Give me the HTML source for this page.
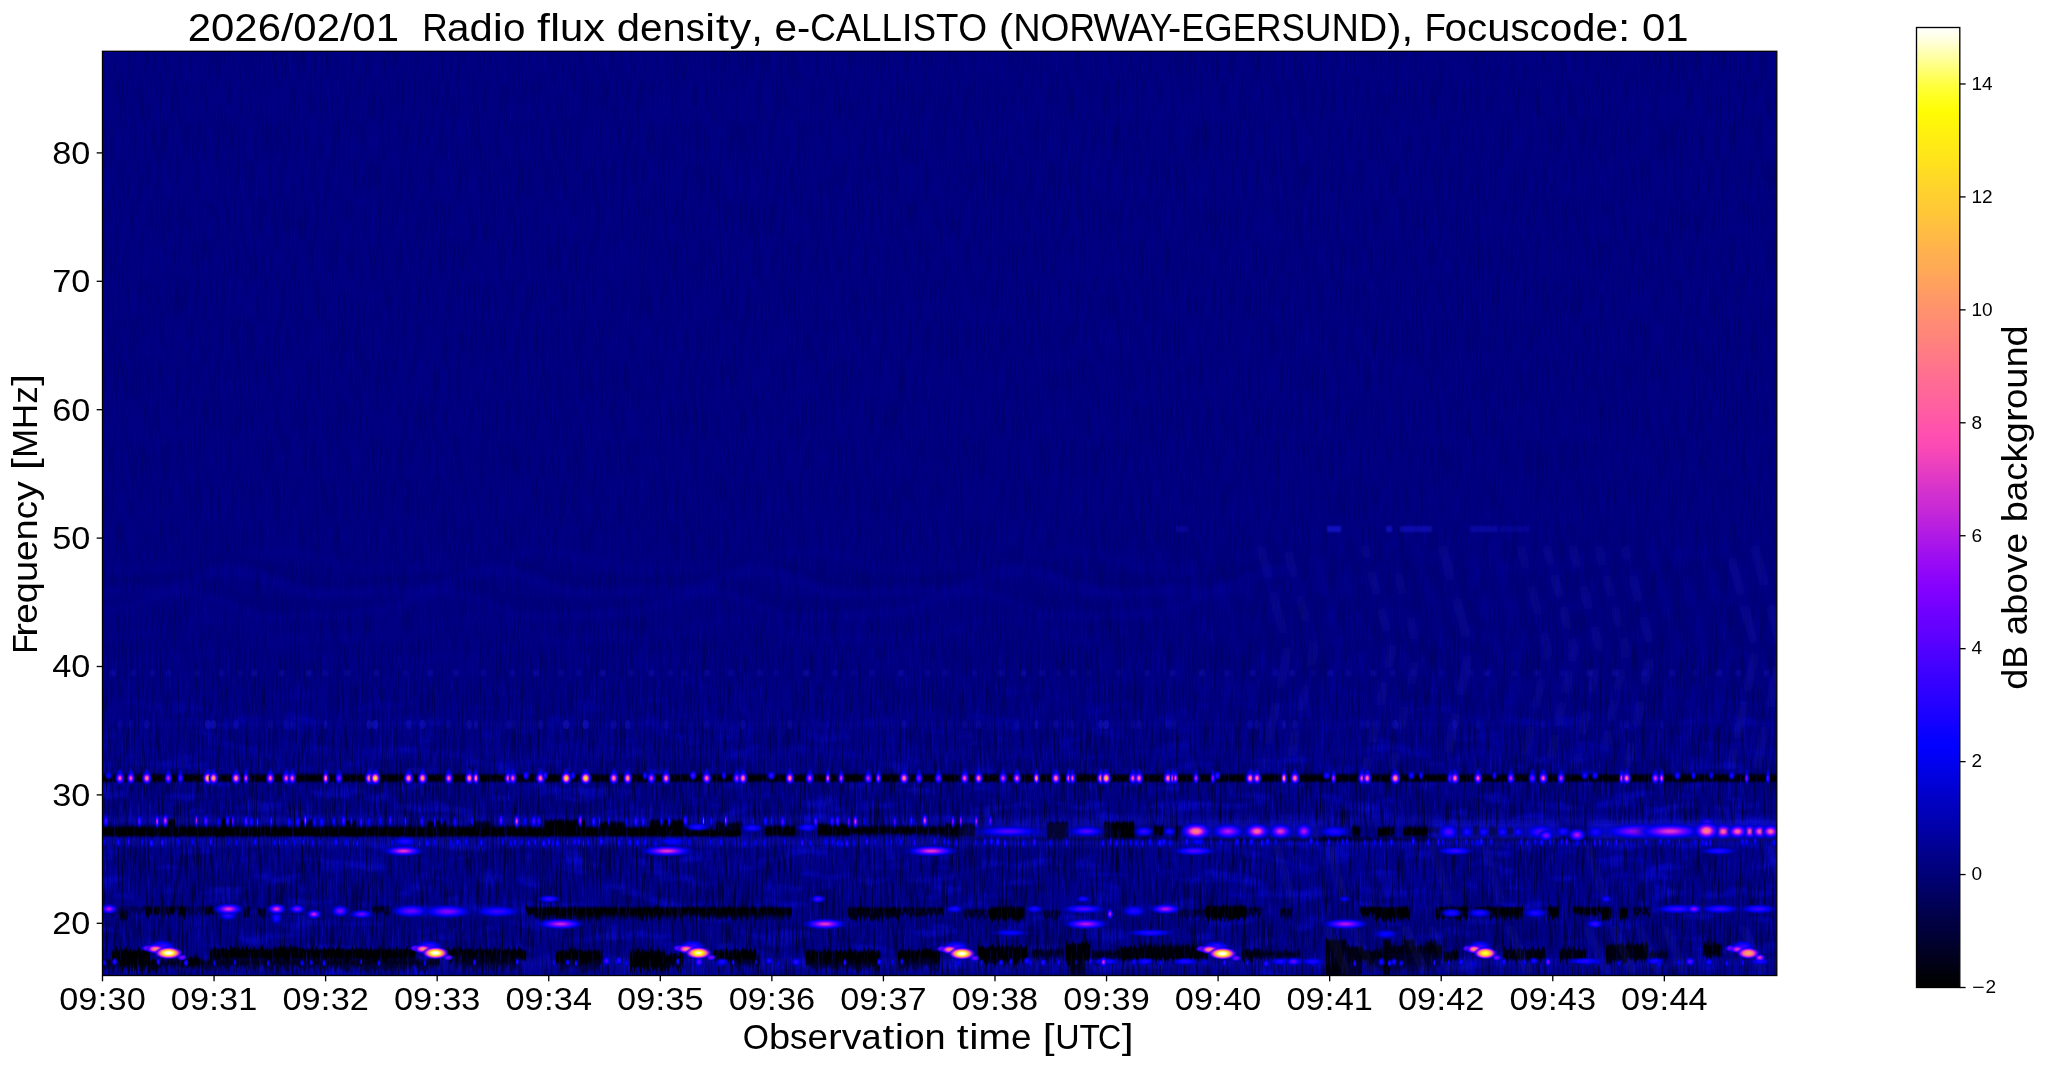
<!DOCTYPE html>
<html><head><meta charset="utf-8"><title>Radio flux density</title>
<style>html,body{margin:0;padding:0;background:#fff;overflow:hidden}svg{display:block}text{font-family:"Liberation Sans",sans-serif;fill:#000}</style>
</head><body>
<svg width="2047" height="1067" viewBox="0 0 2047 1067">
<rect x="0" y="0" width="2047" height="1067" fill="#fff"/>
<defs>
<clipPath id="pc"><rect x="102.50" y="51.30" width="1674.30" height="924.20"/></clipPath>
<linearGradient id="cb" x1="0" y1="1" x2="0" y2="0">
<stop offset="0.0000" stop-color="#000000"/>
<stop offset="0.0147" stop-color="#00000c"/>
<stop offset="0.0294" stop-color="#00001c"/>
<stop offset="0.0441" stop-color="#00002c"/>
<stop offset="0.0588" stop-color="#00003c"/>
<stop offset="0.0735" stop-color="#000048"/>
<stop offset="0.0882" stop-color="#000058"/>
<stop offset="0.1029" stop-color="#000068"/>
<stop offset="0.1176" stop-color="#000078"/>
<stop offset="0.1324" stop-color="#000084"/>
<stop offset="0.1471" stop-color="#000094"/>
<stop offset="0.1618" stop-color="#0000a4"/>
<stop offset="0.1765" stop-color="#0000b4"/>
<stop offset="0.1912" stop-color="#0000c0"/>
<stop offset="0.2059" stop-color="#0000d0"/>
<stop offset="0.2206" stop-color="#0000e0"/>
<stop offset="0.2353" stop-color="#0000f0"/>
<stop offset="0.2500" stop-color="#0100ff"/>
<stop offset="0.2647" stop-color="#0a00ff"/>
<stop offset="0.2794" stop-color="#1700ff"/>
<stop offset="0.2941" stop-color="#2300ff"/>
<stop offset="0.3088" stop-color="#3000ff"/>
<stop offset="0.3235" stop-color="#3900ff"/>
<stop offset="0.3382" stop-color="#4600ff"/>
<stop offset="0.3529" stop-color="#5200ff"/>
<stop offset="0.3676" stop-color="#5f00ff"/>
<stop offset="0.3824" stop-color="#6800ff"/>
<stop offset="0.3971" stop-color="#7400ff"/>
<stop offset="0.4118" stop-color="#8100ff"/>
<stop offset="0.4265" stop-color="#8d04fb"/>
<stop offset="0.4412" stop-color="#970af5"/>
<stop offset="0.4559" stop-color="#a312ed"/>
<stop offset="0.4706" stop-color="#b01ae5"/>
<stop offset="0.4853" stop-color="#bc22dd"/>
<stop offset="0.5000" stop-color="#c92ad5"/>
<stop offset="0.5147" stop-color="#d230cf"/>
<stop offset="0.5294" stop-color="#df38c7"/>
<stop offset="0.5441" stop-color="#eb40bf"/>
<stop offset="0.5588" stop-color="#f848b7"/>
<stop offset="0.5735" stop-color="#ff4eb1"/>
<stop offset="0.5882" stop-color="#ff56a9"/>
<stop offset="0.6029" stop-color="#ff5ea1"/>
<stop offset="0.6176" stop-color="#ff6699"/>
<stop offset="0.6324" stop-color="#ff6c93"/>
<stop offset="0.6471" stop-color="#ff748b"/>
<stop offset="0.6618" stop-color="#ff7c83"/>
<stop offset="0.6765" stop-color="#ff847b"/>
<stop offset="0.6912" stop-color="#ff8a75"/>
<stop offset="0.7059" stop-color="#ff926d"/>
<stop offset="0.7206" stop-color="#ff9a65"/>
<stop offset="0.7353" stop-color="#ffa25d"/>
<stop offset="0.7500" stop-color="#ffaa55"/>
<stop offset="0.7647" stop-color="#ffb04f"/>
<stop offset="0.7794" stop-color="#ffb847"/>
<stop offset="0.7941" stop-color="#ffc03f"/>
<stop offset="0.8088" stop-color="#ffc837"/>
<stop offset="0.8235" stop-color="#ffce31"/>
<stop offset="0.8382" stop-color="#ffd629"/>
<stop offset="0.8529" stop-color="#ffde21"/>
<stop offset="0.8676" stop-color="#ffe619"/>
<stop offset="0.8824" stop-color="#ffec13"/>
<stop offset="0.8971" stop-color="#fff40b"/>
<stop offset="0.9118" stop-color="#fffc03"/>
<stop offset="0.9265" stop-color="#ffff1e"/>
<stop offset="0.9412" stop-color="#ffff43"/>
<stop offset="0.9559" stop-color="#ffff75"/>
<stop offset="0.9706" stop-color="#ffffa7"/>
<stop offset="0.9853" stop-color="#ffffda"/>
<stop offset="1.0000" stop-color="#ffffff"/>
</linearGradient>
<radialGradient id="g4">
<stop offset="0.00" stop-color="#0000f0" stop-opacity="1.00"/>
<stop offset="0.10" stop-color="#0000ec" stop-opacity="1.00"/>
<stop offset="0.20" stop-color="#0000dc" stop-opacity="0.94"/>
<stop offset="0.30" stop-color="#0000cc" stop-opacity="0.68"/>
<stop offset="0.40" stop-color="#0000bc" stop-opacity="0.42"/>
<stop offset="0.50" stop-color="#0000ac" stop-opacity="0.21"/>
<stop offset="0.60" stop-color="#0000a4" stop-opacity="0.06"/>
<stop offset="0.70" stop-color="#00009c" stop-opacity="0.00"/>
<stop offset="0.80" stop-color="#000098" stop-opacity="0.00"/>
<stop offset="0.90" stop-color="#000098" stop-opacity="0.00"/>
<stop offset="1.00" stop-color="#000098" stop-opacity="0.00"/>
</radialGradient>
<radialGradient id="g5">
<stop offset="0.00" stop-color="#0a00ff" stop-opacity="1.00"/>
<stop offset="0.10" stop-color="#0700ff" stop-opacity="1.00"/>
<stop offset="0.20" stop-color="#0000f4" stop-opacity="1.00"/>
<stop offset="0.30" stop-color="#0000e0" stop-opacity="0.96"/>
<stop offset="0.40" stop-color="#0000c8" stop-opacity="0.61"/>
<stop offset="0.50" stop-color="#0000b4" stop-opacity="0.32"/>
<stop offset="0.60" stop-color="#0000a8" stop-opacity="0.12"/>
<stop offset="0.70" stop-color="#0000a0" stop-opacity="0.00"/>
<stop offset="0.80" stop-color="#00009c" stop-opacity="0.00"/>
<stop offset="0.90" stop-color="#000098" stop-opacity="0.00"/>
<stop offset="1.00" stop-color="#000098" stop-opacity="0.00"/>
</radialGradient>
<radialGradient id="g6">
<stop offset="0.00" stop-color="#2300ff" stop-opacity="1.00"/>
<stop offset="0.10" stop-color="#1d00ff" stop-opacity="1.00"/>
<stop offset="0.20" stop-color="#0a00ff" stop-opacity="1.00"/>
<stop offset="0.30" stop-color="#0000f0" stop-opacity="1.00"/>
<stop offset="0.40" stop-color="#0000d4" stop-opacity="0.79"/>
<stop offset="0.50" stop-color="#0000bc" stop-opacity="0.43"/>
<stop offset="0.60" stop-color="#0000ac" stop-opacity="0.18"/>
<stop offset="0.70" stop-color="#0000a0" stop-opacity="0.03"/>
<stop offset="0.80" stop-color="#00009c" stop-opacity="0.00"/>
<stop offset="0.90" stop-color="#000098" stop-opacity="0.00"/>
<stop offset="1.00" stop-color="#000098" stop-opacity="0.00"/>
</radialGradient>
<radialGradient id="g7">
<stop offset="0.00" stop-color="#3900ff" stop-opacity="1.00"/>
<stop offset="0.10" stop-color="#3300ff" stop-opacity="1.00"/>
<stop offset="0.20" stop-color="#1d00ff" stop-opacity="1.00"/>
<stop offset="0.30" stop-color="#0400ff" stop-opacity="1.00"/>
<stop offset="0.40" stop-color="#0000e0" stop-opacity="0.97"/>
<stop offset="0.50" stop-color="#0000c4" stop-opacity="0.54"/>
<stop offset="0.60" stop-color="#0000b0" stop-opacity="0.24"/>
<stop offset="0.70" stop-color="#0000a4" stop-opacity="0.06"/>
<stop offset="0.80" stop-color="#00009c" stop-opacity="0.00"/>
<stop offset="0.90" stop-color="#000098" stop-opacity="0.00"/>
<stop offset="1.00" stop-color="#000098" stop-opacity="0.00"/>
</radialGradient>
<radialGradient id="g8">
<stop offset="0.00" stop-color="#5200ff" stop-opacity="1.00"/>
<stop offset="0.10" stop-color="#4900ff" stop-opacity="1.00"/>
<stop offset="0.20" stop-color="#3000ff" stop-opacity="1.00"/>
<stop offset="0.30" stop-color="#1000ff" stop-opacity="1.00"/>
<stop offset="0.40" stop-color="#0000ec" stop-opacity="1.00"/>
<stop offset="0.50" stop-color="#0000c8" stop-opacity="0.65"/>
<stop offset="0.60" stop-color="#0000b4" stop-opacity="0.30"/>
<stop offset="0.70" stop-color="#0000a4" stop-opacity="0.09"/>
<stop offset="0.80" stop-color="#00009c" stop-opacity="0.00"/>
<stop offset="0.90" stop-color="#000098" stop-opacity="0.00"/>
<stop offset="1.00" stop-color="#000098" stop-opacity="0.00"/>
</radialGradient>
<radialGradient id="g9">
<stop offset="0.00" stop-color="#6800ff" stop-opacity="1.00"/>
<stop offset="0.10" stop-color="#5f00ff" stop-opacity="1.00"/>
<stop offset="0.20" stop-color="#4200ff" stop-opacity="1.00"/>
<stop offset="0.30" stop-color="#2000ff" stop-opacity="1.00"/>
<stop offset="0.40" stop-color="#0000f8" stop-opacity="1.00"/>
<stop offset="0.50" stop-color="#0000d0" stop-opacity="0.76"/>
<stop offset="0.60" stop-color="#0000b8" stop-opacity="0.36"/>
<stop offset="0.70" stop-color="#0000a8" stop-opacity="0.11"/>
<stop offset="0.80" stop-color="#00009c" stop-opacity="0.00"/>
<stop offset="0.90" stop-color="#00009c" stop-opacity="0.00"/>
<stop offset="1.00" stop-color="#000098" stop-opacity="0.00"/>
</radialGradient>
<radialGradient id="g10">
<stop offset="0.00" stop-color="#8100ff" stop-opacity="1.00"/>
<stop offset="0.10" stop-color="#7400ff" stop-opacity="1.00"/>
<stop offset="0.20" stop-color="#5500ff" stop-opacity="1.00"/>
<stop offset="0.30" stop-color="#2d00ff" stop-opacity="1.00"/>
<stop offset="0.40" stop-color="#0400ff" stop-opacity="1.00"/>
<stop offset="0.50" stop-color="#0000d8" stop-opacity="0.87"/>
<stop offset="0.60" stop-color="#0000bc" stop-opacity="0.42"/>
<stop offset="0.70" stop-color="#0000a8" stop-opacity="0.14"/>
<stop offset="0.80" stop-color="#0000a0" stop-opacity="0.00"/>
<stop offset="0.90" stop-color="#00009c" stop-opacity="0.00"/>
<stop offset="1.00" stop-color="#000098" stop-opacity="0.00"/>
</radialGradient>
<radialGradient id="g11">
<stop offset="0.00" stop-color="#970af5" stop-opacity="1.00"/>
<stop offset="0.10" stop-color="#8a02fd" stop-opacity="1.00"/>
<stop offset="0.20" stop-color="#6800ff" stop-opacity="1.00"/>
<stop offset="0.30" stop-color="#3c00ff" stop-opacity="1.00"/>
<stop offset="0.40" stop-color="#0d00ff" stop-opacity="1.00"/>
<stop offset="0.50" stop-color="#0000e0" stop-opacity="0.98"/>
<stop offset="0.60" stop-color="#0000c0" stop-opacity="0.48"/>
<stop offset="0.70" stop-color="#0000ac" stop-opacity="0.17"/>
<stop offset="0.80" stop-color="#0000a0" stop-opacity="0.01"/>
<stop offset="0.90" stop-color="#00009c" stop-opacity="0.00"/>
<stop offset="1.00" stop-color="#000098" stop-opacity="0.00"/>
</radialGradient>
<radialGradient id="g12">
<stop offset="0.00" stop-color="#b01ae5" stop-opacity="1.00"/>
<stop offset="0.10" stop-color="#a010ef" stop-opacity="1.00"/>
<stop offset="0.20" stop-color="#7b00ff" stop-opacity="1.00"/>
<stop offset="0.30" stop-color="#4900ff" stop-opacity="1.00"/>
<stop offset="0.40" stop-color="#1700ff" stop-opacity="1.00"/>
<stop offset="0.50" stop-color="#0000e8" stop-opacity="1.00"/>
<stop offset="0.60" stop-color="#0000c4" stop-opacity="0.53"/>
<stop offset="0.70" stop-color="#0000ac" stop-opacity="0.20"/>
<stop offset="0.80" stop-color="#0000a0" stop-opacity="0.02"/>
<stop offset="0.90" stop-color="#00009c" stop-opacity="0.00"/>
<stop offset="1.00" stop-color="#000098" stop-opacity="0.00"/>
</radialGradient>
<radialGradient id="g13">
<stop offset="0.00" stop-color="#c92ad5" stop-opacity="1.00"/>
<stop offset="0.10" stop-color="#b920df" stop-opacity="1.00"/>
<stop offset="0.20" stop-color="#8d04fb" stop-opacity="1.00"/>
<stop offset="0.30" stop-color="#5800ff" stop-opacity="1.00"/>
<stop offset="0.40" stop-color="#2000ff" stop-opacity="1.00"/>
<stop offset="0.50" stop-color="#0000f0" stop-opacity="1.00"/>
<stop offset="0.60" stop-color="#0000c8" stop-opacity="0.59"/>
<stop offset="0.70" stop-color="#0000ac" stop-opacity="0.23"/>
<stop offset="0.80" stop-color="#0000a0" stop-opacity="0.03"/>
<stop offset="0.90" stop-color="#00009c" stop-opacity="0.00"/>
<stop offset="1.00" stop-color="#000098" stop-opacity="0.00"/>
</radialGradient>
<radialGradient id="g14">
<stop offset="0.00" stop-color="#df38c7" stop-opacity="1.00"/>
<stop offset="0.10" stop-color="#cf2ed1" stop-opacity="1.00"/>
<stop offset="0.20" stop-color="#a010ef" stop-opacity="1.00"/>
<stop offset="0.30" stop-color="#6500ff" stop-opacity="1.00"/>
<stop offset="0.40" stop-color="#2900ff" stop-opacity="1.00"/>
<stop offset="0.50" stop-color="#0000f4" stop-opacity="1.00"/>
<stop offset="0.60" stop-color="#0000cc" stop-opacity="0.65"/>
<stop offset="0.70" stop-color="#0000b0" stop-opacity="0.26"/>
<stop offset="0.80" stop-color="#0000a0" stop-opacity="0.05"/>
<stop offset="0.90" stop-color="#00009c" stop-opacity="0.00"/>
<stop offset="1.00" stop-color="#000098" stop-opacity="0.00"/>
</radialGradient>
<radialGradient id="g15">
<stop offset="0.00" stop-color="#f848b7" stop-opacity="1.00"/>
<stop offset="0.10" stop-color="#e53cc3" stop-opacity="1.00"/>
<stop offset="0.20" stop-color="#b31ce3" stop-opacity="1.00"/>
<stop offset="0.30" stop-color="#7400ff" stop-opacity="1.00"/>
<stop offset="0.40" stop-color="#3300ff" stop-opacity="1.00"/>
<stop offset="0.50" stop-color="#0000fc" stop-opacity="1.00"/>
<stop offset="0.60" stop-color="#0000cc" stop-opacity="0.71"/>
<stop offset="0.70" stop-color="#0000b0" stop-opacity="0.28"/>
<stop offset="0.80" stop-color="#0000a4" stop-opacity="0.06"/>
<stop offset="0.90" stop-color="#00009c" stop-opacity="0.00"/>
<stop offset="1.00" stop-color="#000098" stop-opacity="0.00"/>
</radialGradient>
<radialGradient id="g16">
<stop offset="0.00" stop-color="#ff56a9" stop-opacity="1.00"/>
<stop offset="0.10" stop-color="#fb4ab5" stop-opacity="1.00"/>
<stop offset="0.20" stop-color="#c628d7" stop-opacity="1.00"/>
<stop offset="0.30" stop-color="#8100ff" stop-opacity="1.00"/>
<stop offset="0.40" stop-color="#3c00ff" stop-opacity="1.00"/>
<stop offset="0.50" stop-color="#0400ff" stop-opacity="1.00"/>
<stop offset="0.60" stop-color="#0000d0" stop-opacity="0.77"/>
<stop offset="0.70" stop-color="#0000b4" stop-opacity="0.31"/>
<stop offset="0.80" stop-color="#0000a4" stop-opacity="0.07"/>
<stop offset="0.90" stop-color="#00009c" stop-opacity="0.00"/>
<stop offset="1.00" stop-color="#000098" stop-opacity="0.00"/>
</radialGradient>
<radialGradient id="g17">
<stop offset="0.00" stop-color="#ff6699" stop-opacity="1.00"/>
<stop offset="0.10" stop-color="#ff58a7" stop-opacity="1.00"/>
<stop offset="0.20" stop-color="#d834cb" stop-opacity="1.00"/>
<stop offset="0.30" stop-color="#9106f9" stop-opacity="1.00"/>
<stop offset="0.40" stop-color="#4600ff" stop-opacity="1.00"/>
<stop offset="0.50" stop-color="#0a00ff" stop-opacity="1.00"/>
<stop offset="0.60" stop-color="#0000d4" stop-opacity="0.83"/>
<stop offset="0.70" stop-color="#0000b4" stop-opacity="0.34"/>
<stop offset="0.80" stop-color="#0000a4" stop-opacity="0.08"/>
<stop offset="0.90" stop-color="#00009c" stop-opacity="0.00"/>
<stop offset="1.00" stop-color="#000098" stop-opacity="0.00"/>
</radialGradient>
<radialGradient id="g18">
<stop offset="0.00" stop-color="#ff748b" stop-opacity="1.00"/>
<stop offset="0.10" stop-color="#ff6699" stop-opacity="1.00"/>
<stop offset="0.20" stop-color="#eb40bf" stop-opacity="1.00"/>
<stop offset="0.30" stop-color="#9d0ef1" stop-opacity="1.00"/>
<stop offset="0.40" stop-color="#4f00ff" stop-opacity="1.00"/>
<stop offset="0.50" stop-color="#1000ff" stop-opacity="1.00"/>
<stop offset="0.60" stop-color="#0000d8" stop-opacity="0.89"/>
<stop offset="0.70" stop-color="#0000b8" stop-opacity="0.37"/>
<stop offset="0.80" stop-color="#0000a4" stop-opacity="0.09"/>
<stop offset="0.90" stop-color="#00009c" stop-opacity="0.00"/>
<stop offset="1.00" stop-color="#000098" stop-opacity="0.00"/>
</radialGradient>
<radialGradient id="g19">
<stop offset="0.00" stop-color="#ff847b" stop-opacity="1.00"/>
<stop offset="0.10" stop-color="#ff748b" stop-opacity="1.00"/>
<stop offset="0.20" stop-color="#fe4cb3" stop-opacity="1.00"/>
<stop offset="0.30" stop-color="#ad18e7" stop-opacity="1.00"/>
<stop offset="0.40" stop-color="#5800ff" stop-opacity="1.00"/>
<stop offset="0.50" stop-color="#1700ff" stop-opacity="1.00"/>
<stop offset="0.60" stop-color="#0000dc" stop-opacity="0.95"/>
<stop offset="0.70" stop-color="#0000b8" stop-opacity="0.40"/>
<stop offset="0.80" stop-color="#0000a4" stop-opacity="0.11"/>
<stop offset="0.90" stop-color="#00009c" stop-opacity="0.00"/>
<stop offset="1.00" stop-color="#000098" stop-opacity="0.00"/>
</radialGradient>
<radialGradient id="g20">
<stop offset="0.00" stop-color="#ff926d" stop-opacity="1.00"/>
<stop offset="0.10" stop-color="#ff827d" stop-opacity="1.00"/>
<stop offset="0.20" stop-color="#ff58a7" stop-opacity="1.00"/>
<stop offset="0.30" stop-color="#b920df" stop-opacity="1.00"/>
<stop offset="0.40" stop-color="#6200ff" stop-opacity="1.00"/>
<stop offset="0.50" stop-color="#1a00ff" stop-opacity="1.00"/>
<stop offset="0.60" stop-color="#0000e0" stop-opacity="1.00"/>
<stop offset="0.70" stop-color="#0000bc" stop-opacity="0.43"/>
<stop offset="0.80" stop-color="#0000a8" stop-opacity="0.12"/>
<stop offset="0.90" stop-color="#00009c" stop-opacity="0.00"/>
<stop offset="1.00" stop-color="#000098" stop-opacity="0.00"/>
</radialGradient>
<radialGradient id="g21">
<stop offset="0.00" stop-color="#ffa25d" stop-opacity="1.00"/>
<stop offset="0.10" stop-color="#ff906f" stop-opacity="1.00"/>
<stop offset="0.20" stop-color="#ff649b" stop-opacity="1.00"/>
<stop offset="0.30" stop-color="#c92ad5" stop-opacity="1.00"/>
<stop offset="0.40" stop-color="#6b00ff" stop-opacity="1.00"/>
<stop offset="0.50" stop-color="#2000ff" stop-opacity="1.00"/>
<stop offset="0.60" stop-color="#0000e4" stop-opacity="1.00"/>
<stop offset="0.70" stop-color="#0000bc" stop-opacity="0.45"/>
<stop offset="0.80" stop-color="#0000a8" stop-opacity="0.13"/>
<stop offset="0.90" stop-color="#00009c" stop-opacity="0.00"/>
<stop offset="1.00" stop-color="#000098" stop-opacity="0.00"/>
</radialGradient>
<radialGradient id="g22">
<stop offset="0.00" stop-color="#ffb04f" stop-opacity="1.00"/>
<stop offset="0.10" stop-color="#ffa05f" stop-opacity="1.00"/>
<stop offset="0.20" stop-color="#ff708f" stop-opacity="1.00"/>
<stop offset="0.30" stop-color="#d532cd" stop-opacity="1.00"/>
<stop offset="0.40" stop-color="#7400ff" stop-opacity="1.00"/>
<stop offset="0.50" stop-color="#2600ff" stop-opacity="1.00"/>
<stop offset="0.60" stop-color="#0000e8" stop-opacity="1.00"/>
<stop offset="0.70" stop-color="#0000c0" stop-opacity="0.48"/>
<stop offset="0.80" stop-color="#0000a8" stop-opacity="0.14"/>
<stop offset="0.90" stop-color="#00009c" stop-opacity="0.00"/>
<stop offset="1.00" stop-color="#000098" stop-opacity="0.00"/>
</radialGradient>
<radialGradient id="g23">
<stop offset="0.00" stop-color="#ffc03f" stop-opacity="1.00"/>
<stop offset="0.10" stop-color="#ffae51" stop-opacity="1.00"/>
<stop offset="0.20" stop-color="#ff7c83" stop-opacity="1.00"/>
<stop offset="0.30" stop-color="#e53cc3" stop-opacity="1.00"/>
<stop offset="0.40" stop-color="#7e00ff" stop-opacity="1.00"/>
<stop offset="0.50" stop-color="#2d00ff" stop-opacity="1.00"/>
<stop offset="0.60" stop-color="#0000ec" stop-opacity="1.00"/>
<stop offset="0.70" stop-color="#0000c0" stop-opacity="0.51"/>
<stop offset="0.80" stop-color="#0000a8" stop-opacity="0.16"/>
<stop offset="0.90" stop-color="#0000a0" stop-opacity="0.00"/>
<stop offset="1.00" stop-color="#000098" stop-opacity="0.00"/>
</radialGradient>
<radialGradient id="g24">
<stop offset="0.00" stop-color="#ffce31" stop-opacity="1.00"/>
<stop offset="0.10" stop-color="#ffbc43" stop-opacity="1.00"/>
<stop offset="0.20" stop-color="#ff8877" stop-opacity="1.00"/>
<stop offset="0.30" stop-color="#f144bb" stop-opacity="1.00"/>
<stop offset="0.40" stop-color="#8a02fd" stop-opacity="1.00"/>
<stop offset="0.50" stop-color="#3300ff" stop-opacity="1.00"/>
<stop offset="0.60" stop-color="#0000f0" stop-opacity="1.00"/>
<stop offset="0.70" stop-color="#0000c4" stop-opacity="0.54"/>
<stop offset="0.80" stop-color="#0000a8" stop-opacity="0.17"/>
<stop offset="0.90" stop-color="#0000a0" stop-opacity="0.00"/>
<stop offset="1.00" stop-color="#000098" stop-opacity="0.00"/>
</radialGradient>
<radialGradient id="g25">
<stop offset="0.00" stop-color="#ffde21" stop-opacity="1.00"/>
<stop offset="0.10" stop-color="#ffca35" stop-opacity="1.00"/>
<stop offset="0.20" stop-color="#ff946b" stop-opacity="1.00"/>
<stop offset="0.30" stop-color="#ff4eb1" stop-opacity="1.00"/>
<stop offset="0.40" stop-color="#9408f7" stop-opacity="1.00"/>
<stop offset="0.50" stop-color="#3900ff" stop-opacity="1.00"/>
<stop offset="0.60" stop-color="#0000f4" stop-opacity="1.00"/>
<stop offset="0.70" stop-color="#0000c4" stop-opacity="0.57"/>
<stop offset="0.80" stop-color="#0000ac" stop-opacity="0.18"/>
<stop offset="0.90" stop-color="#0000a0" stop-opacity="0.00"/>
<stop offset="1.00" stop-color="#00009c" stop-opacity="0.00"/>
</radialGradient>
<radialGradient id="g26">
<stop offset="0.00" stop-color="#ffec13" stop-opacity="1.00"/>
<stop offset="0.10" stop-color="#ffd827" stop-opacity="1.00"/>
<stop offset="0.20" stop-color="#ffa05f" stop-opacity="1.00"/>
<stop offset="0.30" stop-color="#ff56a9" stop-opacity="1.00"/>
<stop offset="0.40" stop-color="#9d0ef1" stop-opacity="1.00"/>
<stop offset="0.50" stop-color="#3c00ff" stop-opacity="1.00"/>
<stop offset="0.60" stop-color="#0000f8" stop-opacity="1.00"/>
<stop offset="0.70" stop-color="#0000c8" stop-opacity="0.59"/>
<stop offset="0.80" stop-color="#0000ac" stop-opacity="0.19"/>
<stop offset="0.90" stop-color="#0000a0" stop-opacity="0.01"/>
<stop offset="1.00" stop-color="#00009c" stop-opacity="0.00"/>
</radialGradient>
<radialGradient id="g27">
<stop offset="0.00" stop-color="#fffc03" stop-opacity="1.00"/>
<stop offset="0.10" stop-color="#ffe619" stop-opacity="1.00"/>
<stop offset="0.20" stop-color="#ffac53" stop-opacity="1.00"/>
<stop offset="0.30" stop-color="#ff609f" stop-opacity="1.00"/>
<stop offset="0.40" stop-color="#a614eb" stop-opacity="1.00"/>
<stop offset="0.50" stop-color="#4200ff" stop-opacity="1.00"/>
<stop offset="0.60" stop-color="#0000fc" stop-opacity="1.00"/>
<stop offset="0.70" stop-color="#0000c8" stop-opacity="0.62"/>
<stop offset="0.80" stop-color="#0000ac" stop-opacity="0.20"/>
<stop offset="0.90" stop-color="#0000a0" stop-opacity="0.01"/>
<stop offset="1.00" stop-color="#00009c" stop-opacity="0.00"/>
</radialGradient>
<radialGradient id="g28">
<stop offset="0.00" stop-color="#ffff43" stop-opacity="1.00"/>
<stop offset="0.10" stop-color="#fff40b" stop-opacity="1.00"/>
<stop offset="0.20" stop-color="#ffb847" stop-opacity="1.00"/>
<stop offset="0.30" stop-color="#ff6a95" stop-opacity="1.00"/>
<stop offset="0.40" stop-color="#b01ae5" stop-opacity="1.00"/>
<stop offset="0.50" stop-color="#4900ff" stop-opacity="1.00"/>
<stop offset="0.60" stop-color="#0100ff" stop-opacity="1.00"/>
<stop offset="0.70" stop-color="#0000c8" stop-opacity="0.65"/>
<stop offset="0.80" stop-color="#0000ac" stop-opacity="0.22"/>
<stop offset="0.90" stop-color="#0000a0" stop-opacity="0.01"/>
<stop offset="1.00" stop-color="#00009c" stop-opacity="0.00"/>
</radialGradient>
<radialGradient id="g29">
<stop offset="0.00" stop-color="#ffffa7" stop-opacity="1.00"/>
<stop offset="0.10" stop-color="#ffff11" stop-opacity="1.00"/>
<stop offset="0.20" stop-color="#ffc43b" stop-opacity="1.00"/>
<stop offset="0.30" stop-color="#ff728d" stop-opacity="1.00"/>
<stop offset="0.40" stop-color="#b920df" stop-opacity="1.00"/>
<stop offset="0.50" stop-color="#4f00ff" stop-opacity="1.00"/>
<stop offset="0.60" stop-color="#0400ff" stop-opacity="1.00"/>
<stop offset="0.70" stop-color="#0000cc" stop-opacity="0.68"/>
<stop offset="0.80" stop-color="#0000ac" stop-opacity="0.23"/>
<stop offset="0.90" stop-color="#0000a0" stop-opacity="0.02"/>
<stop offset="1.00" stop-color="#00009c" stop-opacity="0.00"/>
</radialGradient>
<radialGradient id="g30">
<stop offset="0.00" stop-color="#ffffff" stop-opacity="1.00"/>
<stop offset="0.10" stop-color="#ffff75" stop-opacity="1.00"/>
<stop offset="0.20" stop-color="#ffd02f" stop-opacity="1.00"/>
<stop offset="0.30" stop-color="#ff7c83" stop-opacity="1.00"/>
<stop offset="0.40" stop-color="#c326d9" stop-opacity="1.00"/>
<stop offset="0.50" stop-color="#5500ff" stop-opacity="1.00"/>
<stop offset="0.60" stop-color="#0700ff" stop-opacity="1.00"/>
<stop offset="0.70" stop-color="#0000cc" stop-opacity="0.71"/>
<stop offset="0.80" stop-color="#0000b0" stop-opacity="0.24"/>
<stop offset="0.90" stop-color="#0000a0" stop-opacity="0.02"/>
<stop offset="1.00" stop-color="#00009c" stop-opacity="0.00"/>
</radialGradient>
<radialGradient id="h10">
<stop offset="0.00" stop-color="#8100ff" stop-opacity="1.00"/>
<stop offset="0.10" stop-color="#7800ff" stop-opacity="1.00"/>
<stop offset="0.20" stop-color="#6200ff" stop-opacity="1.00"/>
<stop offset="0.30" stop-color="#4200ff" stop-opacity="1.00"/>
<stop offset="0.40" stop-color="#1d00ff" stop-opacity="0.65"/>
<stop offset="0.50" stop-color="#0000fc" stop-opacity="0.29"/>
<stop offset="0.60" stop-color="#0000d8" stop-opacity="0.00"/>
<stop offset="0.70" stop-color="#0000bc" stop-opacity="0.00"/>
<stop offset="0.80" stop-color="#0000ac" stop-opacity="0.00"/>
<stop offset="0.90" stop-color="#0000a4" stop-opacity="0.00"/>
<stop offset="1.00" stop-color="#00009c" stop-opacity="0.00"/>
</radialGradient>
<radialGradient id="h11">
<stop offset="0.00" stop-color="#970af5" stop-opacity="1.00"/>
<stop offset="0.10" stop-color="#9106f9" stop-opacity="1.00"/>
<stop offset="0.20" stop-color="#7400ff" stop-opacity="1.00"/>
<stop offset="0.30" stop-color="#5200ff" stop-opacity="1.00"/>
<stop offset="0.40" stop-color="#2900ff" stop-opacity="0.78"/>
<stop offset="0.50" stop-color="#0400ff" stop-opacity="0.39"/>
<stop offset="0.60" stop-color="#0000e0" stop-opacity="0.06"/>
<stop offset="0.70" stop-color="#0000c0" stop-opacity="0.00"/>
<stop offset="0.80" stop-color="#0000b0" stop-opacity="0.00"/>
<stop offset="0.90" stop-color="#0000a4" stop-opacity="0.00"/>
<stop offset="1.00" stop-color="#00009c" stop-opacity="0.00"/>
</radialGradient>
<radialGradient id="h14">
<stop offset="0.00" stop-color="#df38c7" stop-opacity="1.00"/>
<stop offset="0.10" stop-color="#d230cf" stop-opacity="1.00"/>
<stop offset="0.20" stop-color="#b31ce3" stop-opacity="1.00"/>
<stop offset="0.30" stop-color="#8400ff" stop-opacity="1.00"/>
<stop offset="0.40" stop-color="#4f00ff" stop-opacity="1.00"/>
<stop offset="0.50" stop-color="#2000ff" stop-opacity="0.66"/>
<stop offset="0.60" stop-color="#0000f4" stop-opacity="0.24"/>
<stop offset="0.70" stop-color="#0000d0" stop-opacity="0.00"/>
<stop offset="0.80" stop-color="#0000b4" stop-opacity="0.00"/>
<stop offset="0.90" stop-color="#0000a8" stop-opacity="0.00"/>
<stop offset="1.00" stop-color="#0000a0" stop-opacity="0.00"/>
</radialGradient>
<radialGradient id="h17">
<stop offset="0.00" stop-color="#ff6699" stop-opacity="1.00"/>
<stop offset="0.10" stop-color="#ff5ca3" stop-opacity="1.00"/>
<stop offset="0.20" stop-color="#ee42bd" stop-opacity="1.00"/>
<stop offset="0.30" stop-color="#b31ce3" stop-opacity="1.00"/>
<stop offset="0.40" stop-color="#7400ff" stop-opacity="1.00"/>
<stop offset="0.50" stop-color="#3900ff" stop-opacity="0.94"/>
<stop offset="0.60" stop-color="#0700ff" stop-opacity="0.42"/>
<stop offset="0.70" stop-color="#0000dc" stop-opacity="0.03"/>
<stop offset="0.80" stop-color="#0000bc" stop-opacity="0.00"/>
<stop offset="0.90" stop-color="#0000ac" stop-opacity="0.00"/>
<stop offset="1.00" stop-color="#0000a0" stop-opacity="0.00"/>
</radialGradient>
<radialGradient id="h20">
<stop offset="0.00" stop-color="#ff926d" stop-opacity="1.00"/>
<stop offset="0.10" stop-color="#ff8877" stop-opacity="1.00"/>
<stop offset="0.20" stop-color="#ff6897" stop-opacity="1.00"/>
<stop offset="0.30" stop-color="#e53cc3" stop-opacity="1.00"/>
<stop offset="0.40" stop-color="#9a0cf3" stop-opacity="1.00"/>
<stop offset="0.50" stop-color="#5200ff" stop-opacity="1.00"/>
<stop offset="0.60" stop-color="#1a00ff" stop-opacity="0.59"/>
<stop offset="0.70" stop-color="#0000e8" stop-opacity="0.14"/>
<stop offset="0.80" stop-color="#0000c4" stop-opacity="0.00"/>
<stop offset="0.90" stop-color="#0000ac" stop-opacity="0.00"/>
<stop offset="1.00" stop-color="#0000a4" stop-opacity="0.00"/>
</radialGradient>
<radialGradient id="c30">
<stop offset="0.00" stop-color="#ffffff" stop-opacity="1.00"/>
<stop offset="0.12" stop-color="#ffffff" stop-opacity="1.00"/>
<stop offset="0.25" stop-color="#ffff75" stop-opacity="1.00"/>
<stop offset="0.38" stop-color="#ffcc33" stop-opacity="1.00"/>
<stop offset="0.50" stop-color="#ff7689" stop-opacity="1.00"/>
<stop offset="0.62" stop-color="#b31ce3" stop-opacity="1.00"/>
<stop offset="0.74" stop-color="#3f00ff" stop-opacity="0.77"/>
<stop offset="0.86" stop-color="#0000f0" stop-opacity="0.08"/>
<stop offset="1.00" stop-color="#0000b4" stop-opacity="0.00"/>
</radialGradient>
<radialGradient id="c30">
<stop offset="0.00" stop-color="#ffffff" stop-opacity="1.00"/>
<stop offset="0.12" stop-color="#ffffff" stop-opacity="1.00"/>
<stop offset="0.25" stop-color="#ffff75" stop-opacity="1.00"/>
<stop offset="0.38" stop-color="#ffcc33" stop-opacity="1.00"/>
<stop offset="0.50" stop-color="#ff7689" stop-opacity="1.00"/>
<stop offset="0.62" stop-color="#b31ce3" stop-opacity="1.00"/>
<stop offset="0.74" stop-color="#3f00ff" stop-opacity="0.77"/>
<stop offset="0.86" stop-color="#0000f0" stop-opacity="0.08"/>
<stop offset="1.00" stop-color="#0000b4" stop-opacity="0.00"/>
</radialGradient>
<radialGradient id="c28">
<stop offset="0.00" stop-color="#ffffda" stop-opacity="1.00"/>
<stop offset="0.12" stop-color="#ffffc0" stop-opacity="1.00"/>
<stop offset="0.25" stop-color="#fffc03" stop-opacity="1.00"/>
<stop offset="0.38" stop-color="#ffba45" stop-opacity="1.00"/>
<stop offset="0.50" stop-color="#ff6897" stop-opacity="1.00"/>
<stop offset="0.62" stop-color="#a614eb" stop-opacity="1.00"/>
<stop offset="0.74" stop-color="#3900ff" stop-opacity="0.70"/>
<stop offset="0.86" stop-color="#0000ec" stop-opacity="0.05"/>
<stop offset="1.00" stop-color="#0000b4" stop-opacity="0.00"/>
</radialGradient>
<radialGradient id="c30">
<stop offset="0.00" stop-color="#ffffff" stop-opacity="1.00"/>
<stop offset="0.12" stop-color="#ffffff" stop-opacity="1.00"/>
<stop offset="0.25" stop-color="#ffff75" stop-opacity="1.00"/>
<stop offset="0.38" stop-color="#ffcc33" stop-opacity="1.00"/>
<stop offset="0.50" stop-color="#ff7689" stop-opacity="1.00"/>
<stop offset="0.62" stop-color="#b31ce3" stop-opacity="1.00"/>
<stop offset="0.74" stop-color="#3f00ff" stop-opacity="0.77"/>
<stop offset="0.86" stop-color="#0000f0" stop-opacity="0.08"/>
<stop offset="1.00" stop-color="#0000b4" stop-opacity="0.00"/>
</radialGradient>
<radialGradient id="c30">
<stop offset="0.00" stop-color="#ffffff" stop-opacity="1.00"/>
<stop offset="0.12" stop-color="#ffffff" stop-opacity="1.00"/>
<stop offset="0.25" stop-color="#ffff75" stop-opacity="1.00"/>
<stop offset="0.38" stop-color="#ffcc33" stop-opacity="1.00"/>
<stop offset="0.50" stop-color="#ff7689" stop-opacity="1.00"/>
<stop offset="0.62" stop-color="#b31ce3" stop-opacity="1.00"/>
<stop offset="0.74" stop-color="#3f00ff" stop-opacity="0.77"/>
<stop offset="0.86" stop-color="#0000f0" stop-opacity="0.08"/>
<stop offset="1.00" stop-color="#0000b4" stop-opacity="0.00"/>
</radialGradient>
<radialGradient id="c27">
<stop offset="0.00" stop-color="#ffff43" stop-opacity="1.00"/>
<stop offset="0.12" stop-color="#ffff2a" stop-opacity="1.00"/>
<stop offset="0.25" stop-color="#ffe619" stop-opacity="1.00"/>
<stop offset="0.38" stop-color="#ffa857" stop-opacity="1.00"/>
<stop offset="0.50" stop-color="#ff5aa5" stop-opacity="1.00"/>
<stop offset="0.62" stop-color="#970af5" stop-opacity="1.00"/>
<stop offset="0.74" stop-color="#3000ff" stop-opacity="0.63"/>
<stop offset="0.86" stop-color="#0000e4" stop-opacity="0.02"/>
<stop offset="1.00" stop-color="#0000b0" stop-opacity="0.00"/>
</radialGradient>
<radialGradient id="c20">
<stop offset="0.00" stop-color="#ffa45b" stop-opacity="1.00"/>
<stop offset="0.12" stop-color="#ffa05f" stop-opacity="1.00"/>
<stop offset="0.25" stop-color="#ff8a75" stop-opacity="1.00"/>
<stop offset="0.38" stop-color="#ff5aa5" stop-opacity="1.00"/>
<stop offset="0.50" stop-color="#b920df" stop-opacity="1.00"/>
<stop offset="0.62" stop-color="#5f00ff" stop-opacity="1.00"/>
<stop offset="0.74" stop-color="#1000ff" stop-opacity="0.34"/>
<stop offset="0.86" stop-color="#0000d0" stop-opacity="0.00"/>
<stop offset="1.00" stop-color="#0000ac" stop-opacity="0.00"/>
</radialGradient>
<linearGradient id="vg" gradientUnits="userSpaceOnUse" x1="0" y1="51.3" x2="0" y2="975.5">
<stop offset="-0.0003" stop-color="#1010ff" stop-opacity="0.000"/>
<stop offset="0.6370" stop-color="#1010ff" stop-opacity="0.000"/>
<stop offset="0.7019" stop-color="#1010ff" stop-opacity="0.020"/>
<stop offset="0.7668" stop-color="#1010ff" stop-opacity="0.040"/>
<stop offset="0.8750" stop-color="#1010ff" stop-opacity="0.050"/>
<stop offset="0.9995" stop-color="#1010ff" stop-opacity="0.050"/>
</linearGradient>
<linearGradient id="mg" gradientUnits="userSpaceOnUse" x1="0" y1="51.3" x2="0" y2="975.5">
<stop offset="-0.0003" stop-color="#fff" stop-opacity="0.22"/>
<stop offset="0.5937" stop-color="#fff" stop-opacity="0.22"/>
<stop offset="0.7235" stop-color="#fff" stop-opacity="0.45"/>
<stop offset="0.7993" stop-color="#fff" stop-opacity="0.80"/>
<stop offset="0.9995" stop-color="#fff" stop-opacity="0.80"/>
</linearGradient>
<linearGradient id="mg2" gradientUnits="userSpaceOnUse" x1="0" y1="51.3" x2="0" y2="975.5">
<stop offset="-0.0003" stop-color="#fff" stop-opacity="0.00"/>
<stop offset="0.6586" stop-color="#fff" stop-opacity="0.00"/>
<stop offset="0.7452" stop-color="#fff" stop-opacity="0.50"/>
<stop offset="0.8101" stop-color="#fff" stop-opacity="1.00"/>
<stop offset="0.9995" stop-color="#fff" stop-opacity="1.00"/>
</linearGradient>
<mask id="mk2" maskUnits="userSpaceOnUse" x="102.5" y="51.3" width="1674.3" height="924.2"><rect x="102.5" y="51.3" width="1674.3" height="924.2" fill="url(#mg2)"/></mask>
<mask id="mk" maskUnits="userSpaceOnUse" x="102.5" y="51.3" width="1674.3" height="924.2"><rect x="102.5" y="51.3" width="1674.3" height="924.2" fill="url(#mg)"/></mask>
<filter id="nd" filterUnits="userSpaceOnUse" x="102.5" y="51.3" width="1674.3" height="924.2" color-interpolation-filters="sRGB"><feTurbulence type="fractalNoise" baseFrequency="0.55 0.025" numOctaves="2" seed="7"/><feColorMatrix type="matrix" values="0 0 0 0 0  0 0 0 0 0  0 0 0 0 0  2.2 0 0 0 -0.98"/></filter>
<filter id="nl" filterUnits="userSpaceOnUse" x="102.5" y="51.3" width="1674.3" height="924.2" color-interpolation-filters="sRGB"><feTurbulence type="fractalNoise" baseFrequency="0.5 0.04" numOctaves="2" seed="23"/><feColorMatrix type="matrix" values="0 0 0 0 0.08  0 0 0 0 0.08  0 0 0 0 1  0 1.2 0 0 -0.68"/></filter>
<filter id="np" filterUnits="userSpaceOnUse" x="102.5" y="51.3" width="1674.3" height="924.2" color-interpolation-filters="sRGB"><feTurbulence type="fractalNoise" baseFrequency="0.025 0.07" numOctaves="2" seed="5"/><feColorMatrix type="matrix" values="0 0 0 0 0.05  0 0 0 0 0.05  0 0 0 0 1  0 0 1.5 0 -0.78"/></filter>
<filter id="rag" filterUnits="userSpaceOnUse" x="102.5" y="51.3" width="1674.3" height="924.2" color-interpolation-filters="sRGB"><feTurbulence type="fractalNoise" baseFrequency="0.5 0.015" numOctaves="1" seed="11"/><feColorMatrix type="matrix" values="2.4 0 0 0 -0.7  0 0 0 0 0.5  0 0 0 0 0  0 0 0 0 1" result="n"/><feDisplacementMap in="SourceGraphic" in2="n" scale="7" xChannelSelector="G" yChannelSelector="R"/><feGaussianBlur stdDeviation="0.7 0.9"/></filter>
<filter id="ragD" filterUnits="userSpaceOnUse" x="102.5" y="51.3" width="1674.3" height="924.2" color-interpolation-filters="sRGB"><feTurbulence type="fractalNoise" baseFrequency="0.5 0.015" numOctaves="1" seed="13"/><feColorMatrix type="matrix" values="1.3 0 0 0 -0.4  0 0 0 0 0.5  0 0 0 0 0  0 0 0 0 1" result="n"/><feDisplacementMap in="SourceGraphic" in2="n" scale="10" xChannelSelector="G" yChannelSelector="R"/><feGaussianBlur stdDeviation="0.7 0.9"/></filter>
<filter id="ragU" filterUnits="userSpaceOnUse" x="102.5" y="51.3" width="1674.3" height="924.2" color-interpolation-filters="sRGB"><feTurbulence type="fractalNoise" baseFrequency="0.5 0.015" numOctaves="1" seed="17"/><feColorMatrix type="matrix" values="1.3 0 0 0 0.25  0 0 0 0 0.5  0 0 0 0 0  0 0 0 0 1" result="n"/><feDisplacementMap in="SourceGraphic" in2="n" scale="4" xChannelSelector="G" yChannelSelector="R"/><feGaussianBlur stdDeviation="0.7 0.9"/></filter>
<filter id="b1" x="-5%" y="-50%" width="110%" height="200%"><feGaussianBlur stdDeviation="0.9 0.9"/></filter>
<filter id="b4" filterUnits="userSpaceOnUse" x="102.5" y="51.3" width="1674.3" height="924.2"><feGaussianBlur stdDeviation="4.5 5"/></filter>
<filter id="b3" filterUnits="userSpaceOnUse" x="102.5" y="51.3" width="1674.3" height="924.2"><feGaussianBlur stdDeviation="3.5"/></filter>
<filter id="b2" x="-5%" y="-50%" width="110%" height="200%"><feGaussianBlur stdDeviation="2.5"/></filter>
</defs>
<g clip-path="url(#pc)">
<rect x="102.50" y="51.30" width="1674.30" height="924.20" fill="#000082"/>
<rect x="102.50" y="51.30" width="1674.30" height="924.20" fill="url(#vg)"/>
<rect x="102.5" y="719.0" width="1674.3" height="10.0" fill="#2020ff" opacity="0.06" filter="url(#b2)"/>
<rect x="102.5" y="747.0" width="1674.3" height="12.0" fill="#2020ff" opacity="0.05" filter="url(#b2)"/>
<rect x="102.5" y="816.0" width="1674.3" height="10.0" fill="#2020ff" opacity="0.18" filter="url(#b2)"/>
<rect x="102.5" y="837.0" width="1674.3" height="10.0" fill="#2020ff" opacity="0.20" filter="url(#b2)"/>
<rect x="102.5" y="958.0" width="1674.3" height="8.0" fill="#2020ff" opacity="0.20" filter="url(#b2)"/>
<rect x="102.5" y="965.0" width="1674.3" height="10.0" fill="#2020ff" opacity="0.10" filter="url(#b2)"/>
<g mask="url(#mk2)"><rect x="102.50" y="51.30" width="1674.30" height="924.20" filter="url(#np)"/></g>
<g filter="url(#b1)" fill="#000">
<rect x="102.0" y="829.4" width="588.0" height="6.6" opacity="0.97"/>
<rect x="102.0" y="827.1" width="443.0" height="1.8" opacity="0.30"/>
<rect x="165.0" y="821.1" width="10.0" height="4.0" opacity="0.80"/>
<rect x="222.0" y="821.1" width="10.0" height="4.0" opacity="0.80"/>
<rect x="300.0" y="822.1" width="12.0" height="3.5" opacity="0.70"/>
<rect x="346.0" y="822.1" width="10.0" height="3.5" opacity="0.70"/>
<rect x="428.0" y="823.1" width="18.0" height="3.0" opacity="0.80"/>
<rect x="470.0" y="823.1" width="20.0" height="3.0" opacity="0.60"/>
<rect x="545.0" y="822.1" width="40.0" height="6.4" opacity="0.90"/>
<rect x="600.0" y="824.1" width="25.0" height="3.0" opacity="0.80"/>
<rect x="650.0" y="822.1" width="35.0" height="7.2" opacity="0.90"/>
<rect x="690.0" y="831.1" width="50.0" height="5.2" opacity="0.95"/>
<rect x="716.0" y="824.1" width="26.0" height="4.0" opacity="0.60"/>
<rect x="765.0" y="828.1" width="30.0" height="7.2" opacity="0.95"/>
<rect x="818.0" y="826.1" width="32.0" height="8.8" opacity="0.90"/>
<rect x="850.0" y="828.1" width="95.0" height="4.2" opacity="0.80"/>
<rect x="945.0" y="826.1" width="30.0" height="9.6" opacity="0.90"/>
<rect x="1047.0" y="824.1" width="21.0" height="12.8" opacity="0.97"/>
<rect x="1104.0" y="824.1" width="30.0" height="12.8" opacity="0.95"/>
<rect x="1154.0" y="828.1" width="9.0" height="5.0" opacity="0.85"/>
<rect x="1176.0" y="828.1" width="7.0" height="5.0" opacity="0.70"/>
<rect x="1352.0" y="828.1" width="8.0" height="5.0" opacity="0.80"/>
<rect x="1378.0" y="829.1" width="16.0" height="6.4" opacity="0.90"/>
<rect x="1403.0" y="829.1" width="24.0" height="6.4" opacity="0.90"/>
<rect x="1427.0" y="829.1" width="13.0" height="3.0" opacity="0.60"/>
<rect x="1457.0" y="829.1" width="5.0" height="6.4" opacity="0.90"/>
<rect x="1473.0" y="828.1" width="6.0" height="7.2" opacity="0.90"/>
<rect x="1489.0" y="828.1" width="8.0" height="7.2" opacity="0.90"/>
<rect x="1507.0" y="829.1" width="6.0" height="4.0" opacity="0.80"/>
<rect x="945.0" y="838.6" width="407.0" height="1.8" opacity="0.35"/>
<rect x="1200.0" y="838.6" width="576.0" height="2.2" opacity="0.40"/>
<rect x="102.0" y="907.1" width="113.0" height="2.8" opacity="0.35"/>
<rect x="146.0" y="906.6" width="6.0" height="4.8" opacity="0.90"/>
<rect x="154.0" y="906.6" width="6.0" height="4.8" opacity="0.90"/>
<rect x="165.0" y="906.6" width="9.0" height="4.8" opacity="0.95"/>
<rect x="179.0" y="906.6" width="7.0" height="6.4" opacity="0.90"/>
<rect x="205.0" y="906.6" width="8.0" height="4.8" opacity="0.90"/>
<rect x="120.0" y="911.6" width="8.0" height="3.0" opacity="0.70"/>
<rect x="243.0" y="906.6" width="7.0" height="4.0" opacity="0.80"/>
<rect x="258.0" y="908.6" width="8.0" height="3.5" opacity="0.70"/>
<rect x="372.0" y="906.6" width="20.0" height="2.5" opacity="0.70"/>
<rect x="526.0" y="907.4" width="266.0" height="4.3" opacity="0.97"/>
<rect x="535.0" y="911.6" width="65.0" height="2.8" opacity="0.75"/>
<rect x="600.0" y="912.1" width="190.0" height="2.2" opacity="0.50"/>
<rect x="640.0" y="911.6" width="20.0" height="2.8" opacity="0.50"/>
<rect x="700.0" y="911.6" width="60.0" height="2.8" opacity="0.40"/>
<rect x="848.0" y="907.6" width="52.0" height="4.5" opacity="0.85"/>
<rect x="900.0" y="907.6" width="44.0" height="3.0" opacity="0.80"/>
<rect x="964.0" y="909.6" width="26.0" height="3.0" opacity="0.60"/>
<rect x="990.0" y="907.1" width="34.0" height="8.4" opacity="0.95"/>
<rect x="1044.0" y="910.6" width="16.0" height="3.0" opacity="0.60"/>
<rect x="1180.0" y="909.6" width="26.0" height="3.0" opacity="0.50"/>
<rect x="1206.0" y="906.1" width="40.0" height="9.2" opacity="0.97"/>
<rect x="1246.0" y="907.6" width="16.0" height="3.0" opacity="0.60"/>
<rect x="1280.0" y="908.6" width="12.0" height="3.5" opacity="0.60"/>
<rect x="1360.0" y="907.1" width="50.0" height="4.8" opacity="0.97"/>
<rect x="1375.0" y="911.6" width="35.0" height="4.8" opacity="0.90"/>
<rect x="1436.0" y="907.1" width="32.0" height="7.6" opacity="0.97"/>
<rect x="1475.0" y="907.1" width="48.0" height="4.4" opacity="0.97"/>
<rect x="1490.0" y="911.6" width="33.0" height="2.5" opacity="0.70"/>
<rect x="1547.0" y="907.1" width="11.0" height="7.6" opacity="0.95"/>
<rect x="1573.0" y="907.1" width="38.0" height="4.4" opacity="0.95"/>
<rect x="1602.0" y="911.6" width="9.0" height="4.8" opacity="0.95"/>
<rect x="1620.0" y="907.6" width="7.0" height="7.2" opacity="0.90"/>
<rect x="1633.0" y="907.6" width="17.0" height="2.5" opacity="0.80"/>
<rect x="112.0" y="950.6" width="38.0" height="7.6" opacity="0.95"/>
<rect x="102.0" y="960.1" width="338.0" height="4.5" opacity="0.56"/>
<rect x="120.0" y="959.1" width="40.0" height="6.0" opacity="0.63"/>
<rect x="180.0" y="958.1" width="20.0" height="5.5" opacity="0.63"/>
<rect x="210.0" y="949.6" width="205.0" height="8.0" opacity="0.93"/>
<rect x="276.0" y="947.1" width="20.0" height="3.0" opacity="0.50"/>
<rect x="445.0" y="950.1" width="75.0" height="5.0" opacity="0.85"/>
<rect x="455.0" y="958.1" width="65.0" height="5.5" opacity="0.49"/>
<rect x="520.0" y="951.1" width="6.0" height="8.0" opacity="0.90"/>
<rect x="556.0" y="951.1" width="46.0" height="7.6" opacity="0.93"/>
<rect x="560.0" y="959.1" width="40.0" height="5.5" opacity="0.49"/>
<rect x="630.0" y="951.6" width="35.0" height="14.8" opacity="0.93"/>
<rect x="665.0" y="955.1" width="18.0" height="7.0" opacity="0.80"/>
<rect x="714.0" y="951.1" width="42.0" height="8.0" opacity="0.93"/>
<rect x="730.0" y="959.1" width="30.0" height="5.0" opacity="0.42"/>
<rect x="806.0" y="951.6" width="74.0" height="7.6" opacity="0.90"/>
<rect x="806.0" y="959.1" width="74.0" height="5.0" opacity="0.63"/>
<rect x="898.0" y="951.1" width="42.0" height="7.2" opacity="0.93"/>
<rect x="898.0" y="959.1" width="42.0" height="5.0" opacity="0.49"/>
<rect x="978.0" y="947.6" width="49.0" height="11.2" opacity="0.97"/>
<rect x="985.0" y="960.1" width="35.0" height="2.5" opacity="0.49"/>
<rect x="1032.0" y="950.1" width="32.0" height="5.0" opacity="0.50"/>
<rect x="1066.0" y="944.1" width="24.0" height="15.2" opacity="0.95"/>
<rect x="1070.0" y="962.1" width="15.0" height="8.0" opacity="0.60"/>
<rect x="1092.0" y="951.1" width="30.0" height="5.0" opacity="0.60"/>
<rect x="1120.0" y="948.1" width="88.0" height="10.0" opacity="0.97"/>
<rect x="1140.0" y="945.1" width="55.0" height="2.5" opacity="0.50"/>
<rect x="1242.0" y="951.1" width="20.0" height="5.0" opacity="0.85"/>
<rect x="1262.0" y="952.1" width="38.0" height="4.0" opacity="0.60"/>
<rect x="1326.0" y="940.1" width="20.0" height="30.4" opacity="0.95"/>
<rect x="1346.0" y="947.1" width="16.0" height="15.5" opacity="0.70"/>
<rect x="1360.0" y="951.1" width="22.0" height="8.0" opacity="0.90"/>
<rect x="1383.0" y="940.1" width="7.0" height="30.4" opacity="0.90"/>
<rect x="1390.0" y="946.1" width="52.0" height="7.5" opacity="0.80"/>
<rect x="1404.0" y="940.1" width="10.0" height="5.5" opacity="0.70"/>
<rect x="1425.0" y="942.1" width="11.0" height="5.5" opacity="0.70"/>
<rect x="1444.0" y="952.1" width="14.0" height="7.2" opacity="0.90"/>
<rect x="1503.0" y="950.1" width="42.0" height="8.4" opacity="0.90"/>
<rect x="1560.0" y="950.1" width="26.0" height="8.4" opacity="0.90"/>
<rect x="1606.0" y="945.1" width="42.0" height="12.4" opacity="0.93"/>
<rect x="1650.0" y="952.1" width="18.0" height="4.5" opacity="0.60"/>
<rect x="1703.0" y="945.1" width="19.0" height="10.4" opacity="0.93"/>
<rect x="1366.0" y="961.1" width="74.0" height="4.5" opacity="0.39"/>
<rect x="102.0" y="774.4" width="1675.0" height="7.4" opacity="0.98"/>
</g>
<g filter="url(#ragU)" fill="#000">
<rect x="102.0" y="828.8" width="588.0" height="8.2" opacity="0.97"/>
<rect x="102.0" y="826.5" width="443.0" height="3.5" opacity="0.30"/>
<rect x="165.0" y="820.5" width="10.0" height="8.0" opacity="0.80"/>
<rect x="222.0" y="820.5" width="10.0" height="8.0" opacity="0.80"/>
<rect x="300.0" y="821.5" width="12.0" height="7.0" opacity="0.70"/>
<rect x="346.0" y="821.5" width="10.0" height="7.0" opacity="0.70"/>
<rect x="428.0" y="822.5" width="18.0" height="6.0" opacity="0.80"/>
<rect x="470.0" y="822.5" width="20.0" height="6.0" opacity="0.60"/>
<rect x="545.0" y="821.5" width="40.0" height="8.0" opacity="0.90"/>
<rect x="600.0" y="823.5" width="25.0" height="6.0" opacity="0.80"/>
<rect x="650.0" y="821.5" width="35.0" height="9.0" opacity="0.90"/>
<rect x="690.0" y="830.5" width="50.0" height="6.5" opacity="0.95"/>
<rect x="716.0" y="823.5" width="26.0" height="8.0" opacity="0.60"/>
<rect x="765.0" y="827.5" width="30.0" height="9.0" opacity="0.95"/>
<rect x="818.0" y="825.5" width="32.0" height="11.0" opacity="0.90"/>
<rect x="850.0" y="827.5" width="95.0" height="8.5" opacity="0.80"/>
<rect x="945.0" y="825.5" width="30.0" height="12.0" opacity="0.90"/>
<rect x="1047.0" y="823.5" width="21.0" height="16.0" opacity="0.97"/>
<rect x="1104.0" y="823.5" width="30.0" height="16.0" opacity="0.95"/>
<rect x="1154.0" y="827.5" width="9.0" height="10.0" opacity="0.85"/>
<rect x="1176.0" y="827.5" width="7.0" height="10.0" opacity="0.70"/>
<rect x="1352.0" y="827.5" width="8.0" height="10.0" opacity="0.80"/>
<rect x="1378.0" y="828.5" width="16.0" height="8.0" opacity="0.90"/>
<rect x="1403.0" y="828.5" width="24.0" height="8.0" opacity="0.90"/>
<rect x="1427.0" y="828.5" width="13.0" height="6.0" opacity="0.60"/>
<rect x="1457.0" y="828.5" width="5.0" height="8.0" opacity="0.90"/>
<rect x="1473.0" y="827.5" width="6.0" height="9.0" opacity="0.90"/>
<rect x="1489.0" y="827.5" width="8.0" height="9.0" opacity="0.90"/>
<rect x="1507.0" y="828.5" width="6.0" height="8.0" opacity="0.80"/>
<rect x="945.0" y="838.0" width="407.0" height="3.5" opacity="0.35"/>
<rect x="1200.0" y="838.0" width="576.0" height="4.5" opacity="0.40"/>
</g>
<g filter="url(#ragD)" fill="#000">
<rect x="102.0" y="906.5" width="113.0" height="5.5" opacity="0.35"/>
<rect x="146.0" y="906.0" width="6.0" height="6.0" opacity="0.90"/>
<rect x="154.0" y="906.0" width="6.0" height="6.0" opacity="0.90"/>
<rect x="165.0" y="906.0" width="9.0" height="6.0" opacity="0.95"/>
<rect x="179.0" y="906.0" width="7.0" height="8.0" opacity="0.90"/>
<rect x="205.0" y="906.0" width="8.0" height="6.0" opacity="0.90"/>
<rect x="120.0" y="911.0" width="8.0" height="6.0" opacity="0.70"/>
<rect x="243.0" y="906.0" width="7.0" height="8.0" opacity="0.80"/>
<rect x="258.0" y="908.0" width="8.0" height="7.0" opacity="0.70"/>
<rect x="372.0" y="906.0" width="20.0" height="5.0" opacity="0.70"/>
<rect x="526.0" y="906.8" width="266.0" height="5.4" opacity="0.97"/>
<rect x="535.0" y="911.0" width="65.0" height="5.5" opacity="0.75"/>
<rect x="600.0" y="911.5" width="190.0" height="4.5" opacity="0.50"/>
<rect x="640.0" y="911.0" width="20.0" height="5.5" opacity="0.50"/>
<rect x="700.0" y="911.0" width="60.0" height="5.5" opacity="0.40"/>
<rect x="848.0" y="907.0" width="52.0" height="9.0" opacity="0.85"/>
<rect x="900.0" y="907.0" width="44.0" height="6.0" opacity="0.80"/>
<rect x="964.0" y="909.0" width="26.0" height="6.0" opacity="0.60"/>
<rect x="990.0" y="906.5" width="34.0" height="10.5" opacity="0.95"/>
<rect x="1044.0" y="910.0" width="16.0" height="6.0" opacity="0.60"/>
<rect x="1180.0" y="909.0" width="26.0" height="6.0" opacity="0.50"/>
<rect x="1206.0" y="905.5" width="40.0" height="11.5" opacity="0.97"/>
<rect x="1246.0" y="907.0" width="16.0" height="6.0" opacity="0.60"/>
<rect x="1280.0" y="908.0" width="12.0" height="7.0" opacity="0.60"/>
<rect x="1360.0" y="906.5" width="50.0" height="6.0" opacity="0.97"/>
<rect x="1375.0" y="911.0" width="35.0" height="6.0" opacity="0.90"/>
<rect x="1436.0" y="906.5" width="32.0" height="9.5" opacity="0.97"/>
<rect x="1475.0" y="906.5" width="48.0" height="5.5" opacity="0.97"/>
<rect x="1490.0" y="911.0" width="33.0" height="5.0" opacity="0.70"/>
<rect x="1547.0" y="906.5" width="11.0" height="9.5" opacity="0.95"/>
<rect x="1573.0" y="906.5" width="38.0" height="5.5" opacity="0.95"/>
<rect x="1602.0" y="911.0" width="9.0" height="6.0" opacity="0.95"/>
<rect x="1620.0" y="907.0" width="7.0" height="9.0" opacity="0.90"/>
<rect x="1633.0" y="907.0" width="17.0" height="5.0" opacity="0.80"/>
</g>
<g filter="url(#rag)" fill="#000">
<rect x="112.0" y="950.0" width="38.0" height="9.5" opacity="0.95"/>
<rect x="102.0" y="959.5" width="338.0" height="9.0" opacity="0.56"/>
<rect x="120.0" y="958.5" width="40.0" height="12.0" opacity="0.63"/>
<rect x="180.0" y="957.5" width="20.0" height="11.0" opacity="0.63"/>
<rect x="210.0" y="949.0" width="205.0" height="10.0" opacity="0.93"/>
<rect x="276.0" y="946.5" width="20.0" height="6.0" opacity="0.50"/>
<rect x="445.0" y="949.5" width="75.0" height="10.0" opacity="0.85"/>
<rect x="455.0" y="957.5" width="65.0" height="11.0" opacity="0.49"/>
<rect x="520.0" y="950.5" width="6.0" height="10.0" opacity="0.90"/>
<rect x="556.0" y="950.5" width="46.0" height="9.5" opacity="0.93"/>
<rect x="560.0" y="958.5" width="40.0" height="11.0" opacity="0.49"/>
<rect x="630.0" y="951.0" width="35.0" height="18.5" opacity="0.93"/>
<rect x="665.0" y="954.5" width="18.0" height="14.0" opacity="0.80"/>
<rect x="714.0" y="950.5" width="42.0" height="10.0" opacity="0.93"/>
<rect x="730.0" y="958.5" width="30.0" height="10.0" opacity="0.42"/>
<rect x="806.0" y="951.0" width="74.0" height="9.5" opacity="0.90"/>
<rect x="806.0" y="958.5" width="74.0" height="10.0" opacity="0.63"/>
<rect x="898.0" y="950.5" width="42.0" height="9.0" opacity="0.93"/>
<rect x="898.0" y="958.5" width="42.0" height="10.0" opacity="0.49"/>
<rect x="978.0" y="947.0" width="49.0" height="14.0" opacity="0.97"/>
<rect x="985.0" y="959.5" width="35.0" height="5.0" opacity="0.49"/>
<rect x="1032.0" y="949.5" width="32.0" height="10.0" opacity="0.50"/>
<rect x="1066.0" y="943.5" width="24.0" height="19.0" opacity="0.95"/>
<rect x="1070.0" y="961.5" width="15.0" height="16.0" opacity="0.60"/>
<rect x="1092.0" y="950.5" width="30.0" height="10.0" opacity="0.60"/>
<rect x="1120.0" y="947.5" width="88.0" height="12.5" opacity="0.97"/>
<rect x="1140.0" y="944.5" width="55.0" height="5.0" opacity="0.50"/>
<rect x="1242.0" y="950.5" width="20.0" height="10.0" opacity="0.85"/>
<rect x="1262.0" y="951.5" width="38.0" height="8.0" opacity="0.60"/>
<rect x="1326.0" y="939.5" width="20.0" height="38.0" opacity="0.95"/>
<rect x="1346.0" y="946.5" width="16.0" height="31.0" opacity="0.70"/>
<rect x="1360.0" y="950.5" width="22.0" height="10.0" opacity="0.90"/>
<rect x="1383.0" y="939.5" width="7.0" height="38.0" opacity="0.90"/>
<rect x="1390.0" y="945.5" width="52.0" height="15.0" opacity="0.80"/>
<rect x="1404.0" y="939.5" width="10.0" height="11.0" opacity="0.70"/>
<rect x="1425.0" y="941.5" width="11.0" height="11.0" opacity="0.70"/>
<rect x="1444.0" y="951.5" width="14.0" height="9.0" opacity="0.90"/>
<rect x="1503.0" y="949.5" width="42.0" height="10.5" opacity="0.90"/>
<rect x="1560.0" y="949.5" width="26.0" height="10.5" opacity="0.90"/>
<rect x="1606.0" y="944.5" width="42.0" height="15.5" opacity="0.93"/>
<rect x="1650.0" y="951.5" width="18.0" height="9.0" opacity="0.60"/>
<rect x="1703.0" y="944.5" width="19.0" height="13.0" opacity="0.93"/>
<rect x="1366.0" y="960.5" width="74.0" height="9.0" opacity="0.39"/>
</g>
<g mask="url(#mk)">
<rect x="102.50" y="51.30" width="1674.30" height="924.20" filter="url(#nd)"/>
<rect x="102.50" y="51.30" width="1674.30" height="924.20" filter="url(#nl)"/>
</g>
<g fill="none" stroke="#1c1cff" stroke-linecap="round" filter="url(#b3)">
<polyline points="102,592.2 114,591.3 126,590.8 138,590.5 150,589.7 162,588.2 174,585.6 186,582.0 198,578.0 210,574.1 222,571.4 234,570.4 246,571.5 258,574.6 270,579.0 282,584.1 294,588.7 306,592.2 318,594.2 330,594.7 342,594.2 354,593.1 366,592.0 378,591.3 390,591.0 402,590.6 414,589.8 426,588.1 438,585.3 450,581.6 462,577.4 474,573.7 486,571.1 498,570.4 510,571.8 522,575.1 534,579.6 546,584.6 558,589.1 570,592.4 582,594.2 594,594.5 606,593.9 618,592.9 630,591.9 642,591.4 654,591.1 666,590.7 678,589.8 690,588.0 702,585.0 714,581.1 726,576.9 738,573.2 750,570.8 762,570.4 774,572.1 786,575.6 798,580.2 810,585.2 822,589.5 834,592.5 846,594.1 858,594.3 870,593.7 882,592.7 894,591.9 906,591.4 918,591.2 930,590.9 942,589.9 954,587.8 966,584.6 978,580.6 990,576.4 1002,572.8 1014,570.6 1026,570.5 1038,572.4 1050,576.1 1062,580.8 1074,585.7 1086,589.8 1098,592.7 1110,594.0 1122,594.1 1134,593.4 1146,592.5 1158,591.9 1170,591.5 1182,591.4 1194,591.0 1206,589.9 1218,587.6 1230,584.3 1242,580.1 1254,575.9 1266,572.4 1278,570.5 1290,570.6" stroke-width="9" opacity="0.09"/>
<polyline points="102,612.0 114,610.1 126,607.1 138,603.0 150,598.6 162,594.5 174,591.8 186,591.1 198,592.7 210,596.3 222,601.4 234,606.9 246,611.8 258,615.3 270,617.2 282,617.6 294,616.8 306,615.6 318,614.5 330,613.8 342,613.4 354,613.0 366,612.0 378,610.0 390,606.7 402,602.5 414,598.0 426,594.1 438,591.5 450,591.1 462,593.0 474,596.9 486,602.1 498,607.5 510,612.2 522,615.5 534,617.2 546,617.3 558,616.5 570,615.4 582,614.4 594,613.9 606,613.6 618,613.2 630,612.0 642,609.8 654,606.4 666,602.0 678,597.5 690,593.6 702,591.3 714,591.2 726,593.4 738,597.5 750,602.7 762,608.0 774,612.6 786,615.6 798,617.1 810,617.1 822,616.3 834,615.2 846,614.4 858,614.0 870,613.8 882,613.3 894,612.0 906,609.6 918,605.9 930,601.5 942,596.9 954,593.2 966,591.1 978,591.3 990,593.8 1002,598.1 1014,603.4 1026,608.6 1038,612.9 1050,615.7 1062,616.9 1074,616.8 1086,616.0 1098,615.1 1110,614.4 1122,614.1 1134,613.9 1146,613.4 1158,612.0 1170,609.3 1182,605.5 1194,600.9 1206,596.3 1218,592.8 1230,591.0 1242,591.5" stroke-width="9" opacity="0.07"/>
<polyline points="102,570.3 114,571.1 126,570.8 138,570.0 150,569.0 162,568.3 174,567.8 186,567.5 198,567.0 210,565.9 222,563.9 234,561.1 246,557.8 258,554.6 270,552.1 282,551.1 294,551.7 306,553.9 318,557.5 330,561.5 342,565.4 354,568.5 366,570.3 378,570.9 390,570.6 402,569.8 414,568.9 426,568.3 438,567.9 450,567.6 462,567.1 474,565.8 486,563.7 498,560.8 510,557.4 522,554.2 534,551.9 546,551.0 558,551.9 570,554.3 582,557.9 594,562.0 606,565.8 618,568.7 630,570.3 642,570.8 654,570.4 666,569.6 678,568.8 690,568.3 702,568.0 714,567.8 726,567.1 738,565.8 750,563.5 762,560.4 774,557.0 786,553.8 798,551.6 810,551.0 822,552.1 834,554.7 846,558.4 858,562.5 870,566.1 882,568.8 894,570.3 906,570.7 918,570.2 930,569.4 942,568.7 954,568.3 966,568.1 978,567.9 990,567.2 1002,565.7 1014,563.2 1026,560.0 1038,556.5 1050,553.4 1062,551.4 1074,551.0 1086,552.3 1098,555.1 1110,558.9 1122,562.9 1134,566.5 1146,569.0 1158,570.3 1170,570.5 1182,570.0 1194,569.3" stroke-width="8" opacity="0.05"/>
<polyline points="102,637.4 114,637.1 126,636.6 138,635.5 150,633.4 162,630.5 174,626.8 186,623.2 198,620.3 210,618.8 222,619.2 234,621.4 246,625.1 258,629.6 270,634.0 282,637.6 294,639.9 306,640.8 318,640.6 330,639.7 342,638.7 354,637.9 366,637.5 378,637.2 390,636.7 402,635.4 414,633.2 426,630.1 438,626.4 450,622.8 462,620.0 474,618.7 486,619.3 498,621.8 510,625.7 522,630.2 534,634.5 546,637.9 558,639.9 570,640.7 582,640.3 594,639.5 606,638.6 618,637.9 630,637.6 642,637.4 654,636.8 666,635.4 678,633.0 690,629.7 702,625.9 714,622.3 726,619.7 738,618.6 750,619.5 762,622.2 774,626.2 786,630.7 798,634.9 810,638.1 822,640.0 834,640.5 846,640.1 858,639.3 870,638.5 882,638.0 894,637.7 906,637.5 918,636.8 930,635.3 942,632.7 954,629.3 966,625.4 978,621.9 990,619.4 1002,618.6 1014,619.8 1026,622.6 1038,626.7 1050,631.2 1062,635.3 1074,638.3 1086,639.9 1098,640.4" stroke-width="8" opacity="0.05"/>
<polyline points="102,662.1 114,661.5 126,660.6 138,659.9 150,659.4 162,659.1 174,658.8 186,658.0 198,656.5 210,654.2 222,651.4 234,648.4 246,646.0 258,644.5 270,644.6 282,646.1 294,648.9 306,652.5 318,656.1 330,659.1 342,661.1 354,662.0 366,661.9 378,661.3 390,660.5 402,659.8 414,659.4 426,659.2 438,658.8 450,658.0 462,656.3 474,653.9 486,651.0 498,648.1 510,645.7 522,644.4 534,644.7 546,646.4 558,649.4 570,652.9 582,656.4 594,659.3 606,661.2 618,661.9 630,661.8 642,661.1 654,660.4 666,659.8 678,659.5 690,659.3 702,658.9 714,657.9 726,656.2 738,653.6 750,650.6 762,647.7 774,645.4 786,644.3 798,644.8 810,646.7 822,649.8 834,653.3 846,656.8 858,659.5 870,661.2 882,661.8 894,661.6" stroke-width="8" opacity="0.04"/>
</g>
<g fill="none" stroke="#000040" filter="url(#b3)">
<polyline points="102,581.2 114,580.3 126,579.8 138,579.5 150,578.7 162,577.2 174,574.6 186,571.0 198,567.0 210,563.1 222,560.4 234,559.4 246,560.5 258,563.6 270,568.0 282,573.1 294,577.7 306,581.2 318,583.2 330,583.7 342,583.2 354,582.1 366,581.0 378,580.3 390,580.0 402,579.6 414,578.8 426,577.1 438,574.3 450,570.6 462,566.4 474,562.7 486,560.1 498,559.4 510,560.8 522,564.1 534,568.6 546,573.6 558,578.1 570,581.4 582,583.2 594,583.5 606,582.9 618,581.9 630,580.9 642,580.4 654,580.1 666,579.7 678,578.8 690,577.0 702,574.0 714,570.1 726,565.9 738,562.2 750,559.8 762,559.4 774,561.1 786,564.6 798,569.2 810,574.2 822,578.5 834,581.5 846,583.1 858,583.3 870,582.7 882,581.7 894,580.9 906,580.4 918,580.2 930,579.9 942,578.9 954,576.8 966,573.6 978,569.6 990,565.4 1002,561.8 1014,559.6 1026,559.5 1038,561.4 1050,565.1 1062,569.8 1074,574.7 1086,578.8 1098,581.7 1110,583.0 1122,583.1 1134,582.4 1146,581.5 1158,580.9 1170,580.5 1182,580.4 1194,580.0 1206,578.9 1218,576.6 1230,573.3 1242,569.1 1254,564.9 1266,561.4 1278,559.5 1290,559.6" stroke-width="8" opacity="0.12"/>
<polyline points="102,601.0 114,599.1 126,596.1 138,592.0 150,587.6 162,583.5 174,580.8 186,580.1 198,581.7 210,585.3 222,590.4 234,595.9 246,600.8 258,604.3 270,606.2 282,606.6 294,605.8 306,604.6 318,603.5 330,602.8 342,602.4 354,602.0 366,601.0 378,599.0 390,595.7 402,591.5 414,587.0 426,583.1 438,580.5 450,580.1 462,582.0 474,585.9 486,591.1 498,596.5 510,601.2 522,604.5 534,606.2 546,606.3 558,605.5 570,604.4 582,603.4 594,602.9 606,602.6 618,602.2 630,601.0 642,598.8 654,595.4 666,591.0 678,586.5 690,582.6 702,580.3 714,580.2 726,582.4 738,586.5 750,591.7 762,597.0 774,601.6 786,604.6 798,606.1 810,606.1 822,605.3 834,604.2 846,603.4 858,603.0 870,602.8 882,602.3 894,601.0 906,598.6 918,594.9 930,590.5 942,585.9 954,582.2 966,580.1 978,580.3 990,582.8 1002,587.1 1014,592.4 1026,597.6 1038,601.9 1050,604.7 1062,605.9 1074,605.8 1086,605.0 1098,604.1 1110,603.4 1122,603.1 1134,602.9 1146,602.4 1158,601.0 1170,598.3 1182,594.5 1194,589.9 1206,585.3 1218,581.8 1230,580.0 1242,580.5" stroke-width="8" opacity="0.09"/>
</g>
<g fill="none" stroke="#2424ff" stroke-width="10" stroke-linejoin="round" filter="url(#b4)">
<polyline points="1000,545 1028,650 1002,770" opacity="0.008" stroke-dasharray="25 19" stroke-dashoffset="25"/>
<polyline points="1016,845 1034,905" opacity="0.008"/>
<polyline points="1014,925 1036,975" opacity="0.006"/>
<polyline points="1026,545 1054,650 1028,770" opacity="0.013" stroke-dasharray="39 22" stroke-dashoffset="18"/>
<polyline points="1042,845 1060,905" opacity="0.020"/>
<polyline points="1040,925 1062,975" opacity="0.024"/>
<polyline points="1052,545 1080,650 1054,770" opacity="0.023" stroke-dasharray="39 13" stroke-dashoffset="17"/>
<polyline points="1068,845 1086,905" opacity="0.030"/>
<polyline points="1066,925 1088,975" opacity="0.038"/>
<polyline points="1078,545 1106,650 1080,770" opacity="0.031" stroke-dasharray="22 21" stroke-dashoffset="16"/>
<polyline points="1094,845 1112,905" opacity="0.041"/>
<polyline points="1092,925 1114,975" opacity="0.026"/>
<polyline points="1104,545 1132,650 1106,770" opacity="0.040" stroke-dasharray="42 21" stroke-dashoffset="23"/>
<polyline points="1120,845 1138,905" opacity="0.023"/>
<polyline points="1118,925 1140,975" opacity="0.052"/>
<polyline points="1130,545 1158,650 1132,770" opacity="0.062" stroke-dasharray="38 11" stroke-dashoffset="11"/>
<polyline points="1146,845 1164,905" opacity="0.035"/>
<polyline points="1144,925 1166,975" opacity="0.044"/>
<polyline points="1156,545 1184,650 1158,770" opacity="0.084" stroke-dasharray="39 21" stroke-dashoffset="19"/>
<polyline points="1172,845 1190,905" opacity="0.028"/>
<polyline points="1170,925 1192,975" opacity="0.052"/>
<polyline points="1182,545 1210,650 1184,770" opacity="0.084" stroke-dasharray="31 21" stroke-dashoffset="32"/>
<polyline points="1198,845 1216,905" opacity="0.044"/>
<polyline points="1196,925 1218,975" opacity="0.070"/>
<polyline points="1208,545 1236,650 1210,770" opacity="0.071" stroke-dasharray="36 10" stroke-dashoffset="14"/>
<polyline points="1224,845 1242,905" opacity="0.057"/>
<polyline points="1222,925 1244,975" opacity="0.112"/>
<polyline points="1234,545 1262,650 1236,770" opacity="0.064" stroke-dasharray="23 15" stroke-dashoffset="40"/>
<polyline points="1250,845 1268,905" opacity="0.118"/>
<polyline points="1248,925 1270,975" opacity="0.096"/>
<polyline points="1260,545 1288,650 1262,770" opacity="0.111" stroke-dasharray="44 13" stroke-dashoffset="9"/>
<polyline points="1276,845 1294,905" opacity="0.130"/>
<polyline points="1274,925 1296,975" opacity="0.072"/>
<polyline points="1286,545 1314,650 1288,770" opacity="0.104" stroke-dasharray="28 18" stroke-dashoffset="40"/>
<polyline points="1302,845 1320,905" opacity="0.089"/>
<polyline points="1300,925 1322,975" opacity="0.078"/>
<polyline points="1312,545 1340,650 1314,770" opacity="0.112" stroke-dasharray="40 13" stroke-dashoffset="40"/>
<polyline points="1328,845 1346,905" opacity="0.106"/>
<polyline points="1326,925 1348,975" opacity="0.169"/>
<polyline points="1338,545 1366,650 1340,770" opacity="0.086" stroke-dasharray="23 19" stroke-dashoffset="14"/>
<polyline points="1354,845 1372,905" opacity="0.078"/>
<polyline points="1352,925 1374,975" opacity="0.130"/>
<polyline points="1364,545 1392,650 1366,770" opacity="0.145" stroke-dasharray="25 13" stroke-dashoffset="11"/>
<polyline points="1380,845 1398,905" opacity="0.079"/>
<polyline points="1378,925 1400,975" opacity="0.063"/>
<polyline points="1390,545 1418,650 1392,770" opacity="0.106" stroke-dasharray="24 22" stroke-dashoffset="18"/>
<polyline points="1406,845 1424,905" opacity="0.123"/>
<polyline points="1404,925 1426,975" opacity="0.175"/>
<polyline points="1416,545 1444,650 1418,770" opacity="0.079" stroke-dasharray="31 13" stroke-dashoffset="9"/>
<polyline points="1432,845 1450,905" opacity="0.128"/>
<polyline points="1430,925 1452,975" opacity="0.109"/>
<polyline points="1442,545 1470,650 1444,770" opacity="0.152" stroke-dasharray="41 18" stroke-dashoffset="4"/>
<polyline points="1458,845 1476,905" opacity="0.079"/>
<polyline points="1456,925 1478,975" opacity="0.083"/>
<polyline points="1468,545 1496,650 1470,770" opacity="0.113" stroke-dasharray="26 12" stroke-dashoffset="24"/>
<polyline points="1484,845 1502,905" opacity="0.110"/>
<polyline points="1482,925 1504,975" opacity="0.079"/>
<polyline points="1494,545 1522,650 1496,770" opacity="0.123" stroke-dasharray="33 8" stroke-dashoffset="29"/>
<polyline points="1510,845 1528,905" opacity="0.067"/>
<polyline points="1508,925 1530,975" opacity="0.154"/>
<polyline points="1520,545 1548,650 1522,770" opacity="0.106" stroke-dasharray="31 17" stroke-dashoffset="6"/>
<polyline points="1536,845 1554,905" opacity="0.094"/>
<polyline points="1534,925 1556,975" opacity="0.085"/>
<polyline points="1546,545 1574,650 1548,770" opacity="0.149" stroke-dasharray="25 8" stroke-dashoffset="3"/>
<polyline points="1562,845 1580,905" opacity="0.056"/>
<polyline points="1560,925 1582,975" opacity="0.080"/>
<polyline points="1572,545 1600,650 1574,770" opacity="0.131" stroke-dasharray="26 17" stroke-dashoffset="2"/>
<polyline points="1588,845 1606,905" opacity="0.105"/>
<polyline points="1586,925 1608,975" opacity="0.130"/>
<polyline points="1598,545 1626,650 1600,770" opacity="0.103" stroke-dasharray="23 9" stroke-dashoffset="33"/>
<polyline points="1614,845 1632,905" opacity="0.079"/>
<polyline points="1612,925 1634,975" opacity="0.180"/>
<polyline points="1624,545 1652,650 1626,770" opacity="0.129" stroke-dasharray="28 15" stroke-dashoffset="12"/>
<polyline points="1640,845 1658,905" opacity="0.074"/>
<polyline points="1638,925 1660,975" opacity="0.109"/>
<polyline points="1650,545 1678,650 1652,770" opacity="0.081" stroke-dasharray="35 15" stroke-dashoffset="15"/>
<polyline points="1666,845 1684,905" opacity="0.115"/>
<polyline points="1664,925 1686,975" opacity="0.111"/>
<polyline points="1676,545 1704,650 1678,770" opacity="0.095" stroke-dasharray="28 8" stroke-dashoffset="2"/>
<polyline points="1692,845 1710,905" opacity="0.075"/>
<polyline points="1690,925 1712,975" opacity="0.089"/>
<polyline points="1702,545 1730,650 1704,770" opacity="0.094" stroke-dasharray="29 14" stroke-dashoffset="16"/>
<polyline points="1718,845 1736,905" opacity="0.064"/>
<polyline points="1716,925 1738,975" opacity="0.066"/>
<polyline points="1728,545 1756,650 1730,770" opacity="0.150" stroke-dasharray="40 9" stroke-dashoffset="36"/>
<polyline points="1744,845 1762,905" opacity="0.090"/>
<polyline points="1742,925 1764,975" opacity="0.168"/>
<polyline points="1754,545 1782,650 1756,770" opacity="0.129" stroke-dasharray="44 19" stroke-dashoffset="2"/>
<polyline points="1770,845 1788,905" opacity="0.099"/>
<polyline points="1768,925 1790,975" opacity="0.071"/>
<polyline points="1780,545 1808,650 1782,770" opacity="0.094" stroke-dasharray="40 22" stroke-dashoffset="10"/>
<polyline points="1796,845 1814,905" opacity="0.084"/>
<polyline points="1794,925 1816,975" opacity="0.139"/>
</g>
<g fill="none" stroke="#000030" stroke-width="10" stroke-linejoin="round" filter="url(#b4)">
<polyline points="987,545 1015,650 989,770" opacity="0.006" stroke-dasharray="42 13" stroke-dashoffset="26"/>
<polyline points="1001,925 1023,975" opacity="0.008"/>
<polyline points="1013,545 1041,650 1015,770" opacity="0.016" stroke-dasharray="43 20" stroke-dashoffset="17"/>
<polyline points="1027,925 1049,975" opacity="0.020"/>
<polyline points="1039,545 1067,650 1041,770" opacity="0.023" stroke-dasharray="37 9" stroke-dashoffset="17"/>
<polyline points="1053,925 1075,975" opacity="0.058"/>
<polyline points="1065,545 1093,650 1067,770" opacity="0.039" stroke-dasharray="23 14" stroke-dashoffset="39"/>
<polyline points="1079,925 1101,975" opacity="0.035"/>
<polyline points="1091,545 1119,650 1093,770" opacity="0.059" stroke-dasharray="43 21" stroke-dashoffset="3"/>
<polyline points="1105,925 1127,975" opacity="0.097"/>
<polyline points="1117,545 1145,650 1119,770" opacity="0.061" stroke-dasharray="36 17" stroke-dashoffset="30"/>
<polyline points="1131,925 1153,975" opacity="0.108"/>
<polyline points="1143,545 1171,650 1145,770" opacity="0.083" stroke-dasharray="28 20" stroke-dashoffset="0"/>
<polyline points="1157,925 1179,975" opacity="0.073"/>
<polyline points="1169,545 1197,650 1171,770" opacity="0.057" stroke-dasharray="41 22" stroke-dashoffset="16"/>
<polyline points="1183,925 1205,975" opacity="0.073"/>
<polyline points="1195,545 1223,650 1197,770" opacity="0.102" stroke-dasharray="34 22" stroke-dashoffset="14"/>
<polyline points="1209,925 1231,975" opacity="0.141"/>
<polyline points="1221,545 1249,650 1223,770" opacity="0.118" stroke-dasharray="28 10" stroke-dashoffset="38"/>
<polyline points="1235,925 1257,975" opacity="0.124"/>
<polyline points="1247,545 1275,650 1249,770" opacity="0.131" stroke-dasharray="37 22" stroke-dashoffset="33"/>
<polyline points="1261,925 1283,975" opacity="0.155"/>
<polyline points="1273,545 1301,650 1275,770" opacity="0.082" stroke-dasharray="44 17" stroke-dashoffset="7"/>
<polyline points="1287,925 1309,975" opacity="0.179"/>
<polyline points="1299,545 1327,650 1301,770" opacity="0.154" stroke-dasharray="41 20" stroke-dashoffset="8"/>
<polyline points="1313,925 1335,975" opacity="0.107"/>
<polyline points="1325,545 1353,650 1327,770" opacity="0.091" stroke-dasharray="38 22" stroke-dashoffset="0"/>
<polyline points="1339,925 1361,975" opacity="0.159"/>
<polyline points="1351,545 1379,650 1353,770" opacity="0.113" stroke-dasharray="24 9" stroke-dashoffset="34"/>
<polyline points="1365,925 1387,975" opacity="0.191"/>
<polyline points="1377,545 1405,650 1379,770" opacity="0.101" stroke-dasharray="31 14" stroke-dashoffset="14"/>
<polyline points="1391,925 1413,975" opacity="0.252"/>
<polyline points="1403,545 1431,650 1405,770" opacity="0.156" stroke-dasharray="34 9" stroke-dashoffset="4"/>
<polyline points="1417,925 1439,975" opacity="0.123"/>
<polyline points="1429,545 1457,650 1431,770" opacity="0.136" stroke-dasharray="33 16" stroke-dashoffset="27"/>
<polyline points="1443,925 1465,975" opacity="0.183"/>
<polyline points="1455,545 1483,650 1457,770" opacity="0.144" stroke-dasharray="36 9" stroke-dashoffset="40"/>
<polyline points="1469,925 1491,975" opacity="0.276"/>
<polyline points="1481,545 1509,650 1483,770" opacity="0.100" stroke-dasharray="31 22" stroke-dashoffset="30"/>
<polyline points="1495,925 1517,975" opacity="0.184"/>
<polyline points="1507,545 1535,650 1509,770" opacity="0.151" stroke-dasharray="27 13" stroke-dashoffset="10"/>
<polyline points="1521,925 1543,975" opacity="0.135"/>
<polyline points="1533,545 1561,650 1535,770" opacity="0.097" stroke-dasharray="37 21" stroke-dashoffset="21"/>
<polyline points="1547,925 1569,975" opacity="0.152"/>
<polyline points="1559,545 1587,650 1561,770" opacity="0.166" stroke-dasharray="22 19" stroke-dashoffset="10"/>
<polyline points="1573,925 1595,975" opacity="0.101"/>
<polyline points="1585,545 1613,650 1587,770" opacity="0.110" stroke-dasharray="39 9" stroke-dashoffset="31"/>
<polyline points="1599,925 1621,975" opacity="0.257"/>
<polyline points="1611,545 1639,650 1613,770" opacity="0.134" stroke-dasharray="38 9" stroke-dashoffset="33"/>
<polyline points="1625,925 1647,975" opacity="0.149"/>
<polyline points="1637,545 1665,650 1639,770" opacity="0.155" stroke-dasharray="33 11" stroke-dashoffset="11"/>
<polyline points="1651,925 1673,975" opacity="0.297"/>
<polyline points="1663,545 1691,650 1665,770" opacity="0.137" stroke-dasharray="43 8" stroke-dashoffset="39"/>
<polyline points="1677,925 1699,975" opacity="0.282"/>
<polyline points="1689,545 1717,650 1691,770" opacity="0.130" stroke-dasharray="36 20" stroke-dashoffset="36"/>
<polyline points="1703,925 1725,975" opacity="0.161"/>
<polyline points="1715,545 1743,650 1717,770" opacity="0.157" stroke-dasharray="36 17" stroke-dashoffset="39"/>
<polyline points="1729,925 1751,975" opacity="0.188"/>
<polyline points="1741,545 1769,650 1743,770" opacity="0.096" stroke-dasharray="41 13" stroke-dashoffset="21"/>
<polyline points="1755,925 1777,975" opacity="0.127"/>
<polyline points="1767,545 1795,650 1769,770" opacity="0.091" stroke-dasharray="26 18" stroke-dashoffset="39"/>
<polyline points="1781,925 1803,975" opacity="0.136"/>
</g>
<g fill="#2a2aff">
<rect x="110.0" y="670" width="6" height="6" opacity="0.21" filter="url(#b1)"/>
<rect x="130.0" y="670" width="6" height="6" opacity="0.17" filter="url(#b1)"/>
<rect x="149.6" y="670" width="6" height="6" opacity="0.17" filter="url(#b1)"/>
<rect x="165.1" y="670" width="6" height="6" opacity="0.15" filter="url(#b1)"/>
<rect x="194.0" y="670" width="6" height="6" opacity="0.12" filter="url(#b1)"/>
<rect x="218.5" y="670" width="6" height="6" opacity="0.14" filter="url(#b1)"/>
<rect x="237.3" y="670" width="6" height="6" opacity="0.10" filter="url(#b1)"/>
<rect x="251.6" y="670" width="6" height="6" opacity="0.21" filter="url(#b1)"/>
<rect x="278.9" y="670" width="6" height="6" opacity="0.20" filter="url(#b1)"/>
<rect x="305.8" y="670" width="6" height="6" opacity="0.21" filter="url(#b1)"/>
<rect x="322.4" y="670" width="6" height="6" opacity="0.17" filter="url(#b1)"/>
<rect x="344.3" y="670" width="6" height="6" opacity="0.17" filter="url(#b1)"/>
<rect x="373.3" y="670" width="6" height="6" opacity="0.19" filter="url(#b1)"/>
<rect x="402.8" y="670" width="6" height="6" opacity="0.11" filter="url(#b1)"/>
<rect x="427.2" y="670" width="6" height="6" opacity="0.18" filter="url(#b1)"/>
<rect x="453.1" y="670" width="6" height="6" opacity="0.17" filter="url(#b1)"/>
<rect x="480.4" y="670" width="6" height="6" opacity="0.14" filter="url(#b1)"/>
<rect x="509.3" y="670" width="6" height="6" opacity="0.15" filter="url(#b1)"/>
<rect x="532.9" y="670" width="6" height="6" opacity="0.21" filter="url(#b1)"/>
<rect x="558.1" y="670" width="6" height="6" opacity="0.14" filter="url(#b1)"/>
<rect x="575.8" y="670" width="6" height="6" opacity="0.14" filter="url(#b1)"/>
<rect x="599.8" y="670" width="6" height="6" opacity="0.22" filter="url(#b1)"/>
<rect x="628.2" y="670" width="6" height="6" opacity="0.15" filter="url(#b1)"/>
<rect x="648.6" y="670" width="6" height="6" opacity="0.20" filter="url(#b1)"/>
<rect x="667.2" y="670" width="6" height="6" opacity="0.15" filter="url(#b1)"/>
<rect x="681.4" y="670" width="6" height="6" opacity="0.12" filter="url(#b1)"/>
<rect x="704.0" y="670" width="6" height="6" opacity="0.18" filter="url(#b1)"/>
<rect x="727.9" y="670" width="6" height="6" opacity="0.14" filter="url(#b1)"/>
<rect x="757.1" y="670" width="6" height="6" opacity="0.17" filter="url(#b1)"/>
<rect x="773.6" y="670" width="6" height="6" opacity="0.11" filter="url(#b1)"/>
<rect x="803.2" y="670" width="6" height="6" opacity="0.22" filter="url(#b1)"/>
<rect x="831.9" y="670" width="6" height="6" opacity="0.17" filter="url(#b1)"/>
<rect x="850.9" y="670" width="6" height="6" opacity="0.11" filter="url(#b1)"/>
<rect x="869.0" y="670" width="6" height="6" opacity="0.13" filter="url(#b1)"/>
<rect x="897.8" y="670" width="6" height="6" opacity="0.21" filter="url(#b1)"/>
<rect x="924.3" y="670" width="6" height="6" opacity="0.12" filter="url(#b1)"/>
<rect x="942.1" y="670" width="6" height="6" opacity="0.14" filter="url(#b1)"/>
<rect x="971.3" y="670" width="6" height="6" opacity="0.12" filter="url(#b1)"/>
<rect x="997.9" y="670" width="6" height="6" opacity="0.18" filter="url(#b1)"/>
<rect x="1020.7" y="670" width="6" height="6" opacity="0.22" filter="url(#b1)"/>
<rect x="1038.9" y="670" width="6" height="6" opacity="0.16" filter="url(#b1)"/>
<rect x="1055.4" y="670" width="6" height="6" opacity="0.11" filter="url(#b1)"/>
<rect x="1069.9" y="670" width="6" height="6" opacity="0.14" filter="url(#b1)"/>
<rect x="1085.9" y="670" width="6" height="6" opacity="0.11" filter="url(#b1)"/>
<rect x="1115.7" y="670" width="6" height="6" opacity="0.13" filter="url(#b1)"/>
<rect x="1144.0" y="670" width="6" height="6" opacity="0.18" filter="url(#b1)"/>
<rect x="1169.7" y="670" width="6" height="6" opacity="0.18" filter="url(#b1)"/>
<rect x="1198.9" y="670" width="6" height="6" opacity="0.21" filter="url(#b1)"/>
<rect x="1224.4" y="670" width="6" height="6" opacity="0.17" filter="url(#b1)"/>
<rect x="1249.5" y="670" width="6" height="6" opacity="0.19" filter="url(#b1)"/>
<rect x="1272.4" y="670" width="6" height="6" opacity="0.16" filter="url(#b1)"/>
<rect x="1288.8" y="670" width="6" height="6" opacity="0.20" filter="url(#b1)"/>
<rect x="1310.6" y="670" width="6" height="6" opacity="0.11" filter="url(#b1)"/>
<rect x="1327.3" y="670" width="6" height="6" opacity="0.20" filter="url(#b1)"/>
<rect x="1345.4" y="670" width="6" height="6" opacity="0.15" filter="url(#b1)"/>
<rect x="1370.3" y="670" width="6" height="6" opacity="0.20" filter="url(#b1)"/>
<rect x="1389.5" y="670" width="6" height="6" opacity="0.15" filter="url(#b1)"/>
<rect x="1410.3" y="670" width="6" height="6" opacity="0.10" filter="url(#b1)"/>
<rect x="1438.3" y="670" width="6" height="6" opacity="0.10" filter="url(#b1)"/>
<rect x="1467.7" y="670" width="6" height="6" opacity="0.12" filter="url(#b1)"/>
<rect x="1484.2" y="670" width="6" height="6" opacity="0.20" filter="url(#b1)"/>
<rect x="1511.4" y="670" width="6" height="6" opacity="0.13" filter="url(#b1)"/>
<rect x="1534.2" y="670" width="6" height="6" opacity="0.16" filter="url(#b1)"/>
<rect x="1559.7" y="670" width="6" height="6" opacity="0.12" filter="url(#b1)"/>
<rect x="1586.9" y="670" width="6" height="6" opacity="0.22" filter="url(#b1)"/>
<rect x="1612.2" y="670" width="6" height="6" opacity="0.21" filter="url(#b1)"/>
<rect x="1641.2" y="670" width="6" height="6" opacity="0.15" filter="url(#b1)"/>
<rect x="1668.8" y="670" width="6" height="6" opacity="0.20" filter="url(#b1)"/>
<rect x="1692.2" y="670" width="6" height="6" opacity="0.11" filter="url(#b1)"/>
<rect x="1716.1" y="670" width="6" height="6" opacity="0.21" filter="url(#b1)"/>
<rect x="1735.0" y="670" width="6" height="6" opacity="0.18" filter="url(#b1)"/>
<rect x="1763.3" y="670" width="6" height="6" opacity="0.17" filter="url(#b1)"/>
</g>
<rect x="1327.0" y="526" width="14.0" height="6" fill="#2222ff" opacity="0.50" filter="url(#b1)"/>
<rect x="1386.0" y="526" width="6.0" height="6" fill="#2222ff" opacity="0.45" filter="url(#b1)"/>
<rect x="1400.0" y="526" width="32.0" height="6" fill="#2222ff" opacity="0.35" filter="url(#b1)"/>
<rect x="1470.0" y="526" width="28.0" height="6" fill="#2222ff" opacity="0.25" filter="url(#b1)"/>
<rect x="1176.0" y="526" width="12.0" height="6" fill="#2222ff" opacity="0.20" filter="url(#b1)"/>
<rect x="1500.0" y="526" width="30.0" height="6" fill="#2222ff" opacity="0.15" filter="url(#b1)"/>
<ellipse cx="119.9" cy="724.5" rx="3.0" ry="4.5" fill="#2626ff" opacity="0.10"/>
<ellipse cx="130.8" cy="724.5" rx="2.6" ry="4.5" fill="#2626ff" opacity="0.10"/>
<ellipse cx="146.8" cy="724.5" rx="3.0" ry="4.5" fill="#2626ff" opacity="0.17"/>
<ellipse cx="208.1" cy="724.5" rx="3.2" ry="4.5" fill="#2626ff" opacity="0.30"/>
<ellipse cx="213.5" cy="724.5" rx="3.0" ry="4.5" fill="#2626ff" opacity="0.25"/>
<ellipse cx="236.0" cy="724.5" rx="3.0" ry="4.5" fill="#2626ff" opacity="0.20"/>
<ellipse cx="270.3" cy="724.5" rx="2.8" ry="4.5" fill="#2626ff" opacity="0.12"/>
<ellipse cx="286.3" cy="724.5" rx="2.8" ry="4.5" fill="#2626ff" opacity="0.10"/>
<ellipse cx="292.2" cy="724.5" rx="2.6" ry="4.5" fill="#2626ff" opacity="0.10"/>
<ellipse cx="325.7" cy="724.5" rx="2.0" ry="4.5" fill="#2626ff" opacity="0.20"/>
<ellipse cx="369.4" cy="724.5" rx="3.0" ry="4.5" fill="#2626ff" opacity="0.23"/>
<ellipse cx="375.3" cy="724.5" rx="3.2" ry="4.5" fill="#2626ff" opacity="0.30"/>
<ellipse cx="408.6" cy="724.5" rx="3.0" ry="4.5" fill="#2626ff" opacity="0.20"/>
<ellipse cx="422.5" cy="724.5" rx="3.0" ry="4.5" fill="#2626ff" opacity="0.23"/>
<ellipse cx="448.8" cy="724.5" rx="2.8" ry="4.5" fill="#2626ff" opacity="0.12"/>
<ellipse cx="469.3" cy="724.5" rx="2.8" ry="4.5" fill="#2626ff" opacity="0.20"/>
<ellipse cx="475.9" cy="724.5" rx="2.0" ry="4.5" fill="#2626ff" opacity="0.20"/>
<ellipse cx="508.3" cy="724.5" rx="2.6" ry="4.5" fill="#2626ff" opacity="0.12"/>
<ellipse cx="512.8" cy="724.5" rx="2.6" ry="4.5" fill="#2626ff" opacity="0.10"/>
<ellipse cx="540.5" cy="724.5" rx="3.0" ry="4.5" fill="#2626ff" opacity="0.15"/>
<ellipse cx="566.2" cy="724.5" rx="3.2" ry="4.5" fill="#2626ff" opacity="0.30"/>
<ellipse cx="585.7" cy="724.5" rx="3.4" ry="4.5" fill="#2626ff" opacity="0.30"/>
<ellipse cx="613.8" cy="724.5" rx="3.0" ry="4.5" fill="#2626ff" opacity="0.17"/>
<ellipse cx="627.7" cy="724.5" rx="2.8" ry="4.5" fill="#2626ff" opacity="0.23"/>
<ellipse cx="666.1" cy="724.5" rx="2.8" ry="4.5" fill="#2626ff" opacity="0.17"/>
<ellipse cx="706.7" cy="724.5" rx="3.0" ry="4.5" fill="#2626ff" opacity="0.12"/>
<ellipse cx="743.0" cy="724.5" rx="2.8" ry="4.5" fill="#2626ff" opacity="0.17"/>
<ellipse cx="789.8" cy="724.5" rx="2.8" ry="4.5" fill="#2626ff" opacity="0.17"/>
<ellipse cx="827.8" cy="724.5" rx="1.8" ry="4.5" fill="#2626ff" opacity="0.10"/>
<ellipse cx="904.1" cy="724.5" rx="3.0" ry="4.5" fill="#2626ff" opacity="0.17"/>
<ellipse cx="964.6" cy="724.5" rx="2.8" ry="4.5" fill="#2626ff" opacity="0.10"/>
<ellipse cx="978.6" cy="724.5" rx="2.8" ry="4.5" fill="#2626ff" opacity="0.15"/>
<ellipse cx="1016.9" cy="724.5" rx="2.8" ry="4.5" fill="#2626ff" opacity="0.10"/>
<ellipse cx="1036.4" cy="724.5" rx="2.0" ry="4.5" fill="#2626ff" opacity="0.23"/>
<ellipse cx="1055.9" cy="724.5" rx="3.0" ry="4.5" fill="#2626ff" opacity="0.17"/>
<ellipse cx="1068.5" cy="724.5" rx="2.0" ry="4.5" fill="#2626ff" opacity="0.10"/>
<ellipse cx="1072.5" cy="724.5" rx="2.0" ry="4.5" fill="#2626ff" opacity="0.10"/>
<ellipse cx="1101.0" cy="724.5" rx="2.8" ry="4.5" fill="#2626ff" opacity="0.23"/>
<ellipse cx="1106.2" cy="724.5" rx="3.0" ry="4.5" fill="#2626ff" opacity="0.30"/>
<ellipse cx="1132.9" cy="724.5" rx="2.8" ry="4.5" fill="#2626ff" opacity="0.10"/>
<ellipse cx="1139.0" cy="724.5" rx="2.8" ry="4.5" fill="#2626ff" opacity="0.15"/>
<ellipse cx="1168.1" cy="724.5" rx="3.0" ry="4.5" fill="#2626ff" opacity="0.17"/>
<ellipse cx="1172.5" cy="724.5" rx="1.8" ry="4.5" fill="#2626ff" opacity="0.10"/>
<ellipse cx="1175.5" cy="724.5" rx="1.8" ry="4.5" fill="#2626ff" opacity="0.10"/>
<ellipse cx="1250.2" cy="724.5" rx="3.0" ry="4.5" fill="#2626ff" opacity="0.17"/>
<ellipse cx="1257.0" cy="724.5" rx="2.8" ry="4.5" fill="#2626ff" opacity="0.15"/>
<ellipse cx="1284.0" cy="724.5" rx="2.0" ry="4.5" fill="#2626ff" opacity="0.23"/>
<ellipse cx="1294.9" cy="724.5" rx="3.0" ry="4.5" fill="#2626ff" opacity="0.17"/>
<ellipse cx="1362.0" cy="724.5" rx="2.6" ry="4.5" fill="#2626ff" opacity="0.10"/>
<ellipse cx="1367.2" cy="724.5" rx="2.8" ry="4.5" fill="#2626ff" opacity="0.15"/>
<ellipse cx="1395.3" cy="724.5" rx="3.2" ry="4.5" fill="#2626ff" opacity="0.23"/>
<ellipse cx="1455.0" cy="724.5" rx="2.8" ry="4.5" fill="#2626ff" opacity="0.15"/>
<ellipse cx="1478.0" cy="724.5" rx="2.8" ry="4.5" fill="#2626ff" opacity="0.10"/>
<ellipse cx="1543.2" cy="724.5" rx="3.0" ry="4.5" fill="#2626ff" opacity="0.10"/>
<ellipse cx="1621.6" cy="724.5" rx="1.8" ry="4.5" fill="#2626ff" opacity="0.10"/>
<ellipse cx="1626.7" cy="724.5" rx="2.8" ry="4.5" fill="#2626ff" opacity="0.15"/>
<ellipse cx="1661.6" cy="724.5" rx="1.8" ry="4.5" fill="#2626ff" opacity="0.10"/>
<ellipse cx="106.0" cy="821.0" rx="4.5" ry="10.5" fill="url(#g8)"/>
<ellipse cx="139.3" cy="821.3" rx="4.0" ry="10.5" fill="url(#g9)"/>
<ellipse cx="157.1" cy="821.4" rx="3.4" ry="10.5" fill="url(#g14)"/>
<ellipse cx="165.3" cy="820.7" rx="4.7" ry="10.5" fill="url(#g14)"/>
<ellipse cx="196.2" cy="820.7" rx="2.0" ry="10.5" fill="url(#g14)"/>
<ellipse cx="205.8" cy="821.1" rx="4.4" ry="10.5" fill="url(#g9)"/>
<ellipse cx="218.7" cy="821.8" rx="4.9" ry="10.5" fill="url(#g5)"/>
<ellipse cx="227.6" cy="820.8" rx="4.0" ry="10.5" fill="url(#g8)"/>
<ellipse cx="232.8" cy="821.1" rx="2.7" ry="10.5" fill="url(#g9)"/>
<ellipse cx="246.0" cy="821.3" rx="3.8" ry="10.5" fill="url(#g9)"/>
<ellipse cx="251.4" cy="821.6" rx="4.7" ry="10.5" fill="url(#g6)"/>
<ellipse cx="257.5" cy="821.9" rx="2.2" ry="10.5" fill="url(#g9)"/>
<ellipse cx="271.2" cy="821.2" rx="2.2" ry="10.5" fill="url(#g9)"/>
<ellipse cx="289.1" cy="822.0" rx="4.5" ry="10.5" fill="url(#g6)"/>
<ellipse cx="297.9" cy="821.8" rx="4.7" ry="10.5" fill="url(#g7)"/>
<ellipse cx="305.3" cy="820.6" rx="2.5" ry="10.5" fill="url(#g14)"/>
<ellipse cx="314.5" cy="822.0" rx="3.7" ry="10.5" fill="url(#g6)"/>
<ellipse cx="321.7" cy="822.0" rx="4.8" ry="10.5" fill="url(#g6)"/>
<ellipse cx="333.8" cy="821.3" rx="3.4" ry="10.5" fill="url(#g6)"/>
<ellipse cx="343.5" cy="820.7" rx="4.2" ry="10.5" fill="url(#g8)"/>
<ellipse cx="351.4" cy="821.0" rx="2.5" ry="10.5" fill="url(#g6)"/>
<ellipse cx="361.1" cy="822.0" rx="2.5" ry="10.5" fill="url(#g8)"/>
<ellipse cx="368.9" cy="821.9" rx="4.4" ry="10.5" fill="url(#g5)"/>
<ellipse cx="380.3" cy="820.7" rx="4.1" ry="10.5" fill="url(#g5)"/>
<ellipse cx="390.2" cy="820.5" rx="3.3" ry="10.5" fill="url(#g7)"/>
<ellipse cx="405.4" cy="821.3" rx="2.2" ry="10.5" fill="url(#g8)"/>
<ellipse cx="422.0" cy="821.4" rx="3.5" ry="10.5" fill="url(#g7)"/>
<ellipse cx="434.8" cy="821.7" rx="2.0" ry="10.5" fill="url(#g7)"/>
<ellipse cx="441.6" cy="821.0" rx="2.8" ry="10.5" fill="url(#g5)"/>
<ellipse cx="454.9" cy="821.9" rx="4.0" ry="10.5" fill="url(#g6)"/>
<ellipse cx="472.0" cy="821.0" rx="3.5" ry="10.5" fill="url(#g6)"/>
<ellipse cx="501.0" cy="820.6" rx="4.1" ry="10.5" fill="url(#g9)"/>
<ellipse cx="516.7" cy="821.3" rx="4.3" ry="10.5" fill="url(#g15)"/>
<ellipse cx="525.1" cy="821.2" rx="4.5" ry="10.5" fill="url(#g5)"/>
<ellipse cx="533.8" cy="821.1" rx="4.6" ry="10.5" fill="url(#g8)"/>
<ellipse cx="538.8" cy="821.2" rx="4.5" ry="10.5" fill="url(#g7)"/>
<ellipse cx="580.2" cy="820.6" rx="3.5" ry="10.5" fill="url(#g12)"/>
<ellipse cx="593.6" cy="821.5" rx="3.5" ry="10.5" fill="url(#g8)"/>
<ellipse cx="599.4" cy="821.0" rx="2.2" ry="10.5" fill="url(#g7)"/>
<ellipse cx="608.8" cy="820.6" rx="2.3" ry="10.5" fill="url(#g6)"/>
<ellipse cx="626.2" cy="821.0" rx="3.6" ry="10.5" fill="url(#g5)"/>
<ellipse cx="635.9" cy="821.4" rx="3.5" ry="10.5" fill="url(#g8)"/>
<ellipse cx="643.1" cy="821.4" rx="3.6" ry="10.5" fill="url(#g7)"/>
<ellipse cx="661.5" cy="821.0" rx="2.9" ry="10.5" fill="url(#g6)"/>
<ellipse cx="669.2" cy="821.0" rx="3.0" ry="10.5" fill="url(#g7)"/>
<ellipse cx="685.4" cy="820.6" rx="4.4" ry="10.5" fill="url(#g8)"/>
<ellipse cx="703.4" cy="821.3" rx="1.9" ry="10.5" fill="url(#g14)"/>
<ellipse cx="711.3" cy="821.2" rx="3.1" ry="10.5" fill="url(#g6)"/>
<ellipse cx="725.8" cy="820.5" rx="2.2" ry="10.5" fill="url(#g14)"/>
<ellipse cx="753.2" cy="821.6" rx="1.9" ry="10.5" fill="url(#g6)"/>
<ellipse cx="765.6" cy="821.1" rx="3.2" ry="10.5" fill="url(#g7)"/>
<ellipse cx="771.7" cy="820.7" rx="2.0" ry="10.5" fill="url(#g7)"/>
<ellipse cx="782.7" cy="821.5" rx="4.6" ry="10.5" fill="url(#g8)"/>
<ellipse cx="815.7" cy="821.6" rx="4.1" ry="10.5" fill="url(#g9)"/>
<ellipse cx="832.1" cy="821.0" rx="4.7" ry="10.5" fill="url(#g7)"/>
<ellipse cx="837.6" cy="820.8" rx="3.9" ry="10.5" fill="url(#g9)"/>
<ellipse cx="848.8" cy="821.8" rx="3.2" ry="10.5" fill="url(#g9)"/>
<ellipse cx="855.4" cy="821.6" rx="4.2" ry="10.5" fill="url(#g14)"/>
<ellipse cx="864.1" cy="821.3" rx="2.7" ry="10.5" fill="url(#g5)"/>
<ellipse cx="894.7" cy="821.7" rx="3.4" ry="10.5" fill="url(#g8)"/>
<ellipse cx="911.4" cy="820.8" rx="2.7" ry="10.5" fill="url(#g8)"/>
<ellipse cx="924.8" cy="820.6" rx="4.5" ry="10.5" fill="url(#g15)"/>
<ellipse cx="952.9" cy="821.5" rx="3.2" ry="10.5" fill="url(#g11)"/>
<ellipse cx="960.9" cy="820.8" rx="2.4" ry="10.5" fill="url(#g13)"/>
<ellipse cx="976.2" cy="821.4" rx="3.0" ry="10.5" fill="url(#g13)"/>
<ellipse cx="990.4" cy="820.9" rx="3.8" ry="10.5" fill="url(#g9)"/>
<ellipse cx="104.0" cy="842.3" rx="2.3" ry="8.5" fill="url(#g5)"/>
<ellipse cx="118.3" cy="842.4" rx="4.0" ry="8.5" fill="url(#g6)"/>
<ellipse cx="128.4" cy="841.8" rx="1.9" ry="8.5" fill="url(#g7)"/>
<ellipse cx="142.0" cy="842.0" rx="2.3" ry="8.5" fill="url(#g6)"/>
<ellipse cx="151.3" cy="843.1" rx="4.0" ry="8.5" fill="url(#g7)"/>
<ellipse cx="162.3" cy="842.6" rx="3.6" ry="8.5" fill="url(#g7)"/>
<ellipse cx="178.8" cy="842.4" rx="2.5" ry="8.5" fill="url(#g5)"/>
<ellipse cx="192.7" cy="842.0" rx="4.0" ry="8.5" fill="url(#g5)"/>
<ellipse cx="203.5" cy="841.8" rx="2.8" ry="8.5" fill="url(#g4)"/>
<ellipse cx="210.9" cy="841.9" rx="2.6" ry="8.5" fill="url(#g7)"/>
<ellipse cx="228.4" cy="842.4" rx="2.2" ry="8.5" fill="url(#g4)"/>
<ellipse cx="236.2" cy="842.5" rx="2.1" ry="8.5" fill="url(#g5)"/>
<ellipse cx="255.2" cy="842.0" rx="3.9" ry="8.5" fill="url(#g6)"/>
<ellipse cx="274.7" cy="842.7" rx="3.2" ry="8.5" fill="url(#g5)"/>
<ellipse cx="279.4" cy="841.9" rx="2.1" ry="8.5" fill="url(#g6)"/>
<ellipse cx="285.5" cy="842.4" rx="2.8" ry="8.5" fill="url(#g6)"/>
<ellipse cx="294.4" cy="842.9" rx="2.4" ry="8.5" fill="url(#g5)"/>
<ellipse cx="303.2" cy="842.0" rx="1.7" ry="8.5" fill="url(#g7)"/>
<ellipse cx="312.9" cy="843.0" rx="2.0" ry="8.5" fill="url(#g6)"/>
<ellipse cx="319.7" cy="842.7" rx="2.6" ry="8.5" fill="url(#g5)"/>
<ellipse cx="336.0" cy="842.2" rx="4.3" ry="8.5" fill="url(#g6)"/>
<ellipse cx="345.8" cy="842.7" rx="3.8" ry="8.5" fill="url(#g5)"/>
<ellipse cx="353.4" cy="843.2" rx="1.8" ry="8.5" fill="url(#g6)"/>
<ellipse cx="357.2" cy="843.5" rx="2.4" ry="8.5" fill="url(#g6)"/>
<ellipse cx="371.7" cy="843.1" rx="2.0" ry="8.5" fill="url(#g4)"/>
<ellipse cx="392.0" cy="842.9" rx="2.4" ry="8.5" fill="url(#g6)"/>
<ellipse cx="402.9" cy="842.0" rx="1.7" ry="8.5" fill="url(#g5)"/>
<ellipse cx="409.5" cy="842.0" rx="3.4" ry="8.5" fill="url(#g5)"/>
<ellipse cx="419.5" cy="843.1" rx="2.0" ry="8.5" fill="url(#g7)"/>
<ellipse cx="427.2" cy="843.2" rx="4.2" ry="8.5" fill="url(#g6)"/>
<ellipse cx="434.8" cy="842.8" rx="2.6" ry="8.5" fill="url(#g5)"/>
<ellipse cx="450.9" cy="843.3" rx="3.5" ry="8.5" fill="url(#g5)"/>
<ellipse cx="457.5" cy="842.2" rx="3.8" ry="8.5" fill="url(#g6)"/>
<ellipse cx="466.0" cy="841.9" rx="4.1" ry="8.5" fill="url(#g5)"/>
<ellipse cx="481.3" cy="842.7" rx="3.5" ry="8.5" fill="url(#g6)"/>
<ellipse cx="502.6" cy="842.0" rx="3.0" ry="8.5" fill="url(#g5)"/>
<ellipse cx="510.9" cy="843.4" rx="2.8" ry="8.5" fill="url(#g5)"/>
<ellipse cx="515.0" cy="842.2" rx="3.0" ry="8.5" fill="url(#g6)"/>
<ellipse cx="521.5" cy="842.4" rx="3.2" ry="8.5" fill="url(#g5)"/>
<ellipse cx="528.5" cy="842.8" rx="3.0" ry="8.5" fill="url(#g6)"/>
<ellipse cx="535.2" cy="842.1" rx="2.0" ry="8.5" fill="url(#g7)"/>
<ellipse cx="543.8" cy="843.4" rx="3.5" ry="8.5" fill="url(#g7)"/>
<ellipse cx="549.1" cy="841.8" rx="2.9" ry="8.5" fill="url(#g7)"/>
<ellipse cx="552.9" cy="843.1" rx="3.2" ry="8.5" fill="url(#g5)"/>
<ellipse cx="557.6" cy="843.3" rx="4.2" ry="8.5" fill="url(#g6)"/>
<ellipse cx="567.7" cy="842.1" rx="1.7" ry="8.5" fill="url(#g7)"/>
<ellipse cx="574.7" cy="841.8" rx="3.7" ry="8.5" fill="url(#g6)"/>
<ellipse cx="578.8" cy="841.8" rx="4.0" ry="8.5" fill="url(#g6)"/>
<ellipse cx="583.4" cy="843.3" rx="1.8" ry="8.5" fill="url(#g7)"/>
<ellipse cx="588.2" cy="842.4" rx="2.6" ry="8.5" fill="url(#g6)"/>
<ellipse cx="601.2" cy="841.5" rx="3.5" ry="8.5" fill="url(#g7)"/>
<ellipse cx="619.0" cy="842.6" rx="3.5" ry="8.5" fill="url(#g6)"/>
<ellipse cx="629.9" cy="842.3" rx="3.9" ry="8.5" fill="url(#g6)"/>
<ellipse cx="637.5" cy="842.6" rx="4.1" ry="8.5" fill="url(#g6)"/>
<ellipse cx="645.1" cy="842.1" rx="3.3" ry="8.5" fill="url(#g6)"/>
<ellipse cx="655.5" cy="843.5" rx="3.7" ry="8.5" fill="url(#g5)"/>
<ellipse cx="670.1" cy="842.4" rx="2.3" ry="8.5" fill="url(#g5)"/>
<ellipse cx="675.1" cy="843.1" rx="3.7" ry="8.5" fill="url(#g5)"/>
<ellipse cx="679.2" cy="842.0" rx="2.0" ry="8.5" fill="url(#g6)"/>
<ellipse cx="689.4" cy="842.1" rx="3.8" ry="8.5" fill="url(#g5)"/>
<ellipse cx="710.3" cy="842.1" rx="2.8" ry="8.5" fill="url(#g5)"/>
<ellipse cx="720.8" cy="842.4" rx="4.3" ry="8.5" fill="url(#g5)"/>
<ellipse cx="735.2" cy="842.5" rx="2.2" ry="8.5" fill="url(#g5)"/>
<ellipse cx="744.5" cy="843.5" rx="3.0" ry="8.5" fill="url(#g5)"/>
<ellipse cx="755.7" cy="842.6" rx="3.4" ry="8.5" fill="url(#g5)"/>
<ellipse cx="764.1" cy="842.7" rx="3.5" ry="8.5" fill="url(#g5)"/>
<ellipse cx="784.8" cy="841.8" rx="2.8" ry="8.5" fill="url(#g5)"/>
<ellipse cx="802.3" cy="842.9" rx="3.8" ry="8.5" fill="url(#g7)"/>
<ellipse cx="810.4" cy="843.2" rx="3.9" ry="8.5" fill="url(#g5)"/>
<ellipse cx="825.7" cy="842.0" rx="4.1" ry="8.5" fill="url(#g5)"/>
<ellipse cx="832.3" cy="841.6" rx="2.2" ry="8.5" fill="url(#g6)"/>
<ellipse cx="837.9" cy="843.3" rx="3.5" ry="8.5" fill="url(#g6)"/>
<ellipse cx="841.6" cy="843.5" rx="3.4" ry="8.5" fill="url(#g5)"/>
<ellipse cx="846.9" cy="843.4" rx="3.7" ry="8.5" fill="url(#g7)"/>
<ellipse cx="853.9" cy="843.1" rx="2.9" ry="8.5" fill="url(#g5)"/>
<ellipse cx="866.9" cy="841.8" rx="3.2" ry="8.5" fill="url(#g7)"/>
<ellipse cx="875.3" cy="841.9" rx="2.7" ry="8.5" fill="url(#g5)"/>
<ellipse cx="886.1" cy="843.0" rx="2.0" ry="8.5" fill="url(#g5)"/>
<ellipse cx="891.1" cy="841.7" rx="1.6" ry="8.5" fill="url(#g7)"/>
<ellipse cx="900.9" cy="842.1" rx="3.7" ry="8.5" fill="url(#g5)"/>
<ellipse cx="914.3" cy="842.7" rx="2.9" ry="8.5" fill="url(#g6)"/>
<ellipse cx="934.5" cy="841.9" rx="3.0" ry="8.5" fill="url(#g6)"/>
<ellipse cx="944.4" cy="841.8" rx="3.4" ry="8.5" fill="url(#g5)"/>
<ellipse cx="948.4" cy="842.5" rx="3.7" ry="8.5" fill="url(#g5)"/>
<ellipse cx="956.5" cy="843.0" rx="2.1" ry="8.5" fill="url(#g6)"/>
<ellipse cx="975.8" cy="842.8" rx="1.9" ry="8.5" fill="url(#g6)"/>
<ellipse cx="984.8" cy="842.3" rx="3.6" ry="8.5" fill="url(#g6)"/>
<ellipse cx="991.3" cy="841.7" rx="4.4" ry="8.5" fill="url(#g6)"/>
<ellipse cx="997.8" cy="842.2" rx="4.5" ry="8.5" fill="url(#g7)"/>
<ellipse cx="1005.1" cy="843.4" rx="3.3" ry="8.5" fill="url(#g7)"/>
<ellipse cx="1023.4" cy="843.4" rx="3.1" ry="8.5" fill="url(#g6)"/>
<ellipse cx="1034.5" cy="842.3" rx="3.6" ry="8.5" fill="url(#g7)"/>
<ellipse cx="1050.0" cy="843.4" rx="2.9" ry="8.5" fill="url(#g5)"/>
<ellipse cx="1066.7" cy="843.0" rx="2.7" ry="8.5" fill="url(#g6)"/>
<ellipse cx="1102.9" cy="843.5" rx="3.0" ry="8.5" fill="url(#g6)"/>
<ellipse cx="1110.8" cy="841.9" rx="2.0" ry="8.5" fill="url(#g7)"/>
<ellipse cx="1116.9" cy="843.2" rx="2.0" ry="8.5" fill="url(#g7)"/>
<ellipse cx="1122.8" cy="842.7" rx="2.2" ry="8.5" fill="url(#g5)"/>
<ellipse cx="1130.8" cy="842.9" rx="3.2" ry="8.5" fill="url(#g5)"/>
<ellipse cx="1136.2" cy="843.0" rx="4.1" ry="8.5" fill="url(#g5)"/>
<ellipse cx="1142.5" cy="843.4" rx="2.7" ry="8.5" fill="url(#g6)"/>
<ellipse cx="1149.9" cy="842.2" rx="3.6" ry="8.5" fill="url(#g6)"/>
<ellipse cx="1159.8" cy="843.1" rx="3.9" ry="8.5" fill="url(#g7)"/>
<ellipse cx="1163.7" cy="842.1" rx="3.9" ry="8.5" fill="url(#g6)"/>
<ellipse cx="1170.0" cy="843.1" rx="4.2" ry="8.5" fill="url(#g5)"/>
<ellipse cx="1186.8" cy="842.1" rx="4.2" ry="8.5" fill="url(#g6)"/>
<ellipse cx="1196.6" cy="842.3" rx="3.8" ry="8.5" fill="url(#g6)"/>
<ellipse cx="1201.1" cy="842.1" rx="4.1" ry="8.5" fill="url(#g6)"/>
<ellipse cx="1211.3" cy="842.5" rx="2.2" ry="8.5" fill="url(#g5)"/>
<ellipse cx="1220.9" cy="842.5" rx="4.3" ry="8.5" fill="url(#g4)"/>
<ellipse cx="1237.1" cy="842.4" rx="4.2" ry="8.5" fill="url(#g6)"/>
<ellipse cx="1244.1" cy="841.6" rx="2.4" ry="8.5" fill="url(#g5)"/>
<ellipse cx="1251.3" cy="842.2" rx="4.1" ry="8.5" fill="url(#g6)"/>
<ellipse cx="1261.8" cy="843.2" rx="2.5" ry="8.5" fill="url(#g7)"/>
<ellipse cx="1267.6" cy="842.1" rx="4.3" ry="8.5" fill="url(#g6)"/>
<ellipse cx="1275.7" cy="842.4" rx="3.1" ry="8.5" fill="url(#g5)"/>
<ellipse cx="1289.7" cy="843.3" rx="2.4" ry="8.5" fill="url(#g5)"/>
<ellipse cx="1311.0" cy="841.5" rx="4.1" ry="8.5" fill="url(#g6)"/>
<ellipse cx="1317.2" cy="843.3" rx="3.1" ry="8.5" fill="url(#g5)"/>
<ellipse cx="1328.8" cy="842.7" rx="3.4" ry="8.5" fill="url(#g6)"/>
<ellipse cx="1337.5" cy="842.0" rx="1.9" ry="8.5" fill="url(#g5)"/>
<ellipse cx="1342.5" cy="842.3" rx="3.3" ry="8.5" fill="url(#g5)"/>
<ellipse cx="1346.9" cy="841.9" rx="3.4" ry="8.5" fill="url(#g5)"/>
<ellipse cx="1364.7" cy="843.2" rx="3.0" ry="8.5" fill="url(#g5)"/>
<ellipse cx="1374.5" cy="842.5" rx="2.0" ry="8.5" fill="url(#g5)"/>
<ellipse cx="1380.5" cy="842.6" rx="2.0" ry="8.5" fill="url(#g6)"/>
<ellipse cx="1391.4" cy="842.5" rx="3.3" ry="8.5" fill="url(#g6)"/>
<ellipse cx="1413.2" cy="841.5" rx="3.1" ry="8.5" fill="url(#g7)"/>
<ellipse cx="1428.3" cy="842.6" rx="3.3" ry="8.5" fill="url(#g6)"/>
<ellipse cx="1438.2" cy="842.3" rx="2.6" ry="8.5" fill="url(#g7)"/>
<ellipse cx="1442.4" cy="841.9" rx="2.1" ry="8.5" fill="url(#g5)"/>
<ellipse cx="1456.1" cy="842.3" rx="2.0" ry="8.5" fill="url(#g5)"/>
<ellipse cx="1465.8" cy="841.7" rx="2.3" ry="8.5" fill="url(#g6)"/>
<ellipse cx="1472.0" cy="842.8" rx="1.6" ry="8.5" fill="url(#g6)"/>
<ellipse cx="1477.4" cy="843.0" rx="4.0" ry="8.5" fill="url(#g5)"/>
<ellipse cx="1481.3" cy="841.9" rx="3.0" ry="8.5" fill="url(#g7)"/>
<ellipse cx="1491.3" cy="841.9" rx="3.2" ry="8.5" fill="url(#g5)"/>
<ellipse cx="1521.2" cy="842.2" rx="3.0" ry="8.5" fill="url(#g5)"/>
<ellipse cx="1527.6" cy="843.2" rx="2.6" ry="8.5" fill="url(#g6)"/>
<ellipse cx="1535.4" cy="842.1" rx="3.4" ry="8.5" fill="url(#g5)"/>
<ellipse cx="1541.7" cy="842.3" rx="4.1" ry="8.5" fill="url(#g6)"/>
<ellipse cx="1550.0" cy="842.2" rx="2.5" ry="8.5" fill="url(#g6)"/>
<ellipse cx="1553.7" cy="841.9" rx="1.8" ry="8.5" fill="url(#g5)"/>
<ellipse cx="1561.7" cy="842.1" rx="2.9" ry="8.5" fill="url(#g6)"/>
<ellipse cx="1566.7" cy="842.2" rx="3.2" ry="8.5" fill="url(#g7)"/>
<ellipse cx="1577.3" cy="843.3" rx="4.1" ry="8.5" fill="url(#g5)"/>
<ellipse cx="1585.1" cy="842.7" rx="2.4" ry="8.5" fill="url(#g5)"/>
<ellipse cx="1594.9" cy="843.0" rx="2.3" ry="8.5" fill="url(#g7)"/>
<ellipse cx="1599.9" cy="842.5" rx="2.3" ry="8.5" fill="url(#g7)"/>
<ellipse cx="1607.7" cy="843.4" rx="2.0" ry="8.5" fill="url(#g7)"/>
<ellipse cx="1616.2" cy="842.7" rx="2.3" ry="8.5" fill="url(#g7)"/>
<ellipse cx="1625.9" cy="843.0" rx="1.8" ry="8.5" fill="url(#g6)"/>
<ellipse cx="1645.9" cy="842.3" rx="2.1" ry="8.5" fill="url(#g6)"/>
<ellipse cx="1660.4" cy="841.8" rx="3.4" ry="8.5" fill="url(#g5)"/>
<ellipse cx="1668.5" cy="842.0" rx="4.3" ry="8.5" fill="url(#g4)"/>
<ellipse cx="1679.5" cy="841.6" rx="1.7" ry="8.5" fill="url(#g6)"/>
<ellipse cx="1695.3" cy="842.9" rx="3.2" ry="8.5" fill="url(#g5)"/>
<ellipse cx="1702.2" cy="842.4" rx="1.8" ry="8.5" fill="url(#g6)"/>
<ellipse cx="1706.1" cy="843.4" rx="4.4" ry="8.5" fill="url(#g6)"/>
<ellipse cx="1710.3" cy="843.1" rx="3.3" ry="8.5" fill="url(#g6)"/>
<ellipse cx="1742.5" cy="842.2" rx="3.7" ry="8.5" fill="url(#g5)"/>
<ellipse cx="1746.5" cy="842.6" rx="4.0" ry="8.5" fill="url(#g5)"/>
<ellipse cx="1755.1" cy="841.5" rx="3.8" ry="8.5" fill="url(#g5)"/>
<ellipse cx="1773.9" cy="842.9" rx="4.3" ry="8.5" fill="url(#g5)"/>
<rect x="1430.0" y="822" width="130.0" height="18" fill="#1818ff" opacity="0.35" filter="url(#b2)"/>
<rect x="1180.0" y="822" width="140.0" height="18" fill="#1818ff" opacity="0.30" filter="url(#b2)"/>
<rect x="1590.0" y="822" width="187.0" height="18" fill="#1818ff" opacity="0.50" filter="url(#b2)"/>
<rect x="960.0" y="822" width="150.0" height="18" fill="#1818ff" opacity="0.20" filter="url(#b2)"/>
<ellipse cx="104.0" cy="962.6" rx="5.5" ry="6.5" fill="url(#g5)"/>
<ellipse cx="114.6" cy="961.8" rx="4.9" ry="6.5" fill="url(#g7)"/>
<ellipse cx="158.4" cy="961.7" rx="3.9" ry="6.5" fill="url(#g7)"/>
<ellipse cx="186.0" cy="962.8" rx="4.3" ry="6.5" fill="url(#g7)"/>
<ellipse cx="214.4" cy="963.0" rx="2.8" ry="6.5" fill="url(#g5)"/>
<ellipse cx="235.0" cy="962.4" rx="3.0" ry="6.5" fill="url(#g5)"/>
<ellipse cx="268.2" cy="963.4" rx="2.6" ry="6.5" fill="url(#g6)"/>
<ellipse cx="302.0" cy="962.9" rx="4.0" ry="6.5" fill="url(#g5)"/>
<ellipse cx="311.3" cy="962.6" rx="3.5" ry="6.5" fill="url(#g5)"/>
<ellipse cx="324.0" cy="963.1" rx="3.3" ry="6.5" fill="url(#g6)"/>
<ellipse cx="361.2" cy="961.7" rx="2.1" ry="6.5" fill="url(#g6)"/>
<ellipse cx="379.1" cy="963.2" rx="3.1" ry="6.5" fill="url(#g6)"/>
<ellipse cx="424.8" cy="963.1" rx="2.7" ry="6.5" fill="url(#g5)"/>
<ellipse cx="474.5" cy="962.2" rx="3.3" ry="6.5" fill="url(#g6)"/>
<ellipse cx="517.2" cy="961.9" rx="3.1" ry="6.5" fill="url(#g7)"/>
<ellipse cx="553.8" cy="962.7" rx="2.7" ry="6.5" fill="url(#g6)"/>
<ellipse cx="567.7" cy="962.4" rx="4.4" ry="6.5" fill="url(#g5)"/>
<ellipse cx="575.9" cy="963.3" rx="2.4" ry="6.5" fill="url(#g7)"/>
<ellipse cx="616.5" cy="961.8" rx="3.9" ry="6.5" fill="url(#g6)"/>
<ellipse cx="626.1" cy="962.9" rx="3.2" ry="6.5" fill="url(#g5)"/>
<ellipse cx="677.9" cy="961.6" rx="3.1" ry="6.5" fill="url(#g7)"/>
<ellipse cx="720.1" cy="963.4" rx="5.3" ry="6.5" fill="url(#g6)"/>
<ellipse cx="733.3" cy="962.5" rx="2.3" ry="6.5" fill="url(#g7)"/>
<ellipse cx="755.9" cy="962.2" rx="2.1" ry="6.5" fill="url(#g5)"/>
<ellipse cx="778.5" cy="963.4" rx="3.1" ry="6.5" fill="url(#g4)"/>
<ellipse cx="796.5" cy="963.3" rx="4.6" ry="6.5" fill="url(#g5)"/>
<ellipse cx="844.9" cy="962.4" rx="3.3" ry="6.5" fill="url(#g7)"/>
<ellipse cx="879.2" cy="961.9" rx="4.0" ry="6.5" fill="url(#g7)"/>
<ellipse cx="892.4" cy="962.3" rx="2.2" ry="6.5" fill="url(#g5)"/>
<ellipse cx="901.9" cy="961.6" rx="3.1" ry="6.5" fill="url(#g6)"/>
<ellipse cx="958.7" cy="962.8" rx="2.8" ry="6.5" fill="url(#g5)"/>
<ellipse cx="981.4" cy="962.7" rx="2.3" ry="6.5" fill="url(#g6)"/>
<ellipse cx="1001.1" cy="962.6" rx="4.7" ry="6.5" fill="url(#g6)"/>
<ellipse cx="1010.9" cy="961.7" rx="3.4" ry="6.5" fill="url(#g6)"/>
<ellipse cx="1030.3" cy="962.9" rx="2.7" ry="6.5" fill="url(#g6)"/>
<ellipse cx="1043.2" cy="962.5" rx="5.0" ry="6.5" fill="url(#g7)"/>
<ellipse cx="1058.9" cy="962.4" rx="2.5" ry="6.5" fill="url(#g7)"/>
<ellipse cx="1075.9" cy="962.1" rx="2.5" ry="6.5" fill="url(#g4)"/>
<ellipse cx="1090.3" cy="961.6" rx="3.0" ry="6.5" fill="url(#g7)"/>
<ellipse cx="1098.7" cy="962.1" rx="2.7" ry="6.5" fill="url(#g5)"/>
<ellipse cx="1134.2" cy="962.0" rx="5.3" ry="6.5" fill="url(#g6)"/>
<ellipse cx="1142.5" cy="962.5" rx="5.3" ry="6.5" fill="url(#g6)"/>
<ellipse cx="1160.1" cy="962.7" rx="2.1" ry="6.5" fill="url(#g5)"/>
<ellipse cx="1205.2" cy="962.4" rx="3.5" ry="6.5" fill="url(#g5)"/>
<ellipse cx="1224.6" cy="962.5" rx="3.5" ry="6.5" fill="url(#g7)"/>
<ellipse cx="1247.5" cy="962.6" rx="2.6" ry="6.5" fill="url(#g6)"/>
<ellipse cx="1266.2" cy="963.5" rx="5.4" ry="6.5" fill="url(#g7)"/>
<ellipse cx="1281.9" cy="963.0" rx="2.8" ry="6.5" fill="url(#g6)"/>
<ellipse cx="1300.1" cy="961.6" rx="4.5" ry="6.5" fill="url(#g5)"/>
<ellipse cx="1313.5" cy="963.2" rx="4.6" ry="6.5" fill="url(#g6)"/>
<ellipse cx="1354.8" cy="963.3" rx="2.7" ry="6.5" fill="url(#g7)"/>
<ellipse cx="1389.5" cy="963.2" rx="3.6" ry="6.5" fill="url(#g7)"/>
<ellipse cx="1401.1" cy="963.2" rx="4.7" ry="6.5" fill="url(#g5)"/>
<ellipse cx="1434.3" cy="962.7" rx="2.2" ry="6.5" fill="url(#g7)"/>
<ellipse cx="1448.7" cy="962.8" rx="3.5" ry="6.5" fill="url(#g5)"/>
<ellipse cx="1471.9" cy="963.3" rx="2.0" ry="6.5" fill="url(#g6)"/>
<ellipse cx="1524.6" cy="962.6" rx="5.0" ry="6.5" fill="url(#g5)"/>
<ellipse cx="1586.6" cy="962.8" rx="4.3" ry="6.5" fill="url(#g5)"/>
<ellipse cx="1598.2" cy="961.7" rx="3.8" ry="6.5" fill="url(#g6)"/>
<ellipse cx="1618.7" cy="963.4" rx="4.9" ry="6.5" fill="url(#g4)"/>
<ellipse cx="1659.0" cy="963.4" rx="4.5" ry="6.5" fill="url(#g7)"/>
<ellipse cx="1678.8" cy="962.6" rx="4.7" ry="6.5" fill="url(#g5)"/>
<ellipse cx="1709.8" cy="962.9" rx="3.0" ry="6.5" fill="url(#g6)"/>
<ellipse cx="1726.9" cy="963.3" rx="3.5" ry="6.5" fill="url(#g6)"/>
<ellipse cx="1742.8" cy="962.5" rx="3.3" ry="6.5" fill="url(#g6)"/>
<ellipse cx="672.5" cy="841.5" rx="29.5" ry="8.4" fill="url(#g5)"/>
<ellipse cx="1198.0" cy="841.5" rx="14.5" ry="7.4" fill="url(#g5)"/>
<ellipse cx="1344.5" cy="899.0" rx="10.3" ry="6.3" fill="url(#g5)"/>
<ellipse cx="1010.5" cy="932.8" rx="33.7" ry="6.7" fill="url(#g5)"/>
<ellipse cx="1386.0" cy="934.0" rx="24.1" ry="8.4" fill="url(#g5)"/>
<ellipse cx="405.0" cy="841.5" rx="22.6" ry="8.4" fill="url(#g6)"/>
<ellipse cx="1451.5" cy="913.0" rx="20.2" ry="8.4" fill="url(#g6)"/>
<ellipse cx="1479.5" cy="913.0" rx="21.8" ry="8.4" fill="url(#g6)"/>
<ellipse cx="1535.5" cy="913.0" rx="21.8" ry="8.4" fill="url(#g6)"/>
<ellipse cx="1185.0" cy="961.6" rx="25.1" ry="6.3" fill="url(#g6)"/>
<ellipse cx="1585.0" cy="961.2" rx="32.8" ry="6.3" fill="url(#g6)"/>
<ellipse cx="1169.5" cy="831.5" rx="10.7" ry="7.6" fill="url(#g6)"/>
<ellipse cx="1467.0" cy="832.0" rx="10.8" ry="10.5" fill="url(#g6)"/>
<ellipse cx="1483.5" cy="832.0" rx="9.7" ry="9.5" fill="url(#g6)"/>
<ellipse cx="1502.5" cy="832.0" rx="9.7" ry="9.5" fill="url(#g6)"/>
<ellipse cx="1518.0" cy="832.0" rx="8.8" ry="8.9" fill="url(#g6)"/>
<ellipse cx="1563.0" cy="831.5" rx="13.5" ry="9.2" fill="url(#g6)"/>
<ellipse cx="752.0" cy="828.0" rx="19.2" ry="7.6" fill="url(#g6)"/>
<ellipse cx="276.5" cy="918.0" rx="10.3" ry="11.6" fill="url(#g6)"/>
<ellipse cx="954.5" cy="909.0" rx="15.2" ry="7.1" fill="url(#g6)"/>
<ellipse cx="1034.5" cy="909.0" rx="15.1" ry="6.7" fill="url(#g6)"/>
<ellipse cx="1134.0" cy="911.0" rx="21.6" ry="10.5" fill="url(#g6)"/>
<ellipse cx="1083.0" cy="899.0" rx="12.6" ry="6.3" fill="url(#g6)"/>
<ellipse cx="1150.5" cy="932.8" rx="43.0" ry="6.7" fill="url(#g6)"/>
<ellipse cx="722.0" cy="962.0" rx="11.2" ry="6.7" fill="url(#g6)"/>
<ellipse cx="769.0" cy="961.0" rx="6.7" ry="7.1" fill="url(#g6)"/>
<ellipse cx="1027.0" cy="961.0" rx="6.7" ry="7.1" fill="url(#g6)"/>
<ellipse cx="1106.0" cy="961.6" rx="26.6" ry="6.3" fill="url(#g6)"/>
<ellipse cx="1145.0" cy="961.6" rx="17.3" ry="6.3" fill="url(#g6)"/>
<ellipse cx="1280.0" cy="961.6" rx="17.4" ry="6.7" fill="url(#g6)"/>
<ellipse cx="1394.0" cy="962.0" rx="5.1" ry="7.1" fill="url(#g6)"/>
<ellipse cx="1461.0" cy="962.0" rx="5.0" ry="6.7" fill="url(#g6)"/>
<ellipse cx="1504.0" cy="962.0" rx="5.1" ry="7.1" fill="url(#g6)"/>
<ellipse cx="1534.0" cy="961.0" rx="8.0" ry="6.3" fill="url(#g6)"/>
<ellipse cx="1655.0" cy="961.2" rx="17.3" ry="6.3" fill="url(#g6)"/>
<ellipse cx="1760.0" cy="961.6" rx="17.3" ry="6.3" fill="url(#g6)"/>
<ellipse cx="1334.5" cy="831.5" rx="28.6" ry="10.5" fill="url(#g6)"/>
<ellipse cx="1596.0" cy="832.0" rx="15.4" ry="10.5" fill="url(#g6)"/>
<ellipse cx="697.5" cy="827.0" rx="21.4" ry="7.1" fill="url(#g6)"/>
<ellipse cx="807.0" cy="827.5" rx="19.2" ry="7.6" fill="url(#g6)"/>
<ellipse cx="1718.5" cy="851.0" rx="32.3" ry="7.1" fill="url(#g6)"/>
<ellipse cx="1606.0" cy="899.0" rx="9.7" ry="6.7" fill="url(#g6)"/>
<ellipse cx="1312.5" cy="961.6" rx="21.3" ry="6.7" fill="url(#g6)"/>
<ellipse cx="1381.5" cy="962.0" rx="6.0" ry="7.6" fill="url(#g6)"/>
<ellipse cx="1709.0" cy="962.0" rx="6.6" ry="6.7" fill="url(#g6)"/>
<ellipse cx="1144.0" cy="831.5" rx="16.5" ry="8.8" fill="url(#g7)"/>
<ellipse cx="1455.5" cy="851.0" rx="30.7" ry="7.1" fill="url(#g7)"/>
<ellipse cx="619.0" cy="960.5" rx="5.1" ry="7.1" fill="url(#g7)"/>
<ellipse cx="796.0" cy="962.0" rx="8.2" ry="7.1" fill="url(#g7)"/>
<ellipse cx="228.0" cy="915.0" rx="15.1" ry="9.5" fill="url(#g7)"/>
<ellipse cx="497.5" cy="911.5" rx="39.2" ry="9.7" fill="url(#g7)"/>
<ellipse cx="1677.5" cy="909.0" rx="37.2" ry="8.0" fill="url(#g7)"/>
<ellipse cx="1720.0" cy="909.0" rx="33.3" ry="8.0" fill="url(#g7)"/>
<ellipse cx="1758.5" cy="909.0" rx="31.0" ry="8.0" fill="url(#g7)"/>
<ellipse cx="549.0" cy="899.0" rx="19.0" ry="6.7" fill="url(#g7)"/>
<ellipse cx="1595.0" cy="924.0" rx="14.4" ry="7.1" fill="url(#g7)"/>
<ellipse cx="1009.0" cy="831.3" rx="53.7" ry="8.8" fill="url(#g8)"/>
<ellipse cx="818.0" cy="899.0" rx="12.8" ry="6.7" fill="url(#g8)"/>
<ellipse cx="1086.5" cy="831.3" rx="29.6" ry="8.8" fill="url(#g8)"/>
<ellipse cx="1448.5" cy="832.0" rx="16.9" ry="13.1" fill="url(#g8)"/>
<ellipse cx="1540.5" cy="832.0" rx="24.4" ry="12.1" fill="url(#g8)"/>
<ellipse cx="1194.5" cy="851.0" rx="35.5" ry="7.6" fill="url(#g8)"/>
<ellipse cx="1083.5" cy="909.0" rx="35.5" ry="7.6" fill="url(#g8)"/>
<ellipse cx="606.5" cy="961.0" rx="6.0" ry="7.6" fill="url(#g8)"/>
<ellipse cx="699.0" cy="962.0" rx="7.1" ry="8.4" fill="url(#g9)"/>
<ellipse cx="361.5" cy="914.2" rx="18.3" ry="7.1" fill="url(#g9)"/>
<ellipse cx="411.0" cy="911.0" rx="32.5" ry="10.5" fill="url(#g9)"/>
<ellipse cx="1293.5" cy="961.6" rx="12.1" ry="7.1" fill="url(#g9)"/>
<ellipse cx="1690.0" cy="961.6" rx="8.2" ry="7.1" fill="url(#g9)"/>
<ellipse cx="447.5" cy="911.5" rx="37.9" ry="10.5" fill="url(#g10)"/>
<ellipse cx="1546.0" cy="835.5" rx="11.9" ry="8.9" fill="url(#g10)"/>
<ellipse cx="297.0" cy="909.0" rx="12.9" ry="7.4" fill="url(#g10)"/>
<ellipse cx="340.0" cy="911.0" rx="13.5" ry="9.5" fill="url(#g10)"/>
<ellipse cx="1694.0" cy="909.0" rx="11.3" ry="7.1" fill="url(#g11)"/>
<ellipse cx="1548.0" cy="962.0" rx="4.4" ry="7.1" fill="url(#g11)"/>
<ellipse cx="1165.5" cy="909.0" rx="23.1" ry="7.6" fill="url(#g12)"/>
<ellipse cx="1086.0" cy="924.0" rx="33.3" ry="8.0" fill="url(#g12)"/>
<ellipse cx="1304.0" cy="831.3" rx="12.8" ry="12.1" fill="url(#g12)"/>
<ellipse cx="1577.0" cy="835.0" rx="13.7" ry="10.0" fill="url(#g12)"/>
<ellipse cx="1639.0" cy="831.3" rx="54.4" ry="11.6" fill="url(#g12)"/>
<ellipse cx="1228.0" cy="831.3" rx="25.0" ry="11.6" fill="url(#g12)"/>
<ellipse cx="109.0" cy="909.0" rx="13.0" ry="7.6" fill="url(#g12)"/>
<ellipse cx="1345.5" cy="924.0" rx="34.1" ry="8.0" fill="url(#g12)"/>
<ellipse cx="314.0" cy="914.2" rx="11.3" ry="7.1" fill="url(#g13)"/>
<ellipse cx="1110.0" cy="914.0" rx="4.7" ry="8.4" fill="url(#g13)"/>
<ellipse cx="560.5" cy="924.0" rx="34.1" ry="8.0" fill="url(#g13)"/>
<ellipse cx="1670.0" cy="831.3" rx="49.8" ry="11.6" fill="url(#g14)"/>
<ellipse cx="403.5" cy="851.0" rx="29.3" ry="7.6" fill="url(#g14)"/>
<ellipse cx="228.5" cy="909.0" rx="21.8" ry="8.4" fill="url(#g14)"/>
<ellipse cx="276.5" cy="909.0" rx="13.9" ry="8.0" fill="url(#g14)"/>
<ellipse cx="825.0" cy="924.0" rx="31.7" ry="8.0" fill="url(#g14)"/>
<ellipse cx="1280.5" cy="831.3" rx="18.0" ry="11.6" fill="url(#g14)"/>
<ellipse cx="667.0" cy="851.0" rx="37.9" ry="8.0" fill="url(#g14)"/>
<ellipse cx="931.5" cy="851.0" rx="37.2" ry="8.0" fill="url(#g14)"/>
<ellipse cx="1103.5" cy="962.0" rx="5.3" ry="7.6" fill="url(#g14)"/>
<ellipse cx="1707.0" cy="826.0" rx="11.1" ry="11.8" fill="url(#g16)"/>
<ellipse cx="1257.0" cy="831.3" rx="18.8" ry="11.6" fill="url(#g17)"/>
<ellipse cx="1749.5" cy="831.5" rx="13.1" ry="10.5" fill="url(#g17)"/>
<ellipse cx="1723.0" cy="831.5" rx="17.1" ry="11.0" fill="url(#g17)"/>
<ellipse cx="1737.5" cy="831.5" rx="14.6" ry="10.5" fill="url(#g17)"/>
<ellipse cx="1760.0" cy="831.5" rx="12.2" ry="10.2" fill="url(#g17)"/>
<ellipse cx="1770.5" cy="831.5" rx="13.0" ry="10.2" fill="url(#g17)"/>
<ellipse cx="1196.0" cy="831.3" rx="22.1" ry="12.1" fill="url(#g19)"/>
<ellipse cx="1706.5" cy="830.8" rx="18.5" ry="13.1" fill="url(#g19)"/>
<ellipse cx="162.0" cy="946.5" rx="24.0" ry="11.0" fill="url(#g7)"/>
<ellipse cx="148.0" cy="948.2" rx="12.0" ry="6" fill="url(#h11)"/>
<ellipse cx="155.5" cy="949.0" rx="14.0" ry="6.5" fill="url(#h20)"/>
<ellipse cx="182.0" cy="957.5" rx="10.0" ry="6" fill="url(#h10)"/>
<ellipse cx="168.5" cy="953.0" rx="16.5" ry="7.2" fill="url(#c30)"/>
<ellipse cx="429.2" cy="946.5" rx="22.8" ry="11.0" fill="url(#g7)"/>
<ellipse cx="415.9" cy="948.2" rx="11.4" ry="6" fill="url(#h11)"/>
<ellipse cx="423.1" cy="949.0" rx="13.3" ry="6.5" fill="url(#h20)"/>
<ellipse cx="448.2" cy="957.5" rx="9.5" ry="6" fill="url(#h10)"/>
<ellipse cx="435.4" cy="953.0" rx="15.7" ry="7.2" fill="url(#c30)"/>
<ellipse cx="692.2" cy="946.5" rx="22.8" ry="11.0" fill="url(#g7)"/>
<ellipse cx="679.0" cy="948.2" rx="11.4" ry="6" fill="url(#h11)"/>
<ellipse cx="686.1" cy="949.0" rx="13.3" ry="6.5" fill="url(#h20)"/>
<ellipse cx="711.2" cy="957.5" rx="9.5" ry="6" fill="url(#h10)"/>
<ellipse cx="698.4" cy="953.0" rx="15.7" ry="7.2" fill="url(#c28)"/>
<ellipse cx="955.8" cy="947.1" rx="22.8" ry="11.0" fill="url(#g7)"/>
<ellipse cx="942.5" cy="948.8" rx="11.4" ry="6" fill="url(#h11)"/>
<ellipse cx="949.6" cy="949.6" rx="13.3" ry="6.5" fill="url(#h20)"/>
<ellipse cx="974.8" cy="958.1" rx="9.5" ry="6" fill="url(#h10)"/>
<ellipse cx="961.9" cy="953.6" rx="15.7" ry="7.2" fill="url(#c30)"/>
<ellipse cx="1216.0" cy="947.1" rx="24.0" ry="11.0" fill="url(#g7)"/>
<ellipse cx="1202.0" cy="948.8" rx="12.0" ry="6" fill="url(#h11)"/>
<ellipse cx="1209.5" cy="949.6" rx="14.0" ry="6.5" fill="url(#h20)"/>
<ellipse cx="1236.0" cy="958.1" rx="10.0" ry="6" fill="url(#h10)"/>
<ellipse cx="1222.5" cy="953.6" rx="16.5" ry="7.2" fill="url(#c30)"/>
<ellipse cx="1479.8" cy="946.7" rx="20.4" ry="11.0" fill="url(#g7)"/>
<ellipse cx="1467.8" cy="948.4" rx="10.2" ry="6" fill="url(#h11)"/>
<ellipse cx="1474.2" cy="949.2" rx="11.9" ry="6.5" fill="url(#h20)"/>
<ellipse cx="1496.8" cy="957.7" rx="8.5" ry="6" fill="url(#h10)"/>
<ellipse cx="1485.3" cy="953.2" rx="14.0" ry="7.2" fill="url(#c27)"/>
<ellipse cx="1742.8" cy="946.7" rx="20.4" ry="11.0" fill="url(#g7)"/>
<ellipse cx="1730.8" cy="948.4" rx="10.2" ry="6" fill="url(#h11)"/>
<ellipse cx="1737.2" cy="949.2" rx="11.9" ry="6.5" fill="url(#h14)"/>
<ellipse cx="1759.8" cy="957.7" rx="8.5" ry="6" fill="url(#h14)"/>
<ellipse cx="1748.3" cy="953.2" rx="14.0" ry="7.2" fill="url(#c20)"/>
<ellipse cx="119.9" cy="776.5" rx="5.7" ry="15" fill="url(#g7)"/>
<ellipse cx="130.8" cy="776.5" rx="4.9" ry="15" fill="url(#g7)"/>
<ellipse cx="146.8" cy="776.5" rx="5.7" ry="15" fill="url(#g7)"/>
<ellipse cx="168.3" cy="776.5" rx="4.9" ry="15" fill="url(#g6)"/>
<ellipse cx="180.4" cy="776.5" rx="4.2" ry="15" fill="url(#g6)"/>
<ellipse cx="208.1" cy="776.5" rx="6.1" ry="15" fill="url(#g8)"/>
<ellipse cx="213.5" cy="776.5" rx="5.7" ry="15" fill="url(#g7)"/>
<ellipse cx="236.0" cy="776.5" rx="5.7" ry="15" fill="url(#g7)"/>
<ellipse cx="246.0" cy="776.5" rx="3.8" ry="15" fill="url(#g7)"/>
<ellipse cx="270.3" cy="776.5" rx="5.3" ry="15" fill="url(#g7)"/>
<ellipse cx="286.3" cy="776.5" rx="5.3" ry="15" fill="url(#g7)"/>
<ellipse cx="292.2" cy="776.5" rx="4.9" ry="15" fill="url(#g7)"/>
<ellipse cx="325.7" cy="776.5" rx="3.8" ry="15" fill="url(#g7)"/>
<ellipse cx="339.0" cy="776.5" rx="4.9" ry="15" fill="url(#g6)"/>
<ellipse cx="369.4" cy="776.5" rx="5.7" ry="15" fill="url(#g7)"/>
<ellipse cx="375.3" cy="776.5" rx="6.1" ry="15" fill="url(#g8)"/>
<ellipse cx="408.6" cy="776.5" rx="5.7" ry="15" fill="url(#g7)"/>
<ellipse cx="422.5" cy="776.5" rx="5.7" ry="15" fill="url(#g7)"/>
<ellipse cx="448.8" cy="776.5" rx="5.3" ry="15" fill="url(#g7)"/>
<ellipse cx="469.3" cy="776.5" rx="5.3" ry="15" fill="url(#g7)"/>
<ellipse cx="475.9" cy="776.5" rx="3.8" ry="15" fill="url(#g7)"/>
<ellipse cx="508.3" cy="776.5" rx="4.9" ry="15" fill="url(#g7)"/>
<ellipse cx="512.8" cy="776.5" rx="4.9" ry="15" fill="url(#g7)"/>
<ellipse cx="540.5" cy="776.5" rx="5.7" ry="15" fill="url(#g7)"/>
<ellipse cx="566.2" cy="776.5" rx="6.1" ry="15" fill="url(#g8)"/>
<ellipse cx="585.7" cy="776.5" rx="6.5" ry="15" fill="url(#g8)"/>
<ellipse cx="613.8" cy="776.5" rx="5.7" ry="15" fill="url(#g7)"/>
<ellipse cx="627.7" cy="776.5" rx="5.3" ry="15" fill="url(#g7)"/>
<ellipse cx="651.3" cy="776.5" rx="5.3" ry="15" fill="url(#g6)"/>
<ellipse cx="666.1" cy="776.5" rx="5.3" ry="15" fill="url(#g7)"/>
<ellipse cx="706.7" cy="776.5" rx="5.7" ry="15" fill="url(#g7)"/>
<ellipse cx="736.9" cy="776.5" rx="5.3" ry="15" fill="url(#g6)"/>
<ellipse cx="743.0" cy="776.5" rx="5.3" ry="15" fill="url(#g7)"/>
<ellipse cx="789.8" cy="776.5" rx="5.3" ry="15" fill="url(#g7)"/>
<ellipse cx="809.7" cy="776.5" rx="5.3" ry="15" fill="url(#g6)"/>
<ellipse cx="827.8" cy="776.5" rx="3.4" ry="15" fill="url(#g7)"/>
<ellipse cx="841.1" cy="776.5" rx="3.8" ry="15" fill="url(#g6)"/>
<ellipse cx="868.2" cy="776.5" rx="5.3" ry="15" fill="url(#g6)"/>
<ellipse cx="878.4" cy="776.5" rx="3.8" ry="15" fill="url(#g6)"/>
<ellipse cx="904.1" cy="776.5" rx="5.7" ry="15" fill="url(#g7)"/>
<ellipse cx="919.0" cy="776.5" rx="4.9" ry="15" fill="url(#g6)"/>
<ellipse cx="938.5" cy="776.5" rx="4.9" ry="15" fill="url(#g6)"/>
<ellipse cx="964.6" cy="776.5" rx="5.3" ry="15" fill="url(#g7)"/>
<ellipse cx="978.6" cy="776.5" rx="5.3" ry="15" fill="url(#g7)"/>
<ellipse cx="1003.0" cy="776.5" rx="5.3" ry="15" fill="url(#g6)"/>
<ellipse cx="1016.9" cy="776.5" rx="5.3" ry="15" fill="url(#g7)"/>
<ellipse cx="1036.4" cy="776.5" rx="3.8" ry="15" fill="url(#g7)"/>
<ellipse cx="1055.9" cy="776.5" rx="5.7" ry="15" fill="url(#g7)"/>
<ellipse cx="1068.5" cy="776.5" rx="3.8" ry="15" fill="url(#g7)"/>
<ellipse cx="1072.5" cy="776.5" rx="3.8" ry="15" fill="url(#g7)"/>
<ellipse cx="1101.0" cy="776.5" rx="5.3" ry="15" fill="url(#g7)"/>
<ellipse cx="1106.2" cy="776.5" rx="5.7" ry="15" fill="url(#g8)"/>
<ellipse cx="1132.9" cy="776.5" rx="5.3" ry="15" fill="url(#g7)"/>
<ellipse cx="1139.0" cy="776.5" rx="5.3" ry="15" fill="url(#g7)"/>
<ellipse cx="1168.1" cy="776.5" rx="5.7" ry="15" fill="url(#g7)"/>
<ellipse cx="1172.5" cy="776.5" rx="3.4" ry="15" fill="url(#g7)"/>
<ellipse cx="1175.5" cy="776.5" rx="3.4" ry="15" fill="url(#g7)"/>
<ellipse cx="1196.0" cy="776.5" rx="3.8" ry="15" fill="url(#g6)"/>
<ellipse cx="1212.9" cy="776.5" rx="3.4" ry="15" fill="url(#g6)"/>
<ellipse cx="1250.2" cy="776.5" rx="5.7" ry="15" fill="url(#g7)"/>
<ellipse cx="1257.0" cy="776.5" rx="5.3" ry="15" fill="url(#g7)"/>
<ellipse cx="1284.0" cy="776.5" rx="3.8" ry="15" fill="url(#g7)"/>
<ellipse cx="1294.9" cy="776.5" rx="5.7" ry="15" fill="url(#g7)"/>
<ellipse cx="1333.5" cy="776.5" rx="3.4" ry="15" fill="url(#g6)"/>
<ellipse cx="1362.0" cy="776.5" rx="4.9" ry="15" fill="url(#g7)"/>
<ellipse cx="1367.2" cy="776.5" rx="5.3" ry="15" fill="url(#g7)"/>
<ellipse cx="1395.3" cy="776.5" rx="6.1" ry="15" fill="url(#g7)"/>
<ellipse cx="1450.3" cy="776.5" rx="4.2" ry="15" fill="url(#g6)"/>
<ellipse cx="1455.0" cy="776.5" rx="5.3" ry="15" fill="url(#g7)"/>
<ellipse cx="1478.0" cy="776.5" rx="5.3" ry="15" fill="url(#g7)"/>
<ellipse cx="1510.8" cy="776.5" rx="4.9" ry="15" fill="url(#g6)"/>
<ellipse cx="1532.3" cy="776.5" rx="5.3" ry="15" fill="url(#g6)"/>
<ellipse cx="1543.2" cy="776.5" rx="5.7" ry="15" fill="url(#g7)"/>
<ellipse cx="1561.0" cy="776.5" rx="4.9" ry="15" fill="url(#g6)"/>
<ellipse cx="1621.6" cy="776.5" rx="3.4" ry="15" fill="url(#g7)"/>
<ellipse cx="1626.7" cy="776.5" rx="5.3" ry="15" fill="url(#g7)"/>
<ellipse cx="1655.4" cy="776.5" rx="5.3" ry="15" fill="url(#g6)"/>
<ellipse cx="1661.6" cy="776.5" rx="3.4" ry="15" fill="url(#g7)"/>
<ellipse cx="1746.7" cy="776.5" rx="3.0" ry="15" fill="url(#g6)"/>
<ellipse cx="1767.9" cy="776.5" rx="3.0" ry="15" fill="url(#g6)"/>
<ellipse cx="108.6" cy="775.5" rx="6.9" ry="8.0" fill="url(#g5)"/>
<ellipse cx="119.9" cy="778.2" rx="6.9" ry="9.0" fill="url(#g16)"/>
<ellipse cx="130.8" cy="778.2" rx="6.0" ry="9.0" fill="url(#g16)"/>
<ellipse cx="146.8" cy="778.2" rx="6.9" ry="9.0" fill="url(#g19)"/>
<ellipse cx="168.3" cy="778.2" rx="6.0" ry="9.0" fill="url(#g13)"/>
<ellipse cx="180.4" cy="778.2" rx="5.1" ry="9.0" fill="url(#g9)"/>
<ellipse cx="208.1" cy="778.2" rx="7.4" ry="9.0" fill="url(#g26)"/>
<ellipse cx="213.5" cy="778.2" rx="6.9" ry="9.0" fill="url(#g22)"/>
<ellipse cx="236.0" cy="778.2" rx="6.9" ry="9.0" fill="url(#g20)"/>
<ellipse cx="246.0" cy="778.2" rx="4.6" ry="9.0" fill="url(#g15)"/>
<ellipse cx="270.3" cy="778.2" rx="6.4" ry="9.0" fill="url(#g17)"/>
<ellipse cx="286.3" cy="778.2" rx="6.4" ry="9.0" fill="url(#g16)"/>
<ellipse cx="292.2" cy="778.2" rx="6.0" ry="9.0" fill="url(#g16)"/>
<ellipse cx="325.7" cy="778.2" rx="4.6" ry="9.0" fill="url(#g20)"/>
<ellipse cx="339.0" cy="778.2" rx="6.0" ry="9.0" fill="url(#g11)"/>
<ellipse cx="369.4" cy="778.2" rx="6.9" ry="9.0" fill="url(#g21)"/>
<ellipse cx="375.3" cy="778.2" rx="7.4" ry="9.0" fill="url(#g26)"/>
<ellipse cx="408.6" cy="778.2" rx="6.9" ry="9.0" fill="url(#g20)"/>
<ellipse cx="422.5" cy="778.2" rx="6.9" ry="9.0" fill="url(#g21)"/>
<ellipse cx="448.8" cy="778.2" rx="6.4" ry="9.0" fill="url(#g17)"/>
<ellipse cx="469.3" cy="778.2" rx="6.4" ry="9.0" fill="url(#g20)"/>
<ellipse cx="475.9" cy="778.2" rx="4.6" ry="9.0" fill="url(#g20)"/>
<ellipse cx="508.3" cy="778.2" rx="6.0" ry="9.0" fill="url(#g17)"/>
<ellipse cx="512.8" cy="778.2" rx="6.0" ry="9.0" fill="url(#g16)"/>
<ellipse cx="526.0" cy="775.5" rx="5.5" ry="8.0" fill="url(#g7)"/>
<ellipse cx="540.5" cy="778.2" rx="6.9" ry="9.0" fill="url(#g18)"/>
<ellipse cx="545.0" cy="775.5" rx="4.6" ry="8.0" fill="url(#g7)"/>
<ellipse cx="566.2" cy="778.2" rx="7.4" ry="9.0" fill="url(#g26)"/>
<ellipse cx="573.0" cy="775.5" rx="4.6" ry="8.0" fill="url(#g6)"/>
<ellipse cx="585.7" cy="778.2" rx="7.8" ry="9.0" fill="url(#g27)"/>
<ellipse cx="613.8" cy="778.2" rx="6.9" ry="9.0" fill="url(#g19)"/>
<ellipse cx="627.7" cy="778.2" rx="6.4" ry="9.0" fill="url(#g21)"/>
<ellipse cx="645.0" cy="775.5" rx="4.6" ry="8.0" fill="url(#g6)"/>
<ellipse cx="651.3" cy="778.2" rx="6.4" ry="9.0" fill="url(#g14)"/>
<ellipse cx="666.1" cy="778.2" rx="6.4" ry="9.0" fill="url(#g19)"/>
<ellipse cx="693.0" cy="775.5" rx="6.0" ry="8.0" fill="url(#g8)"/>
<ellipse cx="706.7" cy="778.2" rx="6.9" ry="9.0" fill="url(#g17)"/>
<ellipse cx="724.0" cy="775.5" rx="4.6" ry="8.0" fill="url(#g6)"/>
<ellipse cx="736.9" cy="778.2" rx="6.4" ry="9.0" fill="url(#g13)"/>
<ellipse cx="743.0" cy="778.2" rx="6.4" ry="9.0" fill="url(#g19)"/>
<ellipse cx="771.3" cy="775.5" rx="6.9" ry="8.0" fill="url(#g7)"/>
<ellipse cx="789.8" cy="778.2" rx="6.4" ry="9.0" fill="url(#g19)"/>
<ellipse cx="809.7" cy="778.2" rx="6.4" ry="9.0" fill="url(#g14)"/>
<ellipse cx="827.8" cy="778.2" rx="4.1" ry="9.0" fill="url(#g16)"/>
<ellipse cx="841.1" cy="778.2" rx="4.6" ry="9.0" fill="url(#g14)"/>
<ellipse cx="868.2" cy="778.2" rx="6.4" ry="9.0" fill="url(#g13)"/>
<ellipse cx="878.4" cy="778.2" rx="4.6" ry="9.0" fill="url(#g14)"/>
<ellipse cx="904.1" cy="778.2" rx="6.9" ry="9.0" fill="url(#g19)"/>
<ellipse cx="919.0" cy="778.2" rx="6.0" ry="9.0" fill="url(#g11)"/>
<ellipse cx="938.5" cy="778.2" rx="6.0" ry="9.0" fill="url(#g11)"/>
<ellipse cx="964.6" cy="778.2" rx="6.4" ry="9.0" fill="url(#g16)"/>
<ellipse cx="978.6" cy="778.2" rx="6.4" ry="9.0" fill="url(#g18)"/>
<ellipse cx="1003.0" cy="778.2" rx="6.4" ry="9.0" fill="url(#g14)"/>
<ellipse cx="1016.9" cy="778.2" rx="6.4" ry="9.0" fill="url(#g16)"/>
<ellipse cx="1036.4" cy="778.2" rx="4.6" ry="9.0" fill="url(#g21)"/>
<ellipse cx="1055.9" cy="778.2" rx="6.9" ry="9.0" fill="url(#g19)"/>
<ellipse cx="1068.5" cy="778.2" rx="4.6" ry="9.0" fill="url(#g16)"/>
<ellipse cx="1072.5" cy="778.2" rx="4.6" ry="9.0" fill="url(#g16)"/>
<ellipse cx="1101.0" cy="778.2" rx="6.4" ry="9.0" fill="url(#g21)"/>
<ellipse cx="1106.2" cy="778.2" rx="6.9" ry="9.0" fill="url(#g25)"/>
<ellipse cx="1132.9" cy="778.2" rx="6.4" ry="9.0" fill="url(#g16)"/>
<ellipse cx="1139.0" cy="778.2" rx="6.4" ry="9.0" fill="url(#g18)"/>
<ellipse cx="1168.1" cy="778.2" rx="6.9" ry="9.0" fill="url(#g19)"/>
<ellipse cx="1172.5" cy="778.2" rx="4.1" ry="9.0" fill="url(#g16)"/>
<ellipse cx="1175.5" cy="778.2" rx="4.1" ry="9.0" fill="url(#g16)"/>
<ellipse cx="1196.0" cy="778.2" rx="4.6" ry="9.0" fill="url(#g13)"/>
<ellipse cx="1212.9" cy="778.2" rx="4.1" ry="9.0" fill="url(#g11)"/>
<ellipse cx="1217.4" cy="775.5" rx="6.0" ry="8.0" fill="url(#g7)"/>
<ellipse cx="1250.2" cy="778.2" rx="6.9" ry="9.0" fill="url(#g19)"/>
<ellipse cx="1257.0" cy="778.2" rx="6.4" ry="9.0" fill="url(#g18)"/>
<ellipse cx="1284.0" cy="778.2" rx="4.6" ry="9.0" fill="url(#g21)"/>
<ellipse cx="1294.9" cy="778.2" rx="6.9" ry="9.0" fill="url(#g19)"/>
<ellipse cx="1326.7" cy="775.5" rx="6.9" ry="8.0" fill="url(#g6)"/>
<ellipse cx="1333.5" cy="778.2" rx="4.1" ry="9.0" fill="url(#g13)"/>
<ellipse cx="1362.0" cy="778.2" rx="6.0" ry="9.0" fill="url(#g16)"/>
<ellipse cx="1367.2" cy="778.2" rx="6.4" ry="9.0" fill="url(#g18)"/>
<ellipse cx="1395.3" cy="778.2" rx="7.4" ry="9.0" fill="url(#g21)"/>
<ellipse cx="1411.3" cy="775.5" rx="6.4" ry="8.0" fill="url(#g6)"/>
<ellipse cx="1421.0" cy="775.5" rx="4.1" ry="8.0" fill="url(#g6)"/>
<ellipse cx="1450.3" cy="778.2" rx="5.1" ry="9.0" fill="url(#g11)"/>
<ellipse cx="1455.0" cy="778.2" rx="6.4" ry="9.0" fill="url(#g18)"/>
<ellipse cx="1478.0" cy="778.2" rx="6.4" ry="9.0" fill="url(#g16)"/>
<ellipse cx="1494.4" cy="775.5" rx="4.6" ry="8.0" fill="url(#g6)"/>
<ellipse cx="1510.8" cy="778.2" rx="6.0" ry="9.0" fill="url(#g13)"/>
<ellipse cx="1532.3" cy="778.2" rx="6.4" ry="9.0" fill="url(#g10)"/>
<ellipse cx="1543.2" cy="778.2" rx="6.9" ry="9.0" fill="url(#g16)"/>
<ellipse cx="1561.0" cy="778.2" rx="6.0" ry="9.0" fill="url(#g13)"/>
<ellipse cx="1584.7" cy="775.5" rx="6.4" ry="8.0" fill="url(#g6)"/>
<ellipse cx="1595.0" cy="775.5" rx="6.0" ry="8.0" fill="url(#g6)"/>
<ellipse cx="1621.6" cy="778.2" rx="4.1" ry="9.0" fill="url(#g16)"/>
<ellipse cx="1626.7" cy="778.2" rx="6.4" ry="9.0" fill="url(#g18)"/>
<ellipse cx="1655.4" cy="778.2" rx="6.4" ry="9.0" fill="url(#g14)"/>
<ellipse cx="1661.6" cy="778.2" rx="4.1" ry="9.0" fill="url(#g16)"/>
<ellipse cx="1677.4" cy="775.5" rx="6.4" ry="8.0" fill="url(#g6)"/>
<ellipse cx="1693.4" cy="775.5" rx="4.1" ry="8.0" fill="url(#g6)"/>
<ellipse cx="1711.2" cy="775.5" rx="4.6" ry="8.0" fill="url(#g5)"/>
<ellipse cx="1731.8" cy="775.5" rx="6.0" ry="8.0" fill="url(#g6)"/>
<ellipse cx="1746.7" cy="778.2" rx="3.7" ry="9.0" fill="url(#g11)"/>
<ellipse cx="1767.9" cy="778.2" rx="3.7" ry="9.0" fill="url(#g9)"/>
</g>
<g opacity="0.999">
<rect x="102.50" y="51.30" width="1674.30" height="924.20" fill="none" stroke="#000" stroke-width="1.33"/>
<line x1="102.50" y1="975.50" x2="102.50" y2="981.33" stroke="#000" stroke-width="1.33"/>
<text transform="translate(59.27 1009.80) scale(1.074 1)" font-size="31.95">0</text>
<text transform="translate(78.36 1009.80) scale(1.074 1)" font-size="31.95">9</text>
<text transform="translate(97.45 1009.80) scale(1.139 1)" font-size="31.95">:</text>
<text transform="translate(107.55 1009.80) scale(1.074 1)" font-size="31.95">3</text>
<text transform="translate(126.64 1009.80) scale(1.074 1)" font-size="31.95">0</text>
<line x1="214.06" y1="975.50" x2="214.06" y2="981.33" stroke="#000" stroke-width="1.33"/>
<text transform="translate(170.83 1009.80) scale(1.074 1)" font-size="31.95">0</text>
<text transform="translate(189.92 1009.80) scale(1.074 1)" font-size="31.95">9</text>
<text transform="translate(209.01 1009.80) scale(1.139 1)" font-size="31.95">:</text>
<text transform="translate(219.11 1009.80) scale(1.074 1)" font-size="31.95">3</text>
<text transform="translate(238.20 1009.80) scale(1.074 1)" font-size="31.95">1</text>
<line x1="325.62" y1="975.50" x2="325.62" y2="981.33" stroke="#000" stroke-width="1.33"/>
<text transform="translate(282.39 1009.80) scale(1.074 1)" font-size="31.95">0</text>
<text transform="translate(301.48 1009.80) scale(1.074 1)" font-size="31.95">9</text>
<text transform="translate(320.57 1009.80) scale(1.139 1)" font-size="31.95">:</text>
<text transform="translate(330.67 1009.80) scale(1.074 1)" font-size="31.95">3</text>
<text transform="translate(349.76 1009.80) scale(1.074 1)" font-size="31.95">2</text>
<line x1="437.18" y1="975.50" x2="437.18" y2="981.33" stroke="#000" stroke-width="1.33"/>
<text transform="translate(393.95 1009.80) scale(1.074 1)" font-size="31.95">0</text>
<text transform="translate(413.04 1009.80) scale(1.074 1)" font-size="31.95">9</text>
<text transform="translate(432.13 1009.80) scale(1.139 1)" font-size="31.95">:</text>
<text transform="translate(442.23 1009.80) scale(1.074 1)" font-size="31.95">3</text>
<text transform="translate(461.32 1009.80) scale(1.074 1)" font-size="31.95">3</text>
<line x1="548.74" y1="975.50" x2="548.74" y2="981.33" stroke="#000" stroke-width="1.33"/>
<text transform="translate(505.51 1009.80) scale(1.074 1)" font-size="31.95">0</text>
<text transform="translate(524.60 1009.80) scale(1.074 1)" font-size="31.95">9</text>
<text transform="translate(543.69 1009.80) scale(1.139 1)" font-size="31.95">:</text>
<text transform="translate(553.79 1009.80) scale(1.074 1)" font-size="31.95">3</text>
<text transform="translate(572.88 1009.80) scale(1.074 1)" font-size="31.95">4</text>
<line x1="660.30" y1="975.50" x2="660.30" y2="981.33" stroke="#000" stroke-width="1.33"/>
<text transform="translate(617.07 1009.80) scale(1.074 1)" font-size="31.95">0</text>
<text transform="translate(636.16 1009.80) scale(1.074 1)" font-size="31.95">9</text>
<text transform="translate(655.25 1009.80) scale(1.139 1)" font-size="31.95">:</text>
<text transform="translate(665.35 1009.80) scale(1.074 1)" font-size="31.95">3</text>
<text transform="translate(684.44 1009.80) scale(1.074 1)" font-size="31.95">5</text>
<line x1="771.86" y1="975.50" x2="771.86" y2="981.33" stroke="#000" stroke-width="1.33"/>
<text transform="translate(728.63 1009.80) scale(1.074 1)" font-size="31.95">0</text>
<text transform="translate(747.72 1009.80) scale(1.074 1)" font-size="31.95">9</text>
<text transform="translate(766.81 1009.80) scale(1.139 1)" font-size="31.95">:</text>
<text transform="translate(776.91 1009.80) scale(1.074 1)" font-size="31.95">3</text>
<text transform="translate(796.00 1009.80) scale(1.074 1)" font-size="31.95">6</text>
<line x1="883.42" y1="975.50" x2="883.42" y2="981.33" stroke="#000" stroke-width="1.33"/>
<text transform="translate(840.19 1009.80) scale(1.074 1)" font-size="31.95">0</text>
<text transform="translate(859.28 1009.80) scale(1.074 1)" font-size="31.95">9</text>
<text transform="translate(878.37 1009.80) scale(1.139 1)" font-size="31.95">:</text>
<text transform="translate(888.47 1009.80) scale(1.074 1)" font-size="31.95">3</text>
<text transform="translate(907.56 1009.80) scale(1.074 1)" font-size="31.95">7</text>
<line x1="994.98" y1="975.50" x2="994.98" y2="981.33" stroke="#000" stroke-width="1.33"/>
<text transform="translate(951.75 1009.80) scale(1.074 1)" font-size="31.95">0</text>
<text transform="translate(970.84 1009.80) scale(1.074 1)" font-size="31.95">9</text>
<text transform="translate(989.93 1009.80) scale(1.139 1)" font-size="31.95">:</text>
<text transform="translate(1000.03 1009.80) scale(1.074 1)" font-size="31.95">3</text>
<text transform="translate(1019.12 1009.80) scale(1.074 1)" font-size="31.95">8</text>
<line x1="1106.54" y1="975.50" x2="1106.54" y2="981.33" stroke="#000" stroke-width="1.33"/>
<text transform="translate(1063.31 1009.80) scale(1.074 1)" font-size="31.95">0</text>
<text transform="translate(1082.40 1009.80) scale(1.074 1)" font-size="31.95">9</text>
<text transform="translate(1101.49 1009.80) scale(1.139 1)" font-size="31.95">:</text>
<text transform="translate(1111.59 1009.80) scale(1.074 1)" font-size="31.95">3</text>
<text transform="translate(1130.68 1009.80) scale(1.074 1)" font-size="31.95">9</text>
<line x1="1218.10" y1="975.50" x2="1218.10" y2="981.33" stroke="#000" stroke-width="1.33"/>
<text transform="translate(1174.87 1009.80) scale(1.074 1)" font-size="31.95">0</text>
<text transform="translate(1193.96 1009.80) scale(1.074 1)" font-size="31.95">9</text>
<text transform="translate(1213.05 1009.80) scale(1.139 1)" font-size="31.95">:</text>
<text transform="translate(1223.15 1009.80) scale(1.074 1)" font-size="31.95">4</text>
<text transform="translate(1242.24 1009.80) scale(1.074 1)" font-size="31.95">0</text>
<line x1="1329.66" y1="975.50" x2="1329.66" y2="981.33" stroke="#000" stroke-width="1.33"/>
<text transform="translate(1286.43 1009.80) scale(1.074 1)" font-size="31.95">0</text>
<text transform="translate(1305.52 1009.80) scale(1.074 1)" font-size="31.95">9</text>
<text transform="translate(1324.61 1009.80) scale(1.139 1)" font-size="31.95">:</text>
<text transform="translate(1334.71 1009.80) scale(1.074 1)" font-size="31.95">4</text>
<text transform="translate(1353.80 1009.80) scale(1.074 1)" font-size="31.95">1</text>
<line x1="1441.22" y1="975.50" x2="1441.22" y2="981.33" stroke="#000" stroke-width="1.33"/>
<text transform="translate(1397.99 1009.80) scale(1.074 1)" font-size="31.95">0</text>
<text transform="translate(1417.08 1009.80) scale(1.074 1)" font-size="31.95">9</text>
<text transform="translate(1436.17 1009.80) scale(1.139 1)" font-size="31.95">:</text>
<text transform="translate(1446.27 1009.80) scale(1.074 1)" font-size="31.95">4</text>
<text transform="translate(1465.36 1009.80) scale(1.074 1)" font-size="31.95">2</text>
<line x1="1552.78" y1="975.50" x2="1552.78" y2="981.33" stroke="#000" stroke-width="1.33"/>
<text transform="translate(1509.55 1009.80) scale(1.074 1)" font-size="31.95">0</text>
<text transform="translate(1528.64 1009.80) scale(1.074 1)" font-size="31.95">9</text>
<text transform="translate(1547.73 1009.80) scale(1.139 1)" font-size="31.95">:</text>
<text transform="translate(1557.83 1009.80) scale(1.074 1)" font-size="31.95">4</text>
<text transform="translate(1576.92 1009.80) scale(1.074 1)" font-size="31.95">3</text>
<line x1="1664.34" y1="975.50" x2="1664.34" y2="981.33" stroke="#000" stroke-width="1.33"/>
<text transform="translate(1621.11 1009.80) scale(1.074 1)" font-size="31.95">0</text>
<text transform="translate(1640.20 1009.80) scale(1.074 1)" font-size="31.95">9</text>
<text transform="translate(1659.29 1009.80) scale(1.139 1)" font-size="31.95">:</text>
<text transform="translate(1669.39 1009.80) scale(1.074 1)" font-size="31.95">4</text>
<text transform="translate(1688.48 1009.80) scale(1.074 1)" font-size="31.95">4</text>
<line x1="96.67" y1="923.30" x2="102.50" y2="923.30" stroke="#000" stroke-width="1.33"/>
<text transform="translate(52.23 934.20) scale(1.074 1)" font-size="31.95">2</text>
<text transform="translate(71.31 934.20) scale(1.074 1)" font-size="31.95">0</text>
<line x1="96.67" y1="794.90" x2="102.50" y2="794.90" stroke="#000" stroke-width="1.33"/>
<text transform="translate(52.23 805.80) scale(1.074 1)" font-size="31.95">3</text>
<text transform="translate(71.31 805.80) scale(1.074 1)" font-size="31.95">0</text>
<line x1="96.67" y1="666.50" x2="102.50" y2="666.50" stroke="#000" stroke-width="1.33"/>
<text transform="translate(52.23 677.40) scale(1.074 1)" font-size="31.95">4</text>
<text transform="translate(71.31 677.40) scale(1.074 1)" font-size="31.95">0</text>
<line x1="96.67" y1="538.10" x2="102.50" y2="538.10" stroke="#000" stroke-width="1.33"/>
<text transform="translate(52.23 549.00) scale(1.074 1)" font-size="31.95">5</text>
<text transform="translate(71.31 549.00) scale(1.074 1)" font-size="31.95">0</text>
<line x1="96.67" y1="409.70" x2="102.50" y2="409.70" stroke="#000" stroke-width="1.33"/>
<text transform="translate(52.23 420.60) scale(1.074 1)" font-size="31.95">6</text>
<text transform="translate(71.31 420.60) scale(1.074 1)" font-size="31.95">0</text>
<line x1="96.67" y1="281.30" x2="102.50" y2="281.30" stroke="#000" stroke-width="1.33"/>
<text transform="translate(52.23 292.20) scale(1.074 1)" font-size="31.95">7</text>
<text transform="translate(71.31 292.20) scale(1.074 1)" font-size="31.95">0</text>
<line x1="96.67" y1="152.90" x2="102.50" y2="152.90" stroke="#000" stroke-width="1.33"/>
<text transform="translate(52.23 163.80) scale(1.074 1)" font-size="31.95">8</text>
<text transform="translate(71.31 163.80) scale(1.074 1)" font-size="31.95">0</text>
<text transform="translate(742.68 1048.50) scale(0.964 1)" font-size="35.00">O</text>
<text transform="translate(768.92 1048.50) scale(1.087 1)" font-size="35.00">b</text>
<text transform="translate(790.08 1048.50) scale(0.992 1)" font-size="35.00">s</text>
<text transform="translate(807.44 1048.50) scale(1.054 1)" font-size="35.00">e</text>
<text transform="translate(827.95 1048.50) scale(1.176 1)" font-size="35.00">r</text>
<text transform="translate(841.65 1048.50) scale(1.127 1)" font-size="35.00">v</text>
<text transform="translate(861.37 1048.50) scale(1.049 1)" font-size="35.00">a</text>
<text transform="translate(882.40 1048.50) scale(1.220 1)" font-size="35.00">t</text>
<text transform="translate(894.87 1048.50) scale(1.191 1)" font-size="35.00">i</text>
<text transform="translate(904.13 1048.50) scale(1.048 1)" font-size="35.00">o</text>
<text transform="translate(924.52 1048.50) scale(1.085 1)" font-size="35.00">n</text>
<text transform="translate(956.84 1048.50) scale(1.220 1)" font-size="35.00">t</text>
<text transform="translate(969.31 1048.50) scale(1.191 1)" font-size="35.00">i</text>
<text transform="translate(978.57 1048.50) scale(1.114 1)" font-size="35.00">m</text>
<text transform="translate(1011.03 1048.50) scale(1.054 1)" font-size="35.00">e</text>
<text transform="translate(1042.71 1048.50) scale(1.220 1)" font-size="35.00">[</text>
<text transform="translate(1055.14 1048.50) scale(0.965 1)" font-size="35.00">U</text>
<text transform="translate(1079.53 1048.50) scale(0.952 1)" font-size="35.00">T</text>
<text transform="translate(1097.94 1048.50) scale(0.921 1)" font-size="35.00">C</text>
<text transform="translate(1121.78 1048.50) scale(1.220 1)" font-size="35.00">]</text>
<text transform="translate(37.00 653.45) rotate(-90) scale(0.897 1)" font-size="35.00">F</text>
<text transform="translate(37.00 636.70) rotate(-90) scale(1.176 1)" font-size="35.00">r</text>
<text transform="translate(37.00 623.73) rotate(-90) scale(1.054 1)" font-size="35.00">e</text>
<text transform="translate(37.00 603.23) rotate(-90) scale(1.087 1)" font-size="35.00">q</text>
<text transform="translate(37.00 582.07) rotate(-90) scale(1.085 1)" font-size="35.00">u</text>
<text transform="translate(37.00 560.95) rotate(-90) scale(1.054 1)" font-size="35.00">e</text>
<text transform="translate(37.00 540.44) rotate(-90) scale(1.085 1)" font-size="35.00">n</text>
<text transform="translate(37.00 519.32) rotate(-90) scale(1.047 1)" font-size="35.00">c</text>
<text transform="translate(37.00 500.99) rotate(-90) scale(1.127 1)" font-size="35.00">y</text>
<text transform="translate(37.00 470.10) rotate(-90) scale(1.220 1)" font-size="35.00">[</text>
<text transform="translate(37.00 457.67) rotate(-90) scale(0.986 1)" font-size="35.00">M</text>
<text transform="translate(37.00 428.91) rotate(-90) scale(0.992 1)" font-size="35.00">H</text>
<text transform="translate(37.00 403.85) rotate(-90) scale(1.000 1)" font-size="35.00">z</text>
<text transform="translate(37.00 385.78) rotate(-90) scale(1.220 1)" font-size="35.00">]</text>
<text transform="translate(187.64 41.00) scale(1.079 1)" font-size="38.87">2</text>
<text transform="translate(210.97 41.00) scale(1.079 1)" font-size="38.87">0</text>
<text transform="translate(234.30 41.00) scale(1.079 1)" font-size="38.87">2</text>
<text transform="translate(257.63 41.00) scale(1.079 1)" font-size="38.87">6</text>
<text transform="translate(280.96 41.00) scale(1.144 1)" font-size="38.87">/</text>
<text transform="translate(293.32 41.00) scale(1.079 1)" font-size="38.87">0</text>
<text transform="translate(316.65 41.00) scale(1.079 1)" font-size="38.87">2</text>
<text transform="translate(339.98 41.00) scale(1.144 1)" font-size="38.87">/</text>
<text transform="translate(352.33 41.00) scale(1.079 1)" font-size="38.87">0</text>
<text transform="translate(375.66 41.00) scale(1.079 1)" font-size="38.87">1</text>
<text transform="translate(422.31 41.00) scale(0.908 1)" font-size="38.87">R</text>
<text transform="translate(446.98 41.00) scale(1.039 1)" font-size="38.87">a</text>
<text transform="translate(469.45 41.00) scale(1.077 1)" font-size="38.87">d</text>
<text transform="translate(492.73 41.00) scale(1.180 1)" font-size="38.87">i</text>
<text transform="translate(502.92 41.00) scale(1.038 1)" font-size="38.87">o</text>
<text transform="translate(537.01 41.00) scale(1.195 1)" font-size="38.87">f</text>
<text transform="translate(549.92 41.00) scale(1.180 1)" font-size="38.87">l</text>
<text transform="translate(560.11 41.00) scale(1.075 1)" font-size="38.87">u</text>
<text transform="translate(583.35 41.00) scale(1.117 1)" font-size="38.87">x</text>
<text transform="translate(616.71 41.00) scale(1.077 1)" font-size="38.87">d</text>
<text transform="translate(639.98 41.00) scale(1.044 1)" font-size="38.87">e</text>
<text transform="translate(662.54 41.00) scale(1.075 1)" font-size="38.87">n</text>
<text transform="translate(685.78 41.00) scale(0.983 1)" font-size="38.87">s</text>
<text transform="translate(704.89 41.00) scale(1.180 1)" font-size="38.87">i</text>
<text transform="translate(715.68 41.00) scale(1.220 1)" font-size="38.87">t</text>
<text transform="translate(729.46 41.00) scale(1.117 1)" font-size="38.87">y</text>
<text transform="translate(751.16 41.00) scale(1.079 1)" font-size="38.87">,</text>
<text transform="translate(774.47 41.00) scale(1.044 1)" font-size="38.87">e</text>
<text transform="translate(797.03 41.00) scale(1.022 1)" font-size="38.87">-</text>
<text transform="translate(810.26 41.00) scale(0.912 1)" font-size="38.87">C</text>
<text transform="translate(835.87 41.00) scale(0.968 1)" font-size="38.87">A</text>
<text transform="translate(860.95 41.00) scale(0.945 1)" font-size="38.87">L</text>
<text transform="translate(881.38 41.00) scale(0.945 1)" font-size="38.87">L</text>
<text transform="translate(901.81 41.00) scale(1.001 1)" font-size="38.87">I</text>
<text transform="translate(912.63 41.00) scale(0.898 1)" font-size="38.87">S</text>
<text transform="translate(935.90 41.00) scale(0.943 1)" font-size="38.87">T</text>
<text transform="translate(958.30 41.00) scale(0.955 1)" font-size="38.87">O</text>
<text transform="translate(998.82 41.00) scale(1.105 1)" font-size="38.87">(</text>
<text transform="translate(1013.13 41.00) scale(0.977 1)" font-size="38.87">N</text>
<text transform="translate(1040.56 41.00) scale(0.955 1)" font-size="38.87">O</text>
<text transform="translate(1069.42 41.00) scale(0.908 1)" font-size="38.87">R</text>
<text transform="translate(1093.42 41.00) scale(0.988 1)" font-size="38.87">W</text>
<text transform="translate(1127.67 41.00) scale(0.968 1)" font-size="38.87">A</text>
<text transform="translate(1149.91 41.00) scale(0.864 1)" font-size="38.87">Y</text>
<text transform="translate(1167.96 41.00) scale(1.022 1)" font-size="38.87">-</text>
<text transform="translate(1181.19 41.00) scale(0.894 1)" font-size="38.87">E</text>
<text transform="translate(1204.36 41.00) scale(0.940 1)" font-size="38.87">G</text>
<text transform="translate(1232.77 41.00) scale(0.894 1)" font-size="38.87">E</text>
<text transform="translate(1255.94 41.00) scale(0.908 1)" font-size="38.87">R</text>
<text transform="translate(1281.42 41.00) scale(0.898 1)" font-size="38.87">S</text>
<text transform="translate(1304.70 41.00) scale(0.956 1)" font-size="38.87">U</text>
<text transform="translate(1331.54 41.00) scale(0.977 1)" font-size="38.87">N</text>
<text transform="translate(1358.97 41.00) scale(1.006 1)" font-size="38.87">D</text>
<text transform="translate(1387.21 41.00) scale(1.105 1)" font-size="38.87">)</text>
<text transform="translate(1401.51 41.00) scale(1.079 1)" font-size="38.87">,</text>
<text transform="translate(1424.83 41.00) scale(0.888 1)" font-size="38.87">F</text>
<text transform="translate(1444.61 41.00) scale(1.038 1)" font-size="38.87">o</text>
<text transform="translate(1467.05 41.00) scale(1.037 1)" font-size="38.87">c</text>
<text transform="translate(1487.21 41.00) scale(1.075 1)" font-size="38.87">u</text>
<text transform="translate(1510.45 41.00) scale(0.983 1)" font-size="38.87">s</text>
<text transform="translate(1529.55 41.00) scale(1.037 1)" font-size="38.87">c</text>
<text transform="translate(1549.72 41.00) scale(1.038 1)" font-size="38.87">o</text>
<text transform="translate(1572.15 41.00) scale(1.077 1)" font-size="38.87">d</text>
<text transform="translate(1595.43 41.00) scale(1.044 1)" font-size="38.87">e</text>
<text transform="translate(1617.99 41.00) scale(1.144 1)" font-size="38.87">:</text>
<text transform="translate(1642.00 41.00) scale(1.079 1)" font-size="38.87">0</text>
<text transform="translate(1665.33 41.00) scale(1.079 1)" font-size="38.87">1</text>
<rect x="1916.50" y="27.50" width="43.30" height="960.00" fill="url(#cb)" stroke="#000" stroke-width="1.33"/>
<line x1="1959.80" y1="987.50" x2="1965.63" y2="987.50" stroke="#000" stroke-width="1.33"/>
<text transform="translate(1972.12 993.30) scale(1.220 1)" font-size="17.75">−</text>
<text transform="translate(1985.43 993.30) scale(1.074 1)" font-size="17.75">2</text>
<line x1="1959.80" y1="874.56" x2="1965.63" y2="874.56" stroke="#000" stroke-width="1.33"/>
<text transform="translate(1971.46 880.36) scale(1.074 1)" font-size="17.75">0</text>
<line x1="1959.80" y1="761.62" x2="1965.63" y2="761.62" stroke="#000" stroke-width="1.33"/>
<text transform="translate(1971.46 767.42) scale(1.074 1)" font-size="17.75">2</text>
<line x1="1959.80" y1="648.68" x2="1965.63" y2="648.68" stroke="#000" stroke-width="1.33"/>
<text transform="translate(1971.46 654.48) scale(1.074 1)" font-size="17.75">4</text>
<line x1="1959.80" y1="535.74" x2="1965.63" y2="535.74" stroke="#000" stroke-width="1.33"/>
<text transform="translate(1971.46 541.54) scale(1.074 1)" font-size="17.75">6</text>
<line x1="1959.80" y1="422.79" x2="1965.63" y2="422.79" stroke="#000" stroke-width="1.33"/>
<text transform="translate(1971.46 428.59) scale(1.074 1)" font-size="17.75">8</text>
<line x1="1959.80" y1="309.85" x2="1965.63" y2="309.85" stroke="#000" stroke-width="1.33"/>
<text transform="translate(1971.46 315.65) scale(1.074 1)" font-size="17.75">1</text>
<text transform="translate(1982.07 315.65) scale(1.074 1)" font-size="17.75">0</text>
<line x1="1959.80" y1="196.91" x2="1965.63" y2="196.91" stroke="#000" stroke-width="1.33"/>
<text transform="translate(1971.46 202.71) scale(1.074 1)" font-size="17.75">1</text>
<text transform="translate(1982.07 202.71) scale(1.074 1)" font-size="17.75">2</text>
<line x1="1959.80" y1="83.97" x2="1965.63" y2="83.97" stroke="#000" stroke-width="1.33"/>
<text transform="translate(1971.46 89.77) scale(1.074 1)" font-size="17.75">1</text>
<text transform="translate(1982.07 89.77) scale(1.074 1)" font-size="17.75">4</text>
<text transform="translate(2027.40 689.77) rotate(-90) scale(1.087 1)" font-size="35.00">d</text>
<text transform="translate(2027.40 668.62) rotate(-90) scale(0.980 1)" font-size="35.00">B</text>
<text transform="translate(2027.40 635.16) rotate(-90) scale(1.049 1)" font-size="35.00">a</text>
<text transform="translate(2027.40 614.73) rotate(-90) scale(1.087 1)" font-size="35.00">b</text>
<text transform="translate(2027.40 593.58) rotate(-90) scale(1.048 1)" font-size="35.00">o</text>
<text transform="translate(2027.40 573.18) rotate(-90) scale(1.127 1)" font-size="35.00">v</text>
<text transform="translate(2027.40 553.46) rotate(-90) scale(1.054 1)" font-size="35.00">e</text>
<text transform="translate(2027.40 522.36) rotate(-90) scale(1.087 1)" font-size="35.00">b</text>
<text transform="translate(2027.40 501.20) rotate(-90) scale(1.049 1)" font-size="35.00">a</text>
<text transform="translate(2027.40 480.78) rotate(-90) scale(1.047 1)" font-size="35.00">c</text>
<text transform="translate(2027.40 462.45) rotate(-90) scale(1.103 1)" font-size="35.00">k</text>
<text transform="translate(2027.40 443.15) rotate(-90) scale(1.087 1)" font-size="35.00">g</text>
<text transform="translate(2027.40 421.99) rotate(-90) scale(1.176 1)" font-size="35.00">r</text>
<text transform="translate(2027.40 409.02) rotate(-90) scale(1.048 1)" font-size="35.00">o</text>
<text transform="translate(2027.40 388.63) rotate(-90) scale(1.085 1)" font-size="35.00">u</text>
<text transform="translate(2027.40 367.51) rotate(-90) scale(1.085 1)" font-size="35.00">n</text>
<text transform="translate(2027.40 346.38) rotate(-90) scale(1.087 1)" font-size="35.00">d</text>
</g>
</svg>
</body></html>
